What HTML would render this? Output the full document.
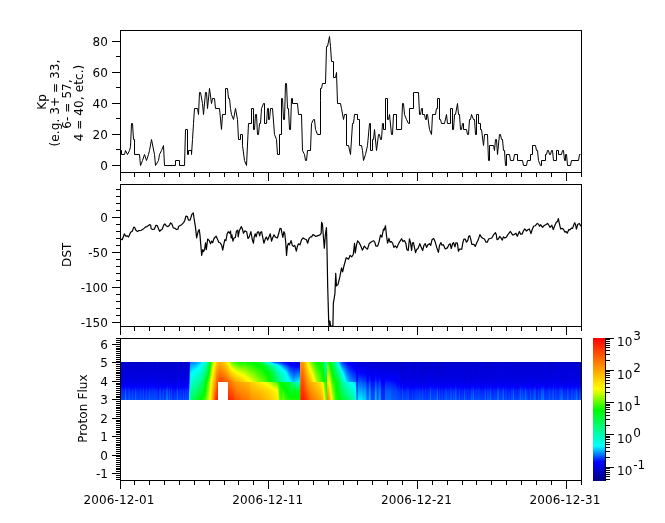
<!DOCTYPE html>
<html><head><meta charset="utf-8"><title>Kp DST Proton Flux</title>
<style>html,body{margin:0;padding:0;background:#fff}svg{display:block}</style></head>
<body>
<svg width="665" height="523" viewBox="0 0 665 523">
<rect width="665" height="523" fill="#fff"/>
<defs><linearGradient id="g1" x2="0" y2="1"><stop offset="0" stop-color="#0000d7"/><stop offset="0.526" stop-color="#0000e5"/><stop offset="0.666" stop-color="#00f"/><stop offset="0.763" stop-color="#002bff"/><stop offset="1" stop-color="#004eff"/></linearGradient><linearGradient id="g2" x2="0" y2="1"><stop offset="0" stop-color="#0000cd"/><stop offset="0.526" stop-color="#0000ef"/><stop offset="0.629" stop-color="#00f"/><stop offset="0.763" stop-color="#0032ff"/><stop offset="1" stop-color="#0050ff"/></linearGradient><linearGradient id="g3" x2="0" y2="1"><stop offset="0" stop-color="#0000d7"/><stop offset="0.526" stop-color="#0000ef"/><stop offset="0.641" stop-color="#00f"/><stop offset="0.763" stop-color="#002aff"/><stop offset="1" stop-color="#0045ff"/></linearGradient><linearGradient id="g4" x2="0" y2="1"><stop offset="0" stop-color="#0000d4"/><stop offset="0.526" stop-color="#00e"/><stop offset="0.651" stop-color="#00f"/><stop offset="0.763" stop-color="#0025ff"/><stop offset="1" stop-color="#003fff"/></linearGradient><linearGradient id="g5" x2="0" y2="1"><stop offset="0" stop-color="#0000d0"/><stop offset="0.526" stop-color="#0000e7"/><stop offset="0.669" stop-color="#00f"/><stop offset="0.763" stop-color="#0027ff"/><stop offset="1" stop-color="#0047ff"/></linearGradient><linearGradient id="g6" x2="0" y2="1"><stop offset="0" stop-color="#0000d2"/><stop offset="0.526" stop-color="#0000e2"/><stop offset="0.632" stop-color="#00f"/><stop offset="0.763" stop-color="#0056ff"/><stop offset="1" stop-color="#008aff"/></linearGradient><linearGradient id="g7" x2="0" y2="1"><stop offset="0" stop-color="#0000c6"/><stop offset="0.526" stop-color="#0000eb"/><stop offset="0.648" stop-color="#00f"/><stop offset="0.763" stop-color="#002eff"/><stop offset="1" stop-color="#004dff"/></linearGradient><linearGradient id="g8" x2="0" y2="1"><stop offset="0" stop-color="#0000d0"/><stop offset="0.526" stop-color="#0000e6"/><stop offset="0.679" stop-color="#00f"/><stop offset="0.763" stop-color="#02f"/><stop offset="1" stop-color="#0041ff"/></linearGradient><linearGradient id="g9" x2="0" y2="1"><stop offset="0" stop-color="#0000d4"/><stop offset="0.526" stop-color="#0000ef"/><stop offset="0.623" stop-color="#00f"/><stop offset="0.763" stop-color="#0039ff"/><stop offset="1" stop-color="#0059ff"/></linearGradient><linearGradient id="g10" x2="0" y2="1"><stop offset="0" stop-color="#0000cb"/><stop offset="0.526" stop-color="#0000eb"/><stop offset="0.638" stop-color="#00f"/><stop offset="0.763" stop-color="#0036ff"/><stop offset="1" stop-color="#0059ff"/></linearGradient><linearGradient id="g11" x2="0" y2="1"><stop offset="0" stop-color="#0000c9"/><stop offset="0.526" stop-color="#0000e3"/><stop offset="0.672" stop-color="#00f"/><stop offset="0.763" stop-color="#002aff"/><stop offset="1" stop-color="#004eff"/></linearGradient><linearGradient id="g12" x2="0" y2="1"><stop offset="0" stop-color="#0000c5"/><stop offset="0.526" stop-color="#0000e7"/><stop offset="0.672" stop-color="#00f"/><stop offset="0.763" stop-color="#0023ff"/><stop offset="1" stop-color="#0042ff"/></linearGradient><linearGradient id="g13" x2="0" y2="1"><stop offset="0" stop-color="#0000d6"/><stop offset="0.526" stop-color="#0000e0"/><stop offset="0.663" stop-color="#00f"/><stop offset="0.763" stop-color="#0036ff"/><stop offset="1" stop-color="#0061ff"/></linearGradient><linearGradient id="g14" x2="0" y2="1"><stop offset="0" stop-color="#0000ce"/><stop offset="0.526" stop-color="#0000ed"/><stop offset="0.651" stop-color="#00f"/><stop offset="0.763" stop-color="#0026ff"/><stop offset="1" stop-color="#0041ff"/></linearGradient><linearGradient id="g15" x2="0" y2="1"><stop offset="0" stop-color="#00c"/><stop offset="0.526" stop-color="#0000e4"/><stop offset="0.688" stop-color="#00f"/><stop offset="0.763" stop-color="#001fff"/><stop offset="1" stop-color="#003fff"/></linearGradient><linearGradient id="g16" x2="0" y2="1"><stop offset="0" stop-color="#0000cb"/><stop offset="0.526" stop-color="#0000e5"/><stop offset="0.639" stop-color="#00f"/><stop offset="0.763" stop-color="#0046ff"/><stop offset="1" stop-color="#0072ff"/></linearGradient><linearGradient id="g17" x2="0" y2="1"><stop offset="0" stop-color="#0000c3"/><stop offset="0.526" stop-color="#0000e2"/><stop offset="0.672" stop-color="#00f"/><stop offset="0.763" stop-color="#002bff"/><stop offset="1" stop-color="#0050ff"/></linearGradient><linearGradient id="g18" x2="0" y2="1"><stop offset="0" stop-color="#0000c9"/><stop offset="0.526" stop-color="#0000ef"/><stop offset="0.64" stop-color="#00f"/><stop offset="0.763" stop-color="#002aff"/><stop offset="1" stop-color="#0046ff"/></linearGradient><linearGradient id="g19" x2="0" y2="1"><stop offset="0" stop-color="#0000d2"/><stop offset="0.526" stop-color="#0000e3"/><stop offset="0.68" stop-color="#00f"/><stop offset="0.763" stop-color="#0025ff"/><stop offset="1" stop-color="#0048ff"/></linearGradient><linearGradient id="g20" x2="0" y2="1"><stop offset="0" stop-color="#0000ce"/><stop offset="0.526" stop-color="#0000ef"/><stop offset="0.64" stop-color="#00f"/><stop offset="0.763" stop-color="#0028ff"/><stop offset="1" stop-color="#0042ff"/></linearGradient><linearGradient id="g21" x2="0" y2="1"><stop offset="0" stop-color="#0000c7"/><stop offset="0.526" stop-color="#0000ef"/><stop offset="0.632" stop-color="#00f"/><stop offset="0.763" stop-color="#0030ff"/><stop offset="1" stop-color="#004dff"/></linearGradient><linearGradient id="g22" x2="0" y2="1"><stop offset="0" stop-color="#0000c5"/><stop offset="0.526" stop-color="#0000ea"/><stop offset="0.657" stop-color="#00f"/><stop offset="0.763" stop-color="#002aff"/><stop offset="1" stop-color="#004aff"/></linearGradient><linearGradient id="g23" x2="0" y2="1"><stop offset="0" stop-color="#0000c5"/><stop offset="0.526" stop-color="#0000e7"/><stop offset="0.671" stop-color="#00f"/><stop offset="0.763" stop-color="#0025ff"/><stop offset="1" stop-color="#04f"/></linearGradient><linearGradient id="g24" x2="0" y2="1"><stop offset="0" stop-color="#0000cf"/><stop offset="0.526" stop-color="#0000eb"/><stop offset="0.633" stop-color="#00f"/><stop offset="0.763" stop-color="#003aff"/><stop offset="1" stop-color="#005dff"/></linearGradient><linearGradient id="g25" x2="0" y2="1"><stop offset="0" stop-color="#0000d5"/><stop offset="0.526" stop-color="#0000e1"/><stop offset="0.7" stop-color="#00f"/><stop offset="0.763" stop-color="#001bff"/><stop offset="1" stop-color="#003cff"/></linearGradient><linearGradient id="g26" x2="0" y2="1"><stop offset="0" stop-color="#0000ce"/><stop offset="0.526" stop-color="#0000ec"/><stop offset="0.647" stop-color="#00f"/><stop offset="0.763" stop-color="#002cff"/><stop offset="1" stop-color="#004aff"/></linearGradient><linearGradient id="g27" x2="0" y2="1"><stop offset="0" stop-color="#0000cf"/><stop offset="0.526" stop-color="#0000f0"/><stop offset="0.621" stop-color="#00f"/><stop offset="0.763" stop-color="#0037ff"/><stop offset="1" stop-color="#0056ff"/></linearGradient><linearGradient id="g28" x2="0" y2="1"><stop offset="0" stop-color="#0000c9"/><stop offset="0.526" stop-color="#0000e1"/><stop offset="0.689" stop-color="#00f"/><stop offset="0.763" stop-color="#0021ff"/><stop offset="1" stop-color="#04f"/></linearGradient><linearGradient id="g29" x2="0" y2="1"><stop offset="0" stop-color="#0000d8"/><stop offset="0.526" stop-color="#0000e5"/><stop offset="0.672" stop-color="#00f"/><stop offset="0.763" stop-color="#0027ff"/><stop offset="1" stop-color="#0049ff"/></linearGradient><linearGradient id="g30" x2="0" y2="1"><stop offset="0" stop-color="#0000c7"/><stop offset="0.526" stop-color="#0000e2"/><stop offset="0.652" stop-color="#00f"/><stop offset="0.763" stop-color="#003eff"/><stop offset="1" stop-color="#006aff"/></linearGradient><linearGradient id="g31" x2="0" y2="1"><stop offset="0" stop-color="#0000ca"/><stop offset="0.526" stop-color="#00e"/><stop offset="0.639" stop-color="#00f"/><stop offset="0.763" stop-color="#002dff"/><stop offset="1" stop-color="#0049ff"/></linearGradient><linearGradient id="g32" x2="0" y2="1"><stop offset="0" stop-color="#0000d5"/><stop offset="0.526" stop-color="#0000ec"/><stop offset="0.641" stop-color="#00f"/><stop offset="0.763" stop-color="#002fff"/><stop offset="1" stop-color="#004eff"/></linearGradient><linearGradient id="g33" x2="0" y2="1"><stop offset="0" stop-color="#0000d5"/><stop offset="0.526" stop-color="#0000f0"/><stop offset="0.625" stop-color="#00f"/><stop offset="0.763" stop-color="#03f"/><stop offset="1" stop-color="#0051ff"/></linearGradient><linearGradient id="g34" x2="0" y2="1"><stop offset="0" stop-color="#0000c5"/><stop offset="0.526" stop-color="#0000ef"/><stop offset="0.636" stop-color="#00f"/><stop offset="0.763" stop-color="#002bff"/><stop offset="1" stop-color="#0046ff"/></linearGradient><linearGradient id="g35" x2="0" y2="1"><stop offset="0" stop-color="#0000d1"/><stop offset="0.526" stop-color="#0000ec"/><stop offset="0.633" stop-color="#00f"/><stop offset="0.763" stop-color="#0038ff"/><stop offset="1" stop-color="#005bff"/></linearGradient><linearGradient id="g36" x2="0" y2="1"><stop offset="0" stop-color="#0000c2"/><stop offset="0.526" stop-color="#0000e2"/><stop offset="0.673" stop-color="#00f"/><stop offset="0.763" stop-color="#002aff"/><stop offset="1" stop-color="#0050ff"/></linearGradient><linearGradient id="g37" x2="0" y2="1"><stop offset="0" stop-color="#0000d7"/><stop offset="0.526" stop-color="#00e"/><stop offset="0.637" stop-color="#00f"/><stop offset="0.763" stop-color="#002dff"/><stop offset="1" stop-color="#004aff"/></linearGradient><linearGradient id="g38" x2="0" y2="1"><stop offset="0" stop-color="#0000d5"/><stop offset="0.526" stop-color="#0000e3"/><stop offset="0.676" stop-color="#00f"/><stop offset="0.763" stop-color="#0028ff"/><stop offset="1" stop-color="#004cff"/></linearGradient><linearGradient id="g39" x2="0" y2="1"><stop offset="0" stop-color="#0000d6"/><stop offset="0.526" stop-color="#0000e7"/><stop offset="0.686" stop-color="#00f"/><stop offset="0.763" stop-color="#001bff"/><stop offset="1" stop-color="#0037ff"/></linearGradient><linearGradient id="g40" x2="0" y2="1"><stop offset="0" stop-color="#0000c2"/><stop offset="0.526" stop-color="#0000e7"/><stop offset="0.649" stop-color="#00f"/><stop offset="0.763" stop-color="#0035ff"/><stop offset="1" stop-color="#0059ff"/></linearGradient><linearGradient id="g41" x2="0" y2="1"><stop offset="0" stop-color="#0000d1"/><stop offset="0.526" stop-color="#0000ec"/><stop offset="0.625" stop-color="#00f"/><stop offset="0.763" stop-color="#0042ff"/><stop offset="1" stop-color="#0067ff"/></linearGradient><linearGradient id="g42" x2="0" y2="1"><stop offset="0" stop-color="#0000c7"/><stop offset="0.526" stop-color="#0000e7"/><stop offset="0.68" stop-color="#00f"/><stop offset="0.763" stop-color="#001fff"/><stop offset="1" stop-color="#003cff"/></linearGradient><linearGradient id="g43" x2="0" y2="1"><stop offset="0" stop-color="#0000c2"/><stop offset="0.526" stop-color="#0000e3"/><stop offset="0.675" stop-color="#00f"/><stop offset="0.763" stop-color="#0028ff"/><stop offset="1" stop-color="#004cff"/></linearGradient><linearGradient id="g44" x2="0" y2="1"><stop offset="0" stop-color="#0000c8"/><stop offset="0.526" stop-color="#0000e3"/><stop offset="0.655" stop-color="#00f"/><stop offset="0.763" stop-color="#0039ff"/><stop offset="1" stop-color="#0063ff"/></linearGradient><linearGradient id="g45" x2="0" y2="1"><stop offset="0" stop-color="#0000d8"/><stop offset="0.526" stop-color="#0000ea"/><stop offset="0.661" stop-color="#00f"/><stop offset="0.763" stop-color="#0026ff"/><stop offset="1" stop-color="#0043ff"/></linearGradient><linearGradient id="g46" x2="0" y2="1"><stop offset="0" stop-color="#0000c9"/><stop offset="0.526" stop-color="#0000ec"/><stop offset="0.65" stop-color="#00f"/><stop offset="0.763" stop-color="#002bff"/><stop offset="1" stop-color="#0049ff"/></linearGradient><linearGradient id="g47" x2="0" y2="1"><stop offset="0" stop-color="#0000c2"/><stop offset="0.526" stop-color="#0000e1"/><stop offset="0.643" stop-color="#00f"/><stop offset="0.763" stop-color="#004bff"/><stop offset="1" stop-color="#007cff"/></linearGradient><linearGradient id="g48" x2="0" y2="1"><stop offset="0" stop-color="#0000d4"/><stop offset="0.526" stop-color="#0000ec"/><stop offset="0.61" stop-color="#00f"/><stop offset="0.763" stop-color="#0053ff"/><stop offset="1" stop-color="#007eff"/></linearGradient><linearGradient id="g49" x2="0" y2="1"><stop offset="0" stop-color="#0000c4"/><stop offset="0.526" stop-color="#0000e6"/><stop offset="0.667" stop-color="#00f"/><stop offset="0.763" stop-color="#0029ff"/><stop offset="1" stop-color="#004bff"/></linearGradient><linearGradient id="g50" x2="0" y2="1"><stop offset="0" stop-color="#0000c6"/><stop offset="0.526" stop-color="#0000e5"/><stop offset="0.643" stop-color="#00f"/><stop offset="0.763" stop-color="#0040ff"/><stop offset="1" stop-color="#0069ff"/></linearGradient><linearGradient id="g51" x2="0" y2="1"><stop offset="0" stop-color="#0000c7"/><stop offset="0.526" stop-color="#0000e1"/><stop offset="0.694" stop-color="#00f"/><stop offset="0.763" stop-color="#001dff"/><stop offset="1" stop-color="#003fff"/></linearGradient><linearGradient id="g52" x2="0" y2="1"><stop offset="0" stop-color="#0000c7"/><stop offset="0.526" stop-color="#0000ed"/><stop offset="0.626" stop-color="#00f"/><stop offset="0.763" stop-color="#003cff"/><stop offset="1" stop-color="#005eff"/></linearGradient><linearGradient id="g53" x2="0" y2="1"><stop offset="0" stop-color="#0000d0"/><stop offset="0.526" stop-color="#0000e0"/><stop offset="0.698" stop-color="#00f"/><stop offset="0.763" stop-color="#001cff"/><stop offset="1" stop-color="#003eff"/></linearGradient><linearGradient id="g54" x2="0" y2="1"><stop offset="0" stop-color="#0000d5"/><stop offset="0.526" stop-color="#0000e4"/><stop offset="0.69" stop-color="#00f"/><stop offset="0.763" stop-color="#001dff"/><stop offset="1" stop-color="#003cff"/></linearGradient><linearGradient id="g55" x2="0" y2="1"><stop offset="0" stop-color="#0000c6"/><stop offset="0.526" stop-color="#0000e1"/><stop offset="0.679" stop-color="#00f"/><stop offset="0.763" stop-color="#0027ff"/><stop offset="1" stop-color="#004cff"/></linearGradient><linearGradient id="g56" x2="0" y2="1"><stop offset="0" stop-color="#0000ca"/><stop offset="0.526" stop-color="#0000e0"/><stop offset="0.702" stop-color="#00f"/><stop offset="0.763" stop-color="#001aff"/><stop offset="1" stop-color="#003bff"/></linearGradient><linearGradient id="g57" x2="0" y2="1"><stop offset="0" stop-color="#0000d9"/><stop offset="0.526" stop-color="#00e"/><stop offset="0.646" stop-color="#00f"/><stop offset="0.763" stop-color="#0029ff"/><stop offset="1" stop-color="#04f"/></linearGradient><linearGradient id="g58" x2="0" y2="1"><stop offset="0" stop-color="#0000c3"/><stop offset="0.526" stop-color="#0000e7"/><stop offset="0.627" stop-color="#00f"/><stop offset="0.763" stop-color="#004dff"/><stop offset="1" stop-color="#0079ff"/></linearGradient><linearGradient id="g59" x2="0" y2="1"><stop offset="0" stop-color="#0000d4"/><stop offset="0.526" stop-color="#0000e3"/><stop offset="0.691" stop-color="#00f"/><stop offset="0.763" stop-color="#001eff"/><stop offset="1" stop-color="#003fff"/></linearGradient><linearGradient id="g60" x2="0" y2="1"><stop offset="0" stop-color="#0000cb"/><stop offset="0.526" stop-color="#0000ec"/><stop offset="0.648" stop-color="#00f"/><stop offset="0.763" stop-color="#002bff"/><stop offset="1" stop-color="#0049ff"/></linearGradient><linearGradient id="g61" x2="0" y2="1"><stop offset="0" stop-color="#0000c4"/><stop offset="0.526" stop-color="#00e"/><stop offset="0.644" stop-color="#00f"/><stop offset="0.763" stop-color="#002aff"/><stop offset="1" stop-color="#0046ff"/></linearGradient><linearGradient id="g62" x2="0" y2="1"><stop offset="0" stop-color="#0000c4"/><stop offset="0.526" stop-color="#0000e7"/><stop offset="0.67" stop-color="#00f"/><stop offset="0.763" stop-color="#0026ff"/><stop offset="1" stop-color="#0047ff"/></linearGradient><linearGradient id="g63" x2="0" y2="1"><stop offset="0" stop-color="#0000cd"/><stop offset="0.526" stop-color="#0000e8"/><stop offset="0.677" stop-color="#00f"/><stop offset="0.763" stop-color="#0020ff"/><stop offset="1" stop-color="#003dff"/></linearGradient><linearGradient id="g64" x2="0" y2="1"><stop offset="0" stop-color="#0000d5"/><stop offset="0.526" stop-color="#0000e9"/><stop offset="0.645" stop-color="#00f"/><stop offset="0.763" stop-color="#0035ff"/><stop offset="1" stop-color="#0058ff"/></linearGradient><linearGradient id="g65" x2="0" y2="1"><stop offset="0" stop-color="#0000ce"/><stop offset="0.526" stop-color="#0000ed"/><stop offset="0.659" stop-color="#00f"/><stop offset="0.763" stop-color="#02f"/><stop offset="1" stop-color="#003bff"/></linearGradient><linearGradient id="g66" x2="0" y2="1"><stop offset="0" stop-color="#0000cd"/><stop offset="0.526" stop-color="#0000eb"/><stop offset="0.638" stop-color="#00f"/><stop offset="0.763" stop-color="#0037ff"/><stop offset="1" stop-color="#005aff"/></linearGradient><linearGradient id="g67" x2="0" y2="1"><stop offset="0" stop-color="#00c"/><stop offset="0.526" stop-color="#00e"/><stop offset="0.642" stop-color="#00f"/><stop offset="0.763" stop-color="#002bff"/><stop offset="1" stop-color="#0047ff"/></linearGradient><linearGradient id="g68" x2="0" y2="1"><stop offset="0" stop-color="#0000cd"/><stop offset="0.526" stop-color="#0000e4"/><stop offset="0.676" stop-color="#00f"/><stop offset="0.763" stop-color="#0027ff"/><stop offset="1" stop-color="#004aff"/></linearGradient><linearGradient id="g69" x2="0" y2="1"><stop offset="0" stop-color="#0000cf"/><stop offset="0.526" stop-color="#0000e1"/><stop offset="0.684" stop-color="#00f"/><stop offset="0.763" stop-color="#0024ff"/><stop offset="1" stop-color="#0048ff"/></linearGradient><linearGradient id="g70" x2="0" y2="1"><stop offset="0" stop-color="#0000f9"/><stop offset="0.056" stop-color="#00f"/><stop offset="0.526" stop-color="#007aff"/><stop offset="0.851" stop-color="#0ff"/><stop offset="1" stop-color="#00fee4"/></linearGradient><linearGradient id="g71" x2="0" y2="1"><stop offset="0" stop-color="#0075ff"/><stop offset="0.325" stop-color="#0ff"/><stop offset="0.526" stop-color="#00fed9"/><stop offset="1" stop-color="#00fc66"/></linearGradient><linearGradient id="g72" x2="0" y2="1"><stop offset="0" stop-color="#0080ff"/><stop offset="0.293" stop-color="#0ff"/><stop offset="0.526" stop-color="#00fed2"/><stop offset="1" stop-color="#00fc67"/></linearGradient><linearGradient id="g73" x2="0" y2="1"><stop offset="0" stop-color="#0084ff"/><stop offset="0.27" stop-color="#0ff"/><stop offset="0.526" stop-color="#00fecb"/><stop offset="1" stop-color="#00fc5b"/></linearGradient><linearGradient id="g74" x2="0" y2="1"><stop offset="0" stop-color="#0087ff"/><stop offset="0.249" stop-color="#0ff"/><stop offset="0.526" stop-color="#00fec4"/><stop offset="1" stop-color="#00fc4f"/></linearGradient><linearGradient id="g75" x2="0" y2="1"><stop offset="0" stop-color="#008aff"/><stop offset="0.23" stop-color="#0ff"/><stop offset="0.526" stop-color="#00febc"/><stop offset="1" stop-color="#00fb43"/></linearGradient><linearGradient id="g76" x2="0" y2="1"><stop offset="0" stop-color="#008eff"/><stop offset="0.213" stop-color="#0ff"/><stop offset="0.526" stop-color="#00feb5"/><stop offset="1" stop-color="#00fb37"/></linearGradient><linearGradient id="g77" x2="0" y2="1"><stop offset="0" stop-color="#0096ff"/><stop offset="0.192" stop-color="#0ff"/><stop offset="0.526" stop-color="#00fdad"/><stop offset="1" stop-color="#00fb2d"/></linearGradient><linearGradient id="g78" x2="0" y2="1"><stop offset="0" stop-color="#00a3ff"/><stop offset="0.166" stop-color="#0ff"/><stop offset="0.526" stop-color="#00fda6"/><stop offset="1" stop-color="#00fb22"/></linearGradient><linearGradient id="g79" x2="0" y2="1"><stop offset="0" stop-color="#00b0ff"/><stop offset="0.141" stop-color="#0ff"/><stop offset="0.526" stop-color="#00fd9f"/><stop offset="1" stop-color="#00fa18"/></linearGradient><linearGradient id="g80" x2="0" y2="1"><stop offset="0" stop-color="#00bdff"/><stop offset="0.117" stop-color="#0ff"/><stop offset="0.526" stop-color="#00fd98"/><stop offset="1" stop-color="#00fa0e"/></linearGradient><linearGradient id="g81" x2="0" y2="1"><stop offset="0" stop-color="#00caff"/><stop offset="0.093" stop-color="#0ff"/><stop offset="0.526" stop-color="#00fd91"/><stop offset="1" stop-color="#00fa04"/></linearGradient><linearGradient id="g82" x2="0" y2="1"><stop offset="0" stop-color="#00dfff"/><stop offset="0.053" stop-color="#0ff"/><stop offset="0.526" stop-color="#00fc80"/><stop offset="0.978" stop-color="#00fa00"/><stop offset="1" stop-color="#0bfa00"/></linearGradient><linearGradient id="g83" x2="0" y2="1"><stop offset="0" stop-color="#00faff"/><stop offset="0.008" stop-color="#0ff"/><stop offset="0.526" stop-color="#00fc68"/><stop offset="0.935" stop-color="#00fa00"/><stop offset="1" stop-color="#1cfb00"/></linearGradient><linearGradient id="g84" x2="0" y2="1"><stop offset="0" stop-color="#00fff6"/><stop offset="0.526" stop-color="#00fc50"/><stop offset="0.881" stop-color="#00fa00"/><stop offset="1" stop-color="#2efb00"/></linearGradient><linearGradient id="g85" x2="0" y2="1"><stop offset="0" stop-color="#00ffea"/><stop offset="0.526" stop-color="#00fb39"/><stop offset="0.812" stop-color="#00fa00"/><stop offset="1" stop-color="#40fb00"/></linearGradient><linearGradient id="g86" x2="0" y2="1"><stop offset="0" stop-color="#00fede"/><stop offset="0.526" stop-color="#00fb21"/><stop offset="0.721" stop-color="#00fa00"/><stop offset="1" stop-color="#51fc00"/></linearGradient><linearGradient id="g87" x2="0" y2="1"><stop offset="0" stop-color="#00febb"/><stop offset="0.526" stop-color="#00fa04"/><stop offset="0.554" stop-color="#00fa00"/><stop offset="1" stop-color="#77fc00"/></linearGradient><linearGradient id="g88" x2="0" y2="1"><stop offset="0" stop-color="#00fd92"/><stop offset="0.447" stop-color="#00fa00"/><stop offset="0.526" stop-color="#2cfb00"/><stop offset="1" stop-color="#a2fd00"/></linearGradient><linearGradient id="g89" x2="0" y2="1"><stop offset="0" stop-color="#00fc6a"/><stop offset="0.344" stop-color="#00fa00"/><stop offset="0.526" stop-color="#60fc00"/><stop offset="1" stop-color="#ccfe00"/></linearGradient><linearGradient id="g90" x2="0" y2="1"><stop offset="0" stop-color="#00fb41"/><stop offset="0.226" stop-color="#00fa00"/><stop offset="0.526" stop-color="#94fd00"/><stop offset="1" stop-color="#f7ff00"/></linearGradient><linearGradient id="g91" x2="0" y2="1"><stop offset="0" stop-color="#00fa0c"/><stop offset="0.045" stop-color="#00fa00"/><stop offset="0.526" stop-color="#d7fe00"/><stop offset="0.742" stop-color="#ff0"/><stop offset="1" stop-color="#ffeb00"/></linearGradient><linearGradient id="g92" x2="0" y2="1"><stop offset="0" stop-color="#4cfb00"/><stop offset="0.45" stop-color="#ff0"/><stop offset="0.526" stop-color="#fff200"/><stop offset="1" stop-color="#ffd200"/></linearGradient><linearGradient id="g93" x2="0" y2="1"><stop offset="0" stop-color="#99fd00"/><stop offset="0.275" stop-color="#ff0"/><stop offset="0.526" stop-color="#ffd900"/><stop offset="1" stop-color="#ffb300"/></linearGradient><linearGradient id="g94" x2="0" y2="1"><stop offset="0" stop-color="#cbfe00"/><stop offset="0.142" stop-color="#ff0"/><stop offset="0.526" stop-color="#ffc500"/><stop offset="1" stop-color="#ff8a00"/></linearGradient><linearGradient id="g95" x2="0" y2="1"><stop offset="0" stop-color="#fcff00"/><stop offset="0.008" stop-color="#ff0"/><stop offset="0.526" stop-color="#ffb000"/><stop offset="1" stop-color="#ff6200"/></linearGradient><linearGradient id="g96" x2="0" y2="1"><stop offset="0" stop-color="#ffeb00"/><stop offset="0.526" stop-color="#ff9700"/><stop offset="1" stop-color="#ff3c00"/></linearGradient><linearGradient id="g97" x2="0" y2="1"><stop offset="0" stop-color="#ffd400"/><stop offset="0.526" stop-color="#ff6c00"/><stop offset="1" stop-color="#ff2500"/></linearGradient><linearGradient id="g98" x2="0" y2="1"><stop offset="0" stop-color="#ffc100"/><stop offset="0.526" stop-color="#ff5b00"/><stop offset="1" stop-color="#ff1e00"/></linearGradient><linearGradient id="g99" x2="0" y2="1"><stop offset="0" stop-color="#ffb900"/><stop offset="1" stop-color="#ff5100"/></linearGradient><linearGradient id="g100" x2="0" y2="1"><stop offset="0" stop-color="#ffb200"/><stop offset="1" stop-color="#ff4600"/></linearGradient><linearGradient id="g101" x2="0" y2="1"><stop offset="0" stop-color="#ffb300"/><stop offset="1" stop-color="#ff4300"/></linearGradient><linearGradient id="g102" x2="0" y2="1"><stop offset="0" stop-color="#ffba00"/><stop offset="1" stop-color="#ff4700"/></linearGradient><linearGradient id="g103" x2="0" y2="1"><stop offset="0" stop-color="#ffc200"/><stop offset="1" stop-color="#ff4a00"/></linearGradient><linearGradient id="g104" x2="0" y2="1"><stop offset="0" stop-color="#ffc900"/><stop offset="1" stop-color="#ff4e00"/></linearGradient><linearGradient id="g105" x2="0" y2="1"><stop offset="0" stop-color="#ffd200"/><stop offset="1" stop-color="#ff5200"/></linearGradient><linearGradient id="g106" x2="0" y2="1"><stop offset="0" stop-color="#fd0"/><stop offset="1" stop-color="#ff5700"/></linearGradient><linearGradient id="g107" x2="0" y2="1"><stop offset="0" stop-color="#ffe800"/><stop offset="1" stop-color="#ff5c00"/></linearGradient><linearGradient id="g108" x2="0" y2="1"><stop offset="0" stop-color="#fff600"/><stop offset="1" stop-color="#ff6200"/></linearGradient><linearGradient id="g109" x2="0" y2="1"><stop offset="0" stop-color="#e2fe00"/><stop offset="0.039" stop-color="#ff0"/><stop offset="0.526" stop-color="#ff6a00"/><stop offset="1" stop-color="#ff1e00"/></linearGradient><linearGradient id="g110" x2="0" y2="1"><stop offset="0" stop-color="#b9fe00"/><stop offset="0.17" stop-color="#ff0"/><stop offset="1" stop-color="#ff7300"/></linearGradient><linearGradient id="g111" x2="0" y2="1"><stop offset="0" stop-color="#ff7200"/><stop offset="1" stop-color="#ff2100"/></linearGradient><linearGradient id="g112" x2="0" y2="1"><stop offset="0" stop-color="#96fd00"/><stop offset="0.247" stop-color="#ff0"/><stop offset="1" stop-color="#ff7b00"/></linearGradient><linearGradient id="g113" x2="0" y2="1"><stop offset="0" stop-color="#ff7800"/><stop offset="1" stop-color="#ff2600"/></linearGradient><linearGradient id="g114" x2="0" y2="1"><stop offset="0" stop-color="#73fc00"/><stop offset="0.318" stop-color="#ff0"/><stop offset="1" stop-color="#ff8300"/></linearGradient><linearGradient id="g115" x2="0" y2="1"><stop offset="0" stop-color="#ff7f00"/><stop offset="1" stop-color="#ff2b00"/></linearGradient><linearGradient id="g116" x2="0" y2="1"><stop offset="0" stop-color="#5bfc00"/><stop offset="0.368" stop-color="#ff0"/><stop offset="1" stop-color="#ff8b00"/></linearGradient><linearGradient id="g117" x2="0" y2="1"><stop offset="0" stop-color="#ff8600"/><stop offset="1" stop-color="#ff3100"/></linearGradient><linearGradient id="g118" x2="0" y2="1"><stop offset="0" stop-color="#4ffc00"/><stop offset="0.403" stop-color="#ff0"/><stop offset="1" stop-color="#ff9300"/></linearGradient><linearGradient id="g119" x2="0" y2="1"><stop offset="0" stop-color="#ff8d00"/><stop offset="1" stop-color="#ff3a00"/></linearGradient><linearGradient id="g120" x2="0" y2="1"><stop offset="0" stop-color="#42fb00"/><stop offset="0.438" stop-color="#ff0"/><stop offset="1" stop-color="#ff9b00"/></linearGradient><linearGradient id="g121" x2="0" y2="1"><stop offset="0" stop-color="#ff9500"/><stop offset="1" stop-color="#ff4300"/></linearGradient><linearGradient id="g122" x2="0" y2="1"><stop offset="0" stop-color="#36fb00"/><stop offset="0.475" stop-color="#ff0"/><stop offset="1" stop-color="#ffa400"/></linearGradient><linearGradient id="g123" x2="0" y2="1"><stop offset="0" stop-color="#ff9c00"/><stop offset="1" stop-color="#ff4c00"/></linearGradient><linearGradient id="g124" x2="0" y2="1"><stop offset="0" stop-color="#29fb00"/><stop offset="0.514" stop-color="#ff0"/><stop offset="1" stop-color="#ffac00"/></linearGradient><linearGradient id="g125" x2="0" y2="1"><stop offset="0" stop-color="#ffa100"/><stop offset="1" stop-color="#ff5200"/></linearGradient><linearGradient id="g126" x2="0" y2="1"><stop offset="0" stop-color="#20fb00"/><stop offset="0.542" stop-color="#ff0"/><stop offset="1" stop-color="#ffb200"/></linearGradient><linearGradient id="g127" x2="0" y2="1"><stop offset="0" stop-color="#ffa300"/><stop offset="1" stop-color="#ff5700"/></linearGradient><linearGradient id="g128" x2="0" y2="1"><stop offset="0" stop-color="#18fa00"/><stop offset="0.564" stop-color="#ff0"/><stop offset="1" stop-color="#ffb600"/></linearGradient><linearGradient id="g129" x2="0" y2="1"><stop offset="0" stop-color="#ffa600"/><stop offset="1" stop-color="#ff5b00"/></linearGradient><linearGradient id="g130" x2="0" y2="1"><stop offset="0" stop-color="#11fa00"/><stop offset="0.587" stop-color="#ff0"/><stop offset="1" stop-color="#ffba00"/></linearGradient><linearGradient id="g131" x2="0" y2="1"><stop offset="0" stop-color="#ffa800"/><stop offset="1" stop-color="#ff5f00"/></linearGradient><linearGradient id="g132" x2="0" y2="1"><stop offset="0" stop-color="#09fa00"/><stop offset="0.609" stop-color="#ff0"/><stop offset="1" stop-color="#ffbe00"/></linearGradient><linearGradient id="g133" x2="0" y2="1"><stop offset="0" stop-color="#fa0"/><stop offset="1" stop-color="#ff6400"/></linearGradient><linearGradient id="g134" x2="0" y2="1"><stop offset="0" stop-color="#02fa00"/><stop offset="0.632" stop-color="#ff0"/><stop offset="1" stop-color="#ffc200"/></linearGradient><linearGradient id="g135" x2="0" y2="1"><stop offset="0" stop-color="#ffac00"/><stop offset="1" stop-color="#ff6800"/></linearGradient><linearGradient id="g136" x2="0" y2="1"><stop offset="0" stop-color="#08fa00"/><stop offset="0.657" stop-color="#ff0"/><stop offset="1" stop-color="#ffca00"/></linearGradient><linearGradient id="g137" x2="0" y2="1"><stop offset="0" stop-color="#ffae00"/><stop offset="1" stop-color="#ff6d00"/></linearGradient><linearGradient id="g138" x2="0" y2="1"><stop offset="0" stop-color="#13fa00"/><stop offset="0.687" stop-color="#ff0"/><stop offset="1" stop-color="#ffd300"/></linearGradient><linearGradient id="g139" x2="0" y2="1"><stop offset="0" stop-color="#ffb100"/><stop offset="1" stop-color="#ff6f00"/></linearGradient><linearGradient id="g140" x2="0" y2="1"><stop offset="0" stop-color="#16fa00"/><stop offset="0.723" stop-color="#ff0"/><stop offset="1" stop-color="#ffda00"/></linearGradient><linearGradient id="g141" x2="0" y2="1"><stop offset="0" stop-color="#ffb400"/><stop offset="1" stop-color="#ff7200"/></linearGradient><linearGradient id="g142" x2="0" y2="1"><stop offset="0" stop-color="#11fa00"/><stop offset="0.762" stop-color="#ff0"/><stop offset="1" stop-color="#ffe000"/></linearGradient><linearGradient id="g143" x2="0" y2="1"><stop offset="0" stop-color="#ffb600"/><stop offset="1" stop-color="#ff7400"/></linearGradient><linearGradient id="g144" x2="0" y2="1"><stop offset="0" stop-color="#0cfa00"/><stop offset="0.804" stop-color="#ff0"/><stop offset="1" stop-color="#ffe700"/></linearGradient><linearGradient id="g145" x2="0" y2="1"><stop offset="0" stop-color="#ffb900"/><stop offset="1" stop-color="#ff7600"/></linearGradient><linearGradient id="g146" x2="0" y2="1"><stop offset="0" stop-color="#07fa00"/><stop offset="0.849" stop-color="#ff0"/><stop offset="1" stop-color="#ffed00"/></linearGradient><linearGradient id="g147" x2="0" y2="1"><stop offset="0" stop-color="#ffbc00"/><stop offset="1" stop-color="#ff7800"/></linearGradient><linearGradient id="g148" x2="0" y2="1"><stop offset="0" stop-color="#02fa00"/><stop offset="0.898" stop-color="#ff0"/><stop offset="1" stop-color="#fff300"/></linearGradient><linearGradient id="g149" x2="0" y2="1"><stop offset="0" stop-color="#ffbf00"/><stop offset="1" stop-color="#ff7a00"/></linearGradient><linearGradient id="g150" x2="0" y2="1"><stop offset="0" stop-color="#00fa01"/><stop offset="0.007" stop-color="#00fa00"/><stop offset="0.943" stop-color="#ff0"/><stop offset="1" stop-color="#fff900"/></linearGradient><linearGradient id="g151" x2="0" y2="1"><stop offset="0" stop-color="#ffc200"/><stop offset="0.5" stop-color="#ff9e00"/><stop offset="1" stop-color="#ff7c00"/></linearGradient><linearGradient id="g152" x2="0" y2="1"><stop offset="0" stop-color="#00fa03"/><stop offset="0.016" stop-color="#00fa00"/><stop offset="0.989" stop-color="#ff0"/><stop offset="1" stop-color="#fffe00"/></linearGradient><linearGradient id="g153" x2="0" y2="1"><stop offset="0" stop-color="#ffc900"/><stop offset="0.5" stop-color="#ffa800"/><stop offset="1" stop-color="#ff8900"/></linearGradient><linearGradient id="g154" x2="0" y2="1"><stop offset="0" stop-color="#00fa04"/><stop offset="0.027" stop-color="#00fa00"/><stop offset="1" stop-color="#f5ff00"/></linearGradient><linearGradient id="g155" x2="0" y2="1"><stop offset="0" stop-color="#ffd000"/><stop offset="0.5" stop-color="#ffaf00"/><stop offset="1" stop-color="#ff9200"/></linearGradient><linearGradient id="g156" x2="0" y2="1"><stop offset="0" stop-color="#00fa05"/><stop offset="0.039" stop-color="#00fa00"/><stop offset="1" stop-color="#e8ff00"/></linearGradient><linearGradient id="g157" x2="0" y2="1"><stop offset="0" stop-color="#ffd400"/><stop offset="0.5" stop-color="#ffb100"/><stop offset="1" stop-color="#ff9400"/></linearGradient><linearGradient id="g158" x2="0" y2="1"><stop offset="0" stop-color="#00fa07"/><stop offset="0.051" stop-color="#00fa00"/><stop offset="1" stop-color="#dcfe00"/></linearGradient><linearGradient id="g159" x2="0" y2="1"><stop offset="0" stop-color="#ffd800"/><stop offset="0.5" stop-color="#ffb300"/><stop offset="1" stop-color="#ff9600"/></linearGradient><linearGradient id="g160" x2="0" y2="1"><stop offset="0" stop-color="#00fa0b"/><stop offset="0.084" stop-color="#00fa00"/><stop offset="1" stop-color="#cffe00"/></linearGradient><linearGradient id="g161" x2="0" y2="1"><stop offset="0" stop-color="#ffdc00"/><stop offset="0.5" stop-color="#ffb500"/><stop offset="1" stop-color="#ff9700"/></linearGradient><linearGradient id="g162" x2="0" y2="1"><stop offset="0" stop-color="#00fa0f"/><stop offset="0.121" stop-color="#00fa00"/><stop offset="1" stop-color="#c1fe00"/></linearGradient><linearGradient id="g163" x2="0" y2="1"><stop offset="0" stop-color="#ffdf00"/><stop offset="0.5" stop-color="#ffb700"/><stop offset="1" stop-color="#f90"/></linearGradient><linearGradient id="g164" x2="0" y2="1"><stop offset="0" stop-color="#00fa14"/><stop offset="0.159" stop-color="#00fa00"/><stop offset="1" stop-color="#b4fe00"/></linearGradient><linearGradient id="g165" x2="0" y2="1"><stop offset="0" stop-color="#ffe300"/><stop offset="0.5" stop-color="#ffba00"/><stop offset="1" stop-color="#ff9b00"/></linearGradient><linearGradient id="g166" x2="0" y2="1"><stop offset="0" stop-color="#00fa18"/><stop offset="0.2" stop-color="#00fa00"/><stop offset="1" stop-color="#a7fd00"/></linearGradient><linearGradient id="g167" x2="0" y2="1"><stop offset="0" stop-color="#ffe700"/><stop offset="0.5" stop-color="#ffbc00"/><stop offset="1" stop-color="#ff9c00"/></linearGradient><linearGradient id="g168" x2="0" y2="1"><stop offset="0" stop-color="#00fb1d"/><stop offset="0.2" stop-color="#00fa01"/><stop offset="0.211" stop-color="#00fa00"/><stop offset="0.55" stop-color="#41fb00"/><stop offset="1" stop-color="#99fd00"/></linearGradient><linearGradient id="g169" x2="0" y2="1"><stop offset="0" stop-color="#ffeb00"/><stop offset="0.5" stop-color="#ffbe00"/><stop offset="1" stop-color="#ff9e00"/></linearGradient><linearGradient id="g170" x2="0" y2="1"><stop offset="0" stop-color="#00fb21"/><stop offset="0.194" stop-color="#00fa00"/><stop offset="0.2" stop-color="#02fa00"/><stop offset="0.55" stop-color="#3bfb00"/><stop offset="1" stop-color="#8cfd00"/></linearGradient><linearGradient id="g171" x2="0" y2="1"><stop offset="0" stop-color="#ffef00"/><stop offset="0.5" stop-color="#ffc000"/><stop offset="1" stop-color="#ffa000"/></linearGradient><linearGradient id="g172" x2="0" y2="1"><stop offset="0" stop-color="#00fb2e"/><stop offset="0.2" stop-color="#00fa01"/><stop offset="0.217" stop-color="#00fa00"/><stop offset="0.55" stop-color="#32fb00"/><stop offset="1" stop-color="#82fd00"/></linearGradient><linearGradient id="g173" x2="0" y2="1"><stop offset="0" stop-color="#fff300"/><stop offset="0.5" stop-color="#ffc200"/><stop offset="1" stop-color="#ffa300"/></linearGradient><linearGradient id="g174" x2="0" y2="1"><stop offset="0" stop-color="#00fb42"/><stop offset="0.2" stop-color="#00fa07"/><stop offset="0.279" stop-color="#00fa00"/><stop offset="0.55" stop-color="#28fb00"/><stop offset="1" stop-color="#7bfc00"/></linearGradient><linearGradient id="g175" x2="0" y2="1"><stop offset="0" stop-color="#fff800"/><stop offset="0.5" stop-color="#ffc500"/><stop offset="1" stop-color="#ffa700"/></linearGradient><linearGradient id="g176" x2="0" y2="1"><stop offset="0" stop-color="#00fc56"/><stop offset="0.2" stop-color="#00fa0a"/><stop offset="0.323" stop-color="#00fa00"/><stop offset="0.55" stop-color="#1ffb00"/><stop offset="1" stop-color="#74fc00"/></linearGradient><linearGradient id="g177" x2="0" y2="1"><stop offset="0" stop-color="#fffc00"/><stop offset="0.5" stop-color="#ffc800"/><stop offset="1" stop-color="#fa0"/></linearGradient><linearGradient id="g178" x2="0" y2="1"><stop offset="0" stop-color="#00fc6a"/><stop offset="0.2" stop-color="#00fa0b"/><stop offset="0.352" stop-color="#00fa00"/><stop offset="0.55" stop-color="#19fa00"/><stop offset="1" stop-color="#6dfc00"/></linearGradient><linearGradient id="g179" x2="0" y2="1"><stop offset="0" stop-color="#fdff00"/><stop offset="0.01" stop-color="#ff0"/><stop offset="0.5" stop-color="#ffca00"/><stop offset="1" stop-color="#ffae00"/></linearGradient><linearGradient id="g180" x2="0" y2="1"><stop offset="0" stop-color="#00fd8c"/><stop offset="0.2" stop-color="#00fb1c"/><stop offset="0.478" stop-color="#00fa00"/><stop offset="0.55" stop-color="#0dfa00"/><stop offset="1" stop-color="#5dfc00"/></linearGradient><linearGradient id="g181" x2="0" y2="1"><stop offset="0" stop-color="#f2ff00"/><stop offset="0.047" stop-color="#ff0"/><stop offset="0.5" stop-color="#ffcd00"/><stop offset="1" stop-color="#ffb100"/></linearGradient><linearGradient id="g182" x2="0" y2="1"><stop offset="0" stop-color="#00fdad"/><stop offset="0.2" stop-color="#00fb2c"/><stop offset="0.532" stop-color="#00fa00"/><stop offset="0.55" stop-color="#04fa00"/><stop offset="1" stop-color="#4dfc00"/></linearGradient><linearGradient id="g183" x2="0" y2="1"><stop offset="0" stop-color="#e8ff00"/><stop offset="0.083" stop-color="#ff0"/><stop offset="0.5" stop-color="#ffcf00"/><stop offset="1" stop-color="#ffb500"/></linearGradient><linearGradient id="g184" x2="0" y2="1"><stop offset="0" stop-color="#00fecf"/><stop offset="0.2" stop-color="#00fb3c"/><stop offset="0.55" stop-color="#00fa00"/><stop offset="0.551" stop-color="#00fa00"/><stop offset="1" stop-color="#3dfb00"/></linearGradient><linearGradient id="g185" x2="0" y2="1"><stop offset="0" stop-color="#defe00"/><stop offset="0.116" stop-color="#ff0"/><stop offset="0.5" stop-color="#ffd200"/><stop offset="1" stop-color="#ffb900"/></linearGradient><linearGradient id="g186" x2="0" y2="1"><stop offset="0" stop-color="#00ffed"/><stop offset="0.2" stop-color="#00fb4b"/><stop offset="0.55" stop-color="#00fa02"/><stop offset="0.586" stop-color="#00fa00"/><stop offset="1" stop-color="#2efb00"/></linearGradient><linearGradient id="g187" x2="0" y2="1"><stop offset="0" stop-color="#d4fe00"/><stop offset="0.149" stop-color="#ff0"/><stop offset="0.5" stop-color="#ffd500"/><stop offset="1" stop-color="#ffbc00"/></linearGradient><linearGradient id="g188" x2="0" y2="1"><stop offset="0" stop-color="#00fffd"/><stop offset="0.2" stop-color="#00fc5d"/><stop offset="0.55" stop-color="#00fa0b"/><stop offset="0.725" stop-color="#00fa00"/><stop offset="1" stop-color="#1efb00"/></linearGradient><linearGradient id="g189" x2="0" y2="1"><stop offset="0" stop-color="#c7fe00"/><stop offset="0.188" stop-color="#ff0"/><stop offset="0.5" stop-color="#ffd800"/><stop offset="1" stop-color="#ffc000"/></linearGradient><linearGradient id="g190" x2="0" y2="1"><stop offset="0" stop-color="#00e0ff"/><stop offset="0.018" stop-color="#0ff"/><stop offset="0.2" stop-color="#00fc70"/><stop offset="0.55" stop-color="#00fa14"/><stop offset="0.863" stop-color="#00fa00"/><stop offset="1" stop-color="#0ffa00"/></linearGradient><linearGradient id="g191" x2="0" y2="1"><stop offset="0" stop-color="#b7fe00"/><stop offset="0.232" stop-color="#ff0"/><stop offset="0.5" stop-color="#fd0"/><stop offset="1" stop-color="#ffc500"/></linearGradient><linearGradient id="g192" x2="0" y2="1"><stop offset="0" stop-color="#00bcff"/><stop offset="0.039" stop-color="#0ff"/><stop offset="0.2" stop-color="#00fd83"/><stop offset="0.55" stop-color="#00fb1d"/><stop offset="1" stop-color="#00fa00"/></linearGradient><linearGradient id="g193" x2="0" y2="1"><stop offset="0" stop-color="#a7fd00"/><stop offset="0.273" stop-color="#ff0"/><stop offset="0.5" stop-color="#ffe100"/><stop offset="1" stop-color="#ffca00"/></linearGradient><linearGradient id="g194" x2="0" y2="1"><stop offset="0" stop-color="#009aff"/><stop offset="0.06" stop-color="#0ff"/><stop offset="0.2" stop-color="#00fd96"/><stop offset="0.55" stop-color="#00fb28"/><stop offset="1" stop-color="#00fa09"/></linearGradient><linearGradient id="g195" x2="0" y2="1"><stop offset="0" stop-color="#97fd00"/><stop offset="0.311" stop-color="#ff0"/><stop offset="0.5" stop-color="#ffe500"/><stop offset="1" stop-color="#ffce00"/></linearGradient><linearGradient id="g196" x2="0" y2="1"><stop offset="0" stop-color="#0080ff"/><stop offset="0.077" stop-color="#0ff"/><stop offset="0.2" stop-color="#00fda5"/><stop offset="0.55" stop-color="#00fb3c"/><stop offset="1" stop-color="#00fa15"/></linearGradient><linearGradient id="g197" x2="0" y2="1"><stop offset="0" stop-color="#88fd00"/><stop offset="0.346" stop-color="#ff0"/><stop offset="0.5" stop-color="#ffe900"/><stop offset="1" stop-color="#ffd300"/></linearGradient><linearGradient id="g198" x2="0" y2="1"><stop offset="0" stop-color="#0065ff"/><stop offset="0.096" stop-color="#0ff"/><stop offset="0.2" stop-color="#00feb5"/><stop offset="0.55" stop-color="#00fc50"/><stop offset="1" stop-color="#00fb21"/></linearGradient><linearGradient id="g199" x2="0" y2="1"><stop offset="0" stop-color="#78fc00"/><stop offset="0.379" stop-color="#ff0"/><stop offset="0.5" stop-color="#ffed00"/><stop offset="1" stop-color="#ffd800"/></linearGradient><linearGradient id="g200" x2="0" y2="1"><stop offset="0" stop-color="#05f"/><stop offset="0.112" stop-color="#0ff"/><stop offset="0.2" stop-color="#00fec4"/><stop offset="0.55" stop-color="#00fc65"/><stop offset="1" stop-color="#00fb30"/></linearGradient><linearGradient id="g201" x2="0" y2="1"><stop offset="0" stop-color="#68fc00"/><stop offset="0.41" stop-color="#ff0"/><stop offset="0.5" stop-color="#fff100"/><stop offset="1" stop-color="#fd0"/></linearGradient><linearGradient id="g202" x2="0" y2="1"><stop offset="0" stop-color="#0048ff"/><stop offset="0.129" stop-color="#0ff"/><stop offset="0.2" stop-color="#00fed2"/><stop offset="0.55" stop-color="#00fc7b"/><stop offset="1" stop-color="#00fb40"/></linearGradient><linearGradient id="g203" x2="0" y2="1"><stop offset="0" stop-color="#59fc00"/><stop offset="0.436" stop-color="#ff0"/><stop offset="0.5" stop-color="#fff500"/><stop offset="1" stop-color="#ffe100"/></linearGradient><linearGradient id="g204" x2="0" y2="1"><stop offset="0" stop-color="#003cff"/><stop offset="0.148" stop-color="#0ff"/><stop offset="0.2" stop-color="#00fee0"/><stop offset="0.55" stop-color="#00fd90"/><stop offset="1" stop-color="#00fc50"/></linearGradient><linearGradient id="g205" x2="0" y2="1"><stop offset="0" stop-color="#49fb00"/><stop offset="0.457" stop-color="#ff0"/><stop offset="0.5" stop-color="#fff800"/><stop offset="1" stop-color="#ffe600"/></linearGradient><linearGradient id="g206" x2="0" y2="1"><stop offset="0" stop-color="#0035ff"/><stop offset="0.164" stop-color="#0ff"/><stop offset="0.2" stop-color="#00ffeb"/><stop offset="0.55" stop-color="#00fda1"/><stop offset="1" stop-color="#00fc5d"/></linearGradient><linearGradient id="g207" x2="0" y2="1"><stop offset="0" stop-color="#31fb00"/><stop offset="0.5" stop-color="#f6ff00"/><stop offset="0.623" stop-color="#ff0"/><stop offset="1" stop-color="#fff300"/></linearGradient><linearGradient id="g208" x2="0" y2="1"><stop offset="0" stop-color="#0030ff"/><stop offset="0.18" stop-color="#0ff"/><stop offset="0.2" stop-color="#00fff5"/><stop offset="0.55" stop-color="#00fdb1"/><stop offset="1" stop-color="#00fc69"/></linearGradient><linearGradient id="g209" x2="0" y2="1"><stop offset="0" stop-color="#1afb00"/><stop offset="0.5" stop-color="#a8fd00"/><stop offset="1" stop-color="#d3fe00"/></linearGradient><linearGradient id="g210" x2="0" y2="1"><stop offset="0" stop-color="#0026ff"/><stop offset="0.2" stop-color="#00f8ff"/><stop offset="0.215" stop-color="#0ff"/><stop offset="0.55" stop-color="#00febb"/><stop offset="1" stop-color="#00fc79"/></linearGradient><linearGradient id="g211" x2="0" y2="1"><stop offset="0" stop-color="#08fa00"/><stop offset="0.5" stop-color="#48fb00"/><stop offset="1" stop-color="#73fc00"/></linearGradient><linearGradient id="g212" x2="0" y2="1"><stop offset="0" stop-color="#001cff"/><stop offset="0.2" stop-color="#00dbff"/><stop offset="0.276" stop-color="#0ff"/><stop offset="0.55" stop-color="#00fec6"/><stop offset="1" stop-color="#00fd8a"/></linearGradient><linearGradient id="g213" x2="0" y2="1"><stop offset="0" stop-color="#00fa04"/><stop offset="0.077" stop-color="#00fa00"/><stop offset="0.5" stop-color="#2afb00"/><stop offset="1" stop-color="#55fc00"/></linearGradient><linearGradient id="g214" x2="0" y2="1"><stop offset="0" stop-color="#01f"/><stop offset="0.2" stop-color="#00beff"/><stop offset="0.333" stop-color="#0ff"/><stop offset="0.55" stop-color="#00fed0"/><stop offset="1" stop-color="#00fd9a"/></linearGradient><linearGradient id="g215" x2="0" y2="1"><stop offset="0" stop-color="#00fa0d"/><stop offset="0.211" stop-color="#00fa00"/><stop offset="1" stop-color="#55fc00"/></linearGradient><linearGradient id="g216" x2="0" y2="1"><stop offset="0" stop-color="#0009ff"/><stop offset="0.2" stop-color="#00a6ff"/><stop offset="0.379" stop-color="#0ff"/><stop offset="0.55" stop-color="#00fed9"/><stop offset="1" stop-color="#00fda9"/></linearGradient><linearGradient id="g217" x2="0" y2="1"><stop offset="0" stop-color="#00fa12"/><stop offset="0.228" stop-color="#00fa00"/><stop offset="1" stop-color="#68fc00"/></linearGradient><linearGradient id="g218" x2="0" y2="1"><stop offset="0" stop-color="#0002ff"/><stop offset="0.2" stop-color="#008fff"/><stop offset="0.422" stop-color="#0ff"/><stop offset="0.55" stop-color="#00fee2"/><stop offset="1" stop-color="#00feb7"/></linearGradient><linearGradient id="g219" x2="0" y2="1"><stop offset="0" stop-color="#00fa16"/><stop offset="0.249" stop-color="#00fa00"/><stop offset="1" stop-color="#72fc00"/></linearGradient><linearGradient id="g220" x2="0" y2="1"><stop offset="0" stop-color="#0000fd"/><stop offset="0.008" stop-color="#00f"/><stop offset="0.2" stop-color="#0079ff"/><stop offset="0.465" stop-color="#0ff"/><stop offset="0.55" stop-color="#00ffec"/><stop offset="1" stop-color="#00fec6"/></linearGradient><linearGradient id="g221" x2="0" y2="1"><stop offset="0" stop-color="#00fb1a"/><stop offset="0.364" stop-color="#00fa00"/><stop offset="1" stop-color="#4ffc00"/></linearGradient><linearGradient id="g222" x2="0" y2="1"><stop offset="0" stop-color="#0000fa"/><stop offset="0.022" stop-color="#00f"/><stop offset="0.2" stop-color="#0064ff"/><stop offset="0.509" stop-color="#0ff"/><stop offset="0.55" stop-color="#00fff6"/><stop offset="1" stop-color="#00fed4"/></linearGradient><linearGradient id="g223" x2="0" y2="1"><stop offset="0" stop-color="#00fb1f"/><stop offset="0.481" stop-color="#00fa00"/><stop offset="1" stop-color="#39fb00"/></linearGradient><linearGradient id="g224" x2="0" y2="1"><stop offset="0" stop-color="#0000f8"/><stop offset="0.037" stop-color="#00f"/><stop offset="0.2" stop-color="#0051ff"/><stop offset="0.55" stop-color="#00f6ff"/><stop offset="0.6" stop-color="#0ff"/><stop offset="1" stop-color="#00fedf"/></linearGradient><linearGradient id="g225" x2="0" y2="1"><stop offset="0" stop-color="#00fb23"/><stop offset="0.556" stop-color="#00fa00"/><stop offset="1" stop-color="#31fb00"/></linearGradient><linearGradient id="g226" x2="0" y2="1"><stop offset="0" stop-color="#0000f6"/><stop offset="0.051" stop-color="#00f"/><stop offset="0.2" stop-color="#0040ff"/><stop offset="0.55" stop-color="#00d2ff"/><stop offset="0.752" stop-color="#0ff"/><stop offset="1" stop-color="#00ffe7"/></linearGradient><linearGradient id="g227" x2="0" y2="1"><stop offset="0" stop-color="#00fb28"/><stop offset="0.63" stop-color="#00fa00"/><stop offset="1" stop-color="#28fb00"/></linearGradient><linearGradient id="g228" x2="0" y2="1"><stop offset="0" stop-color="#0000f4"/><stop offset="0.071" stop-color="#00f"/><stop offset="0.2" stop-color="#0030ff"/><stop offset="0.55" stop-color="#00b0ff"/><stop offset="0.854" stop-color="#0ff"/><stop offset="1" stop-color="#0fe"/></linearGradient><linearGradient id="g229" x2="0" y2="1"><stop offset="0" stop-color="#00fb33"/><stop offset="0.712" stop-color="#00fa00"/><stop offset="1" stop-color="#23fb00"/></linearGradient><linearGradient id="g230" x2="0" y2="1"><stop offset="0" stop-color="#0000f2"/><stop offset="0.096" stop-color="#00f"/><stop offset="0.2" stop-color="#0021ff"/><stop offset="0.55" stop-color="#0090ff"/><stop offset="0.928" stop-color="#0ff"/><stop offset="1" stop-color="#00fff6"/></linearGradient><linearGradient id="g231" x2="0" y2="1"><stop offset="0" stop-color="#00fb45"/><stop offset="0.778" stop-color="#00fa00"/><stop offset="1" stop-color="#22fb00"/></linearGradient><linearGradient id="g232" x2="0" y2="1"><stop offset="0" stop-color="#0000f1"/><stop offset="0.12" stop-color="#00f"/><stop offset="0.996" stop-color="#0ff"/><stop offset="1" stop-color="#00fffe"/></linearGradient><linearGradient id="g233" x2="0" y2="1"><stop offset="0" stop-color="#00fc56"/><stop offset="0.823" stop-color="#00fa00"/><stop offset="1" stop-color="#20fb00"/></linearGradient><linearGradient id="g234" x2="0" y2="1"><stop offset="0" stop-color="#0000ef"/><stop offset="0.142" stop-color="#00f"/><stop offset="1" stop-color="#00ebff"/></linearGradient><linearGradient id="g235" x2="0" y2="1"><stop offset="0" stop-color="#00fc68"/><stop offset="0.5" stop-color="#00fb25"/><stop offset="0.841" stop-color="#00fa00"/><stop offset="1" stop-color="#1efb00"/></linearGradient><linearGradient id="g236" x2="0" y2="1"><stop offset="0" stop-color="#0000ed"/><stop offset="0.168" stop-color="#00f"/><stop offset="1" stop-color="#00d6ff"/></linearGradient><linearGradient id="g237" x2="0" y2="1"><stop offset="0" stop-color="#00fc79"/><stop offset="0.5" stop-color="#00fb21"/><stop offset="0.835" stop-color="#00fa00"/><stop offset="1" stop-color="#1cfb00"/></linearGradient><linearGradient id="g238" x2="0" y2="1"><stop offset="0" stop-color="#0000eb"/><stop offset="0.197" stop-color="#00f"/><stop offset="1" stop-color="#00c1ff"/></linearGradient><linearGradient id="g239" x2="0" y2="1"><stop offset="0" stop-color="#00fd8a"/><stop offset="0.5" stop-color="#00fb1a"/><stop offset="0.814" stop-color="#00fa00"/><stop offset="1" stop-color="#1afb00"/></linearGradient><linearGradient id="g240" x2="0" y2="1"><stop offset="0" stop-color="#0000ea"/><stop offset="0.202" stop-color="#00f"/><stop offset="1" stop-color="#00cbff"/></linearGradient><linearGradient id="g241" x2="0" y2="1"><stop offset="0" stop-color="#00fd9c"/><stop offset="0.5" stop-color="#00fa17"/><stop offset="0.809" stop-color="#00fa00"/><stop offset="1" stop-color="#18fa00"/></linearGradient><linearGradient id="g242" x2="0" y2="1"><stop offset="0" stop-color="#0000e8"/><stop offset="0.205" stop-color="#00f"/><stop offset="1" stop-color="#00d8ff"/></linearGradient><linearGradient id="g243" x2="0" y2="1"><stop offset="0" stop-color="#00fdae"/><stop offset="0.5" stop-color="#00fb1a"/><stop offset="0.824" stop-color="#00fa00"/><stop offset="1" stop-color="#18fa00"/></linearGradient><linearGradient id="g244" x2="0" y2="1"><stop offset="0" stop-color="#0000e6"/><stop offset="0.209" stop-color="#00f"/><stop offset="1" stop-color="#00e4ff"/></linearGradient><linearGradient id="g245" x2="0" y2="1"><stop offset="0" stop-color="#00febf"/><stop offset="0.5" stop-color="#00fb1d"/><stop offset="0.837" stop-color="#00fa00"/><stop offset="1" stop-color="#18fa00"/></linearGradient><linearGradient id="g246" x2="0" y2="1"><stop offset="0" stop-color="#0000e5"/><stop offset="0.212" stop-color="#00f"/><stop offset="1" stop-color="#00ecff"/></linearGradient><linearGradient id="g247" x2="0" y2="1"><stop offset="0" stop-color="#00fec2"/><stop offset="0.5" stop-color="#00fb1d"/><stop offset="0.836" stop-color="#00fa00"/><stop offset="1" stop-color="#18fa00"/></linearGradient><linearGradient id="g248" x2="0" y2="1"><stop offset="0" stop-color="#0000e5"/><stop offset="0.206" stop-color="#00f"/><stop offset="1" stop-color="#00f5ff"/></linearGradient><linearGradient id="g249" x2="0" y2="1"><stop offset="0" stop-color="#00fec4"/><stop offset="0.5" stop-color="#00fb1d"/><stop offset="0.835" stop-color="#00fa00"/><stop offset="1" stop-color="#18fa00"/></linearGradient><linearGradient id="g250" x2="0" y2="1"><stop offset="0" stop-color="#0000e5"/><stop offset="0.201" stop-color="#00f"/><stop offset="1" stop-color="#00feff"/></linearGradient><linearGradient id="g251" x2="0" y2="1"><stop offset="0" stop-color="#00fec6"/><stop offset="0.5" stop-color="#00fb1c"/><stop offset="0.833" stop-color="#00fa00"/><stop offset="1" stop-color="#18fa00"/></linearGradient><linearGradient id="g252" x2="0" y2="1"><stop offset="0" stop-color="#ffa000"/><stop offset="0.526" stop-color="#ff6d00"/><stop offset="1" stop-color="#ff4700"/></linearGradient><linearGradient id="g253" x2="0" y2="1"><stop offset="0" stop-color="#ff9300"/><stop offset="0.526" stop-color="#ff5000"/><stop offset="1" stop-color="#ff1d00"/></linearGradient><linearGradient id="g254" x2="0" y2="1"><stop offset="0" stop-color="#f90"/><stop offset="0.526" stop-color="#ff5000"/><stop offset="1" stop-color="#ff1b00"/></linearGradient><linearGradient id="g255" x2="0" y2="1"><stop offset="0" stop-color="#ff9f00"/><stop offset="0.526" stop-color="#ff5000"/><stop offset="1" stop-color="#ff1900"/></linearGradient><linearGradient id="g256" x2="0" y2="1"><stop offset="0" stop-color="#ffb300"/><stop offset="0.526" stop-color="#ff6300"/><stop offset="1" stop-color="#f20"/></linearGradient><linearGradient id="g257" x2="0" y2="1"><stop offset="0" stop-color="#ffc800"/><stop offset="0.526" stop-color="#ff7800"/><stop offset="1" stop-color="#ff2d00"/></linearGradient><linearGradient id="g258" x2="0" y2="1"><stop offset="0" stop-color="#ffde00"/><stop offset="0.526" stop-color="#f80"/><stop offset="1" stop-color="#ff3800"/></linearGradient><linearGradient id="g259" x2="0" y2="1"><stop offset="0" stop-color="#fff800"/><stop offset="0.526" stop-color="#ff9500"/><stop offset="1" stop-color="#ff4500"/></linearGradient><linearGradient id="g260" x2="0" y2="1"><stop offset="0" stop-color="#d7fe00"/><stop offset="0.149" stop-color="#ff0"/><stop offset="1" stop-color="#ffa100"/></linearGradient><linearGradient id="g261" x2="0" y2="1"><stop offset="0" stop-color="#ffa100"/><stop offset="1" stop-color="#ff5100"/></linearGradient><linearGradient id="g262" x2="0" y2="1"><stop offset="0" stop-color="#b4fe00"/><stop offset="0.271" stop-color="#ff0"/><stop offset="1" stop-color="#ffab00"/></linearGradient><linearGradient id="g263" x2="0" y2="1"><stop offset="0" stop-color="#ffa700"/><stop offset="1" stop-color="#ff5e00"/></linearGradient><linearGradient id="g264" x2="0" y2="1"><stop offset="0" stop-color="#90fd00"/><stop offset="0.384" stop-color="#ff0"/><stop offset="1" stop-color="#ffb600"/></linearGradient><linearGradient id="g265" x2="0" y2="1"><stop offset="0" stop-color="#ffad00"/><stop offset="1" stop-color="#ff6a00"/></linearGradient><linearGradient id="g266" x2="0" y2="1"><stop offset="0" stop-color="#73fc00"/><stop offset="0.503" stop-color="#ff0"/><stop offset="1" stop-color="#ffc600"/></linearGradient><linearGradient id="g267" x2="0" y2="1"><stop offset="0" stop-color="#ffb300"/><stop offset="1" stop-color="#ff7200"/></linearGradient><linearGradient id="g268" x2="0" y2="1"><stop offset="0" stop-color="#58fc00"/><stop offset="0.643" stop-color="#ff0"/><stop offset="1" stop-color="#ffd900"/></linearGradient><linearGradient id="g269" x2="0" y2="1"><stop offset="0" stop-color="#ffba00"/><stop offset="1" stop-color="#ff7900"/></linearGradient><linearGradient id="g270" x2="0" y2="1"><stop offset="0" stop-color="#3efb00"/><stop offset="0.804" stop-color="#ff0"/><stop offset="1" stop-color="#ffec00"/></linearGradient><linearGradient id="g271" x2="0" y2="1"><stop offset="0" stop-color="#ffc000"/><stop offset="1" stop-color="#ff7f00"/></linearGradient><linearGradient id="g272" x2="0" y2="1"><stop offset="0" stop-color="#29fb00"/><stop offset="0.973" stop-color="#ff0"/><stop offset="1" stop-color="#fffd00"/></linearGradient><linearGradient id="g273" x2="0" y2="1"><stop offset="0" stop-color="#ffc600"/><stop offset="1" stop-color="#ff8400"/></linearGradient><linearGradient id="g274" x2="0" y2="1"><stop offset="0" stop-color="#1afb00"/><stop offset="1" stop-color="#e0fe00"/></linearGradient><linearGradient id="g275" x2="0" y2="1"><stop offset="0" stop-color="#fc0"/><stop offset="1" stop-color="#ff8900"/></linearGradient><linearGradient id="g276" x2="0" y2="1"><stop offset="0" stop-color="#0cfa00"/><stop offset="1" stop-color="#bbfe00"/></linearGradient><linearGradient id="g277" x2="0" y2="1"><stop offset="0" stop-color="#ffd200"/><stop offset="1" stop-color="#ff8d00"/></linearGradient><linearGradient id="g278" x2="0" y2="1"><stop offset="0" stop-color="#00fa00"/><stop offset="0.005" stop-color="#00fa00"/><stop offset="1" stop-color="#99fd00"/></linearGradient><linearGradient id="g279" x2="0" y2="1"><stop offset="0" stop-color="#ffd800"/><stop offset="1" stop-color="#ff9200"/></linearGradient><linearGradient id="g280" x2="0" y2="1"><stop offset="0" stop-color="#00fa03"/><stop offset="0.034" stop-color="#00fa00"/><stop offset="1" stop-color="#83fd00"/></linearGradient><linearGradient id="g281" x2="0" y2="1"><stop offset="0" stop-color="#fd0"/><stop offset="1" stop-color="#ff9700"/></linearGradient><linearGradient id="g282" x2="0" y2="1"><stop offset="0" stop-color="#00fa05"/><stop offset="0.072" stop-color="#00fa00"/><stop offset="1" stop-color="#6cfc00"/></linearGradient><linearGradient id="g283" x2="0" y2="1"><stop offset="0" stop-color="#ffe100"/><stop offset="1" stop-color="#ff9b00"/></linearGradient><linearGradient id="g284" x2="0" y2="1"><stop offset="0" stop-color="#00fa07"/><stop offset="0.125" stop-color="#00fa00"/><stop offset="1" stop-color="#55fc00"/></linearGradient><linearGradient id="g285" x2="0" y2="1"><stop offset="0" stop-color="#ffe600"/><stop offset="1" stop-color="#ffa000"/></linearGradient><linearGradient id="g286" x2="0" y2="1"><stop offset="0" stop-color="#00fa13"/><stop offset="0.352" stop-color="#00fa00"/><stop offset="1" stop-color="#3cfb00"/></linearGradient><linearGradient id="g287" x2="0" y2="1"><stop offset="0" stop-color="#fff500"/><stop offset="1" stop-color="#ffac00"/></linearGradient><linearGradient id="g288" x2="0" y2="1"><stop offset="0" stop-color="#00fb1f"/><stop offset="0.605" stop-color="#00fa00"/><stop offset="1" stop-color="#22fb00"/></linearGradient><linearGradient id="g289" x2="0" y2="1"><stop offset="0" stop-color="#f5ff00"/><stop offset="0.056" stop-color="#ff0"/><stop offset="1" stop-color="#ffb900"/></linearGradient><linearGradient id="g290" x2="0" y2="1"><stop offset="0" stop-color="#00fb43"/><stop offset="0.916" stop-color="#00fa00"/><stop offset="1" stop-color="#0bfa00"/></linearGradient><linearGradient id="g291" x2="0" y2="1"><stop offset="0" stop-color="#b5fe00"/><stop offset="0.43" stop-color="#ff0"/><stop offset="1" stop-color="#ffd600"/></linearGradient><linearGradient id="g292" x2="0" y2="1"><stop offset="0" stop-color="#00fc78"/><stop offset="1" stop-color="#00fa07"/></linearGradient><linearGradient id="g293" x2="0" y2="1"><stop offset="0" stop-color="#61fc00"/><stop offset="1" stop-color="#ff0"/></linearGradient><linearGradient id="g294" x2="0" y2="1"><stop offset="0" stop-color="#00febf"/><stop offset="1" stop-color="#00fa19"/></linearGradient><linearGradient id="g295" x2="0" y2="1"><stop offset="0" stop-color="#24fb00"/><stop offset="1" stop-color="#95fd00"/></linearGradient><linearGradient id="g296" x2="0" y2="1"><stop offset="0" stop-color="#00fffb"/><stop offset="1" stop-color="#00fb27"/></linearGradient><linearGradient id="g297" x2="0" y2="1"><stop offset="0" stop-color="#00fa00"/><stop offset="1" stop-color="#55fc00"/></linearGradient><linearGradient id="g298" x2="0" y2="1"><stop offset="0" stop-color="#3dfb00"/><stop offset="0.383" stop-color="#ff0"/><stop offset="0.526" stop-color="#ffe100"/><stop offset="1" stop-color="#ff7d00"/></linearGradient><linearGradient id="g299" x2="0" y2="1"><stop offset="0" stop-color="#27fb00"/><stop offset="0.44" stop-color="#ff0"/><stop offset="0.526" stop-color="#fe0"/><stop offset="1" stop-color="#ff8e00"/></linearGradient><linearGradient id="g300" x2="0" y2="1"><stop offset="0" stop-color="#00fa02"/><stop offset="0.007" stop-color="#00fa00"/><stop offset="0.526" stop-color="#edff00"/><stop offset="0.568" stop-color="#ff0"/><stop offset="1" stop-color="#ffb200"/></linearGradient><linearGradient id="g301" x2="0" y2="1"><stop offset="0" stop-color="#00fb1b"/><stop offset="0.111" stop-color="#00fa00"/><stop offset="0.526" stop-color="#b0fd00"/><stop offset="0.727" stop-color="#ff0"/><stop offset="1" stop-color="#ffd300"/></linearGradient><linearGradient id="g302" x2="0" y2="1"><stop offset="0" stop-color="#00fb36"/><stop offset="0.234" stop-color="#00fa00"/><stop offset="0.526" stop-color="#73fc00"/><stop offset="0.912" stop-color="#ff0"/><stop offset="1" stop-color="#fff200"/></linearGradient><linearGradient id="g303" x2="0" y2="1"><stop offset="0" stop-color="#00fc50"/><stop offset="0.369" stop-color="#00fa00"/><stop offset="0.526" stop-color="#3bfb00"/><stop offset="1" stop-color="#d5fe00"/></linearGradient><linearGradient id="g304" x2="0" y2="1"><stop offset="0" stop-color="#00fc69"/><stop offset="0.431" stop-color="#00fa00"/><stop offset="0.526" stop-color="#28fb00"/><stop offset="1" stop-color="#a0fd00"/></linearGradient><linearGradient id="g305" x2="0" y2="1"><stop offset="0" stop-color="#00fd81"/><stop offset="0.481" stop-color="#00fa00"/><stop offset="0.526" stop-color="#15fa00"/><stop offset="1" stop-color="#6bfc00"/></linearGradient><linearGradient id="g306" x2="0" y2="1"><stop offset="0" stop-color="#00fd99"/><stop offset="0.523" stop-color="#00fa00"/><stop offset="0.526" stop-color="#02fa00"/><stop offset="1" stop-color="#36fb00"/></linearGradient><linearGradient id="g307" x2="0" y2="1"><stop offset="0" stop-color="#00febf"/><stop offset="0.526" stop-color="#00fa0f"/><stop offset="0.729" stop-color="#00fa00"/><stop offset="1" stop-color="#23fb00"/></linearGradient><linearGradient id="g308" x2="0" y2="1"><stop offset="0" stop-color="#00fee5"/><stop offset="0.526" stop-color="#00fb21"/><stop offset="0.872" stop-color="#00fa00"/><stop offset="1" stop-color="#15fa00"/></linearGradient><linearGradient id="g309" x2="0" y2="1"><stop offset="0" stop-color="#00e2ff"/><stop offset="0.031" stop-color="#0ff"/><stop offset="0.526" stop-color="#00fb32"/><stop offset="0.969" stop-color="#00fa00"/><stop offset="1" stop-color="#06fa00"/></linearGradient><linearGradient id="g310" x2="0" y2="1"><stop offset="0" stop-color="#00a3ff"/><stop offset="0.097" stop-color="#0ff"/><stop offset="0.526" stop-color="#00fb4c"/><stop offset="1" stop-color="#00fa07"/></linearGradient><linearGradient id="g311" x2="0" y2="1"><stop offset="0" stop-color="#0075ff"/><stop offset="0.155" stop-color="#0ff"/><stop offset="0.526" stop-color="#00fc6c"/><stop offset="1" stop-color="#00fa12"/></linearGradient><linearGradient id="g312" x2="0" y2="1"><stop offset="0" stop-color="#0047ff"/><stop offset="0.219" stop-color="#0ff"/><stop offset="0.526" stop-color="#00fd8c"/><stop offset="1" stop-color="#00fb1e"/></linearGradient><linearGradient id="g313" x2="0" y2="1"><stop offset="0" stop-color="#002cff"/><stop offset="0.522" stop-color="#0ff"/><stop offset="1" stop-color="#00fda9"/></linearGradient><linearGradient id="g314" x2="0" y2="1"><stop offset="0" stop-color="#00fda2"/><stop offset="1" stop-color="#00fb29"/></linearGradient><linearGradient id="g315" x2="0" y2="1"><stop offset="0" stop-color="#0024ff"/><stop offset="0.621" stop-color="#0ff"/><stop offset="1" stop-color="#00fec4"/></linearGradient><linearGradient id="g316" x2="0" y2="1"><stop offset="0" stop-color="#00fdae"/><stop offset="1" stop-color="#00fb33"/></linearGradient><linearGradient id="g317" x2="0" y2="1"><stop offset="0" stop-color="#001cff"/><stop offset="0.755" stop-color="#0ff"/><stop offset="1" stop-color="#00fede"/></linearGradient><linearGradient id="g318" x2="0" y2="1"><stop offset="0" stop-color="#00febb"/><stop offset="1" stop-color="#00fb3e"/></linearGradient><linearGradient id="g319" x2="0" y2="1"><stop offset="0" stop-color="#0014ff"/><stop offset="0.944" stop-color="#0ff"/><stop offset="1" stop-color="#00fff9"/></linearGradient><linearGradient id="g320" x2="0" y2="1"><stop offset="0" stop-color="#00fec7"/><stop offset="1" stop-color="#00fb49"/></linearGradient><linearGradient id="g321" x2="0" y2="1"><stop offset="0" stop-color="#000aff"/><stop offset="1" stop-color="#00e5ff"/></linearGradient><linearGradient id="g322" x2="0" y2="1"><stop offset="0" stop-color="#00fed4"/><stop offset="1" stop-color="#00fc53"/></linearGradient><linearGradient id="g323" x2="0" y2="1"><stop offset="0" stop-color="#0000fe"/><stop offset="0.009" stop-color="#00f"/><stop offset="1" stop-color="#00d1ff"/></linearGradient><linearGradient id="g324" x2="0" y2="1"><stop offset="0" stop-color="#00fee0"/><stop offset="1" stop-color="#00fc5e"/></linearGradient><linearGradient id="g325" x2="0" y2="1"><stop offset="0" stop-color="#0000f9"/><stop offset="0.069" stop-color="#00f"/><stop offset="1" stop-color="#00bdff"/></linearGradient><linearGradient id="g326" x2="0" y2="1"><stop offset="0" stop-color="#00ffec"/><stop offset="1" stop-color="#00fc68"/></linearGradient><linearGradient id="g327" x2="0" y2="1"><stop offset="0" stop-color="#0000f4"/><stop offset="0.133" stop-color="#00f"/><stop offset="1" stop-color="#00a9ff"/></linearGradient><linearGradient id="g328" x2="0" y2="1"><stop offset="0" stop-color="#00fff9"/><stop offset="1" stop-color="#00fc73"/></linearGradient><linearGradient id="g329" x2="0" y2="1"><stop offset="0" stop-color="#0000f1"/><stop offset="0.181" stop-color="#00f"/><stop offset="1" stop-color="#09f"/></linearGradient><linearGradient id="g330" x2="0" y2="1"><stop offset="0" stop-color="#00fbff"/><stop offset="0.014" stop-color="#0ff"/><stop offset="1" stop-color="#00fc80"/></linearGradient><linearGradient id="g331" x2="0" y2="1"><stop offset="0" stop-color="#0000ef"/><stop offset="0.211" stop-color="#00f"/><stop offset="1" stop-color="#008dff"/></linearGradient><linearGradient id="g332" x2="0" y2="1"><stop offset="0" stop-color="#00f3ff"/><stop offset="0.045" stop-color="#0ff"/><stop offset="1" stop-color="#00fd8e"/></linearGradient><linearGradient id="g333" x2="0" y2="1"><stop offset="0" stop-color="#00e"/><stop offset="0.244" stop-color="#00f"/><stop offset="1" stop-color="#0081ff"/></linearGradient><linearGradient id="g334" x2="0" y2="1"><stop offset="0" stop-color="#00ebff"/><stop offset="0.082" stop-color="#0ff"/><stop offset="1" stop-color="#00fd9c"/></linearGradient><linearGradient id="g335" x2="0" y2="1"><stop offset="0" stop-color="#0000ec"/><stop offset="0.28" stop-color="#00f"/><stop offset="1" stop-color="#0076ff"/></linearGradient><linearGradient id="g336" x2="0" y2="1"><stop offset="0" stop-color="#00e3ff"/><stop offset="0.127" stop-color="#0ff"/><stop offset="1" stop-color="#00fdaa"/></linearGradient><linearGradient id="g337" x2="0" y2="1"><stop offset="0" stop-color="#0000ea"/><stop offset="0.325" stop-color="#00f"/><stop offset="1" stop-color="#006cff"/></linearGradient><linearGradient id="g338" x2="0" y2="1"><stop offset="0" stop-color="#00d7ff"/><stop offset="0.204" stop-color="#0ff"/><stop offset="1" stop-color="#00feba"/></linearGradient><linearGradient id="g339" x2="0" y2="1"><stop offset="0" stop-color="#0000e6"/><stop offset="0.375" stop-color="#00f"/><stop offset="1" stop-color="#0064ff"/></linearGradient><linearGradient id="g340" x2="0" y2="1"><stop offset="0" stop-color="#00c7ff"/><stop offset="0.326" stop-color="#0ff"/><stop offset="1" stop-color="#00fecc"/></linearGradient><linearGradient id="g341" x2="0" y2="1"><stop offset="0" stop-color="#0000e1"/><stop offset="0.61" stop-color="#00f"/><stop offset="1" stop-color="#002eff"/></linearGradient><linearGradient id="g342" x2="0" y2="1"><stop offset="0" stop-color="#04f"/><stop offset="1" stop-color="#00b2ff"/></linearGradient><linearGradient id="g343" x2="0" y2="1"><stop offset="0" stop-color="#00d"/><stop offset="0.693" stop-color="#00f"/><stop offset="1" stop-color="#0024ff"/></linearGradient><linearGradient id="g344" x2="0" y2="1"><stop offset="0" stop-color="#002cff"/><stop offset="0.5" stop-color="#005fff"/><stop offset="1" stop-color="#008fff"/></linearGradient><linearGradient id="g345" x2="0" y2="1"><stop offset="0" stop-color="#0000dc"/><stop offset="0.5" stop-color="#00f"/><stop offset="1" stop-color="#0054ff"/></linearGradient><linearGradient id="g346" x2="0" y2="1"><stop offset="0" stop-color="#005cff"/><stop offset="0.5" stop-color="#00a9ff"/><stop offset="1" stop-color="#00efff"/></linearGradient><linearGradient id="g347" x2="0" y2="1"><stop offset="0" stop-color="#0000db"/><stop offset="0.508" stop-color="#00f"/><stop offset="1" stop-color="#0054ff"/></linearGradient><linearGradient id="g348" x2="0" y2="1"><stop offset="0" stop-color="#005cff"/><stop offset="0.5" stop-color="#00abff"/><stop offset="1" stop-color="#00efff"/></linearGradient><linearGradient id="g349" x2="0" y2="1"><stop offset="0" stop-color="#0000da"/><stop offset="0.515" stop-color="#00f"/><stop offset="1" stop-color="#0054ff"/></linearGradient><linearGradient id="g350" x2="0" y2="1"><stop offset="0" stop-color="#005cff"/><stop offset="0.5" stop-color="#00adff"/><stop offset="1" stop-color="#00efff"/></linearGradient><linearGradient id="g351" x2="0" y2="1"><stop offset="0" stop-color="#0000d9"/><stop offset="0.523" stop-color="#00f"/><stop offset="1" stop-color="#0054ff"/></linearGradient><linearGradient id="g352" x2="0" y2="1"><stop offset="0" stop-color="#005cff"/><stop offset="0.5" stop-color="#00aeff"/><stop offset="1" stop-color="#00efff"/></linearGradient><linearGradient id="g353" x2="0" y2="1"><stop offset="0" stop-color="#0000d8"/><stop offset="0.559" stop-color="#00f"/><stop offset="1" stop-color="#004aff"/></linearGradient><linearGradient id="g354" x2="0" y2="1"><stop offset="0" stop-color="#0052ff"/><stop offset="0.5" stop-color="#00a1ff"/><stop offset="1" stop-color="#00dcff"/></linearGradient><linearGradient id="g355" x2="0" y2="1"><stop offset="0" stop-color="#0000d7"/><stop offset="0.588" stop-color="#00f"/><stop offset="1" stop-color="#04f"/></linearGradient><linearGradient id="g356" x2="0" y2="1"><stop offset="0" stop-color="#004cff"/><stop offset="0.5" stop-color="#0098ff"/><stop offset="1" stop-color="#00cfff"/></linearGradient><linearGradient id="g357" x2="0" y2="1"><stop offset="0" stop-color="#0000d6"/><stop offset="0.592" stop-color="#00f"/><stop offset="1" stop-color="#04f"/></linearGradient><linearGradient id="g358" x2="0" y2="1"><stop offset="0" stop-color="#004cff"/><stop offset="0.5" stop-color="#009aff"/><stop offset="1" stop-color="#00cfff"/></linearGradient><linearGradient id="g359" x2="0" y2="1"><stop offset="0" stop-color="#0000d5"/><stop offset="0.596" stop-color="#00f"/><stop offset="1" stop-color="#04f"/></linearGradient><linearGradient id="g360" x2="0" y2="1"><stop offset="0" stop-color="#004cff"/><stop offset="0.5" stop-color="#009bff"/><stop offset="1" stop-color="#00cfff"/></linearGradient><linearGradient id="g361" x2="0" y2="1"><stop offset="0" stop-color="#0000d5"/><stop offset="0.729" stop-color="#00f"/><stop offset="1" stop-color="#0026ff"/></linearGradient><linearGradient id="g362" x2="0" y2="1"><stop offset="0" stop-color="#002eff"/><stop offset="0.5" stop-color="#006cff"/><stop offset="1" stop-color="#0093ff"/></linearGradient><linearGradient id="g363" x2="0" y2="1"><stop offset="0" stop-color="#0000d4"/><stop offset="0.839" stop-color="#00f"/><stop offset="1" stop-color="#0014ff"/></linearGradient><linearGradient id="g364" x2="0" y2="1"><stop offset="0" stop-color="#001cff"/><stop offset="0.5" stop-color="#004fff"/><stop offset="1" stop-color="#0070ff"/></linearGradient><linearGradient id="g365" x2="0" y2="1"><stop offset="0" stop-color="#0000d3"/><stop offset="0.804" stop-color="#00f"/><stop offset="1" stop-color="#001aff"/></linearGradient><linearGradient id="g366" x2="0" y2="1"><stop offset="0" stop-color="#02f"/><stop offset="0.5" stop-color="#0059ff"/><stop offset="1" stop-color="#007bff"/></linearGradient><linearGradient id="g367" x2="0" y2="1"><stop offset="0" stop-color="#0000d3"/><stop offset="0.642" stop-color="#00f"/><stop offset="1" stop-color="#003cff"/></linearGradient><linearGradient id="g368" x2="0" y2="1"><stop offset="0" stop-color="#04f"/><stop offset="0.5" stop-color="#0091ff"/><stop offset="1" stop-color="#00bfff"/></linearGradient><linearGradient id="g369" x2="0" y2="1"><stop offset="0" stop-color="#0000d2"/><stop offset="0.737" stop-color="#00f"/><stop offset="1" stop-color="#0027ff"/></linearGradient><linearGradient id="g370" x2="0" y2="1"><stop offset="0" stop-color="#002fff"/><stop offset="0.5" stop-color="#006fff"/><stop offset="1" stop-color="#0095ff"/></linearGradient><linearGradient id="g371" x2="0" y2="1"><stop offset="0" stop-color="#0000d1"/><stop offset="0.965" stop-color="#00f"/><stop offset="1" stop-color="#0004ff"/></linearGradient><linearGradient id="g372" x2="0" y2="1"><stop offset="0" stop-color="#000cff"/><stop offset="0.5" stop-color="#0037ff"/><stop offset="1" stop-color="#0050ff"/></linearGradient><linearGradient id="g373" x2="0" y2="1"><stop offset="0" stop-color="#0000d1"/><stop offset="0.966" stop-color="#00f"/><stop offset="1" stop-color="#0004ff"/></linearGradient><linearGradient id="g374" x2="0" y2="1"><stop offset="0" stop-color="#000cff"/><stop offset="0.5" stop-color="#0037ff"/><stop offset="1" stop-color="#0050ff"/></linearGradient><linearGradient id="g375" x2="0" y2="1"><stop offset="0" stop-color="#0000d0"/><stop offset="0.966" stop-color="#00f"/><stop offset="1" stop-color="#0004ff"/></linearGradient><linearGradient id="g376" x2="0" y2="1"><stop offset="0" stop-color="#000cff"/><stop offset="0.5" stop-color="#0037ff"/><stop offset="1" stop-color="#0050ff"/></linearGradient><linearGradient id="g377" x2="0" y2="1"><stop offset="0" stop-color="#0000d0"/><stop offset="0.905" stop-color="#00f"/><stop offset="1" stop-color="#000cff"/></linearGradient><linearGradient id="g378" x2="0" y2="1"><stop offset="0" stop-color="#0014ff"/><stop offset="0.5" stop-color="#0045ff"/><stop offset="1" stop-color="#0060ff"/></linearGradient><linearGradient id="g379" x2="0" y2="1"><stop offset="0" stop-color="#0000cf"/><stop offset="0.657" stop-color="#00f"/><stop offset="1" stop-color="#003cff"/></linearGradient><linearGradient id="g380" x2="0" y2="1"><stop offset="0" stop-color="#04f"/><stop offset="0.5" stop-color="#0094ff"/><stop offset="1" stop-color="#00bfff"/></linearGradient><linearGradient id="g381" x2="0" y2="1"><stop offset="0" stop-color="#0000cf"/><stop offset="0.734" stop-color="#00f"/><stop offset="1" stop-color="#002aff"/></linearGradient><linearGradient id="g382" x2="0" y2="1"><stop offset="0" stop-color="#0032ff"/><stop offset="0.5" stop-color="#07f"/><stop offset="1" stop-color="#009bff"/></linearGradient><linearGradient id="g383" x2="0" y2="1"><stop offset="0" stop-color="#0000cf"/><stop offset="0.907" stop-color="#00f"/><stop offset="1" stop-color="#000cff"/></linearGradient><linearGradient id="g384" x2="0" y2="1"><stop offset="0" stop-color="#0014ff"/><stop offset="0.5" stop-color="#0046ff"/><stop offset="1" stop-color="#0060ff"/></linearGradient><linearGradient id="g385" x2="0" y2="1"><stop offset="0" stop-color="#0000ce"/><stop offset="0.821" stop-color="#00f"/><stop offset="1" stop-color="#001aff"/></linearGradient><linearGradient id="g386" x2="0" y2="1"><stop offset="0" stop-color="#02f"/><stop offset="0.5" stop-color="#005dff"/><stop offset="1" stop-color="#007bff"/></linearGradient><linearGradient id="g387" x2="0" y2="1"><stop offset="0" stop-color="#0000ce"/><stop offset="0.73" stop-color="#00f"/><stop offset="1" stop-color="#002cff"/></linearGradient><linearGradient id="g388" x2="0" y2="1"><stop offset="0" stop-color="#0034ff"/><stop offset="0.5" stop-color="#007cff"/><stop offset="1" stop-color="#009fff"/></linearGradient><linearGradient id="g389" x2="0" y2="1"><stop offset="0" stop-color="#0000ce"/><stop offset="0.764" stop-color="#00f"/><stop offset="1" stop-color="#0025ff"/></linearGradient><linearGradient id="g390" x2="0" y2="1"><stop offset="0" stop-color="#002dff"/><stop offset="0.5" stop-color="#0071ff"/><stop offset="1" stop-color="#0091ff"/></linearGradient><linearGradient id="g391" x2="0" y2="1"><stop offset="0" stop-color="#0000cd"/><stop offset="1" stop-color="#0000fa"/></linearGradient><linearGradient id="g392" x2="0" y2="1"><stop offset="0" stop-color="#0000fd"/><stop offset="0.056" stop-color="#00f"/><stop offset="0.5" stop-color="#001fff"/><stop offset="1" stop-color="#0030ff"/></linearGradient><linearGradient id="g393" x2="0" y2="1"><stop offset="0" stop-color="#0000cd"/><stop offset="1" stop-color="#0000fa"/></linearGradient><linearGradient id="g394" x2="0" y2="1"><stop offset="0" stop-color="#0000fd"/><stop offset="0.056" stop-color="#00f"/><stop offset="0.5" stop-color="#0020ff"/><stop offset="1" stop-color="#0030ff"/></linearGradient><linearGradient id="g395" x2="0" y2="1"><stop offset="0" stop-color="#0000cd"/><stop offset="1" stop-color="#0000fa"/></linearGradient><linearGradient id="g396" x2="0" y2="1"><stop offset="0" stop-color="#0000fd"/><stop offset="0.056" stop-color="#00f"/><stop offset="0.5" stop-color="#0020ff"/><stop offset="1" stop-color="#0030ff"/></linearGradient><linearGradient id="g397" x2="0" y2="1"><stop offset="0" stop-color="#0000cd"/><stop offset="1" stop-color="#0000fa"/></linearGradient><linearGradient id="g398" x2="0" y2="1"><stop offset="0" stop-color="#0000fd"/><stop offset="0.055" stop-color="#00f"/><stop offset="0.5" stop-color="#0020ff"/><stop offset="1" stop-color="#0030ff"/></linearGradient><linearGradient id="g399" x2="0" y2="1"><stop offset="0" stop-color="#0000cd"/><stop offset="0.857" stop-color="#00f"/><stop offset="1" stop-color="#0014ff"/></linearGradient><linearGradient id="g400" x2="0" y2="1"><stop offset="0" stop-color="#001cff"/><stop offset="0.5" stop-color="#0057ff"/><stop offset="1" stop-color="#0070ff"/></linearGradient><linearGradient id="g401" x2="0" y2="1"><stop offset="0" stop-color="#0000cd"/><stop offset="0.857" stop-color="#00f"/><stop offset="1" stop-color="#0014ff"/></linearGradient><linearGradient id="g402" x2="0" y2="1"><stop offset="0" stop-color="#001cff"/><stop offset="0.5" stop-color="#0057ff"/><stop offset="1" stop-color="#0070ff"/></linearGradient><linearGradient id="g403" x2="0" y2="1"><stop offset="0" stop-color="#0000cd"/><stop offset="0.857" stop-color="#00f"/><stop offset="1" stop-color="#0014ff"/></linearGradient><linearGradient id="g404" x2="0" y2="1"><stop offset="0" stop-color="#001cff"/><stop offset="0.5" stop-color="#0058ff"/><stop offset="1" stop-color="#0070ff"/></linearGradient><linearGradient id="g405" x2="0" y2="1"><stop offset="0" stop-color="#0000cd"/><stop offset="0.857" stop-color="#00f"/><stop offset="1" stop-color="#0014ff"/></linearGradient><linearGradient id="g406" x2="0" y2="1"><stop offset="0" stop-color="#001cff"/><stop offset="0.5" stop-color="#0058ff"/><stop offset="1" stop-color="#0070ff"/></linearGradient><linearGradient id="g407" x2="0" y2="1"><stop offset="0" stop-color="#0000cd"/><stop offset="0.857" stop-color="#00f"/><stop offset="1" stop-color="#0014ff"/></linearGradient><linearGradient id="g408" x2="0" y2="1"><stop offset="0" stop-color="#001cff"/><stop offset="0.5" stop-color="#0058ff"/><stop offset="1" stop-color="#0070ff"/></linearGradient><linearGradient id="g409" x2="0" y2="1"><stop offset="0" stop-color="#0000cd"/><stop offset="0.882" stop-color="#00f"/><stop offset="1" stop-color="#0010ff"/></linearGradient><linearGradient id="g410" x2="0" y2="1"><stop offset="0" stop-color="#0018ff"/><stop offset="0.5" stop-color="#0052ff"/><stop offset="1" stop-color="#0068ff"/></linearGradient><linearGradient id="g411" x2="0" y2="1"><stop offset="0" stop-color="#0000cd"/><stop offset="0.914" stop-color="#00f"/><stop offset="1" stop-color="#000bff"/></linearGradient><linearGradient id="g412" x2="0" y2="1"><stop offset="0" stop-color="#0013ff"/><stop offset="0.5" stop-color="#004aff"/><stop offset="1" stop-color="#005eff"/></linearGradient><linearGradient id="g413" x2="0" y2="1"><stop offset="0" stop-color="#0000cd"/><stop offset="0.923" stop-color="#00f"/><stop offset="1" stop-color="#000aff"/></linearGradient><linearGradient id="g414" x2="0" y2="1"><stop offset="0" stop-color="#0012ff"/><stop offset="0.5" stop-color="#0048ff"/><stop offset="1" stop-color="#005cff"/></linearGradient><linearGradient id="g415" x2="0" y2="1"><stop offset="0" stop-color="#0000cd"/><stop offset="0.933" stop-color="#00f"/><stop offset="1" stop-color="#0009ff"/></linearGradient><linearGradient id="g416" x2="0" y2="1"><stop offset="0" stop-color="#01f"/><stop offset="0.5" stop-color="#0046ff"/><stop offset="1" stop-color="#0059ff"/></linearGradient><linearGradient id="g417" x2="0" y2="1"><stop offset="0" stop-color="#0000cd"/><stop offset="0.962" stop-color="#00f"/><stop offset="1" stop-color="#0005ff"/></linearGradient><linearGradient id="g418" x2="0" y2="1"><stop offset="0" stop-color="#000cff"/><stop offset="0.5" stop-color="#04f"/><stop offset="1" stop-color="#0057ff"/></linearGradient><linearGradient id="g419" x2="0" y2="1"><stop offset="0" stop-color="#0000c9"/><stop offset="1" stop-color="#0000fe"/></linearGradient><linearGradient id="g420" x2="0" y2="1"><stop offset="0" stop-color="#0005ff"/><stop offset="0.5" stop-color="#0047ff"/><stop offset="1" stop-color="#005dff"/></linearGradient><linearGradient id="g421" x2="0" y2="1"><stop offset="0" stop-color="#0000c3"/><stop offset="1" stop-color="#0000fc"/></linearGradient><linearGradient id="g422" x2="0" y2="1"><stop offset="0" stop-color="#00f"/><stop offset="0.009" stop-color="#00f"/><stop offset="0.5" stop-color="#003dff"/><stop offset="1" stop-color="#0051ff"/></linearGradient><linearGradient id="g423" x2="0" y2="1"><stop offset="0" stop-color="#0000d3"/><stop offset="1" stop-color="#0000f2"/></linearGradient><linearGradient id="g424" x2="0" y2="1"><stop offset="0" stop-color="#0000f4"/><stop offset="0.153" stop-color="#00f"/><stop offset="0.5" stop-color="#003bff"/><stop offset="1" stop-color="#0058ff"/></linearGradient><linearGradient id="g425" x2="0" y2="1"><stop offset="0" stop-color="#0000d6"/><stop offset="1" stop-color="#0000f1"/></linearGradient><linearGradient id="g426" x2="0" y2="1"><stop offset="0" stop-color="#0000f3"/><stop offset="0.191" stop-color="#00f"/><stop offset="0.5" stop-color="#0030ff"/><stop offset="1" stop-color="#0049ff"/></linearGradient><linearGradient id="g427" x2="0" y2="1"><stop offset="0" stop-color="#0000d3"/><stop offset="1" stop-color="#0000fb"/></linearGradient><linearGradient id="g428" x2="0" y2="1"><stop offset="0" stop-color="#0000fc"/><stop offset="0.059" stop-color="#00f"/><stop offset="0.5" stop-color="#0036ff"/><stop offset="1" stop-color="#004aff"/></linearGradient><linearGradient id="g429" x2="0" y2="1"><stop offset="0" stop-color="#0000c4"/><stop offset="1" stop-color="#0000ed"/></linearGradient><linearGradient id="g430" x2="0" y2="1"><stop offset="0" stop-color="#00e"/><stop offset="0.255" stop-color="#00f"/><stop offset="0.5" stop-color="#0028ff"/><stop offset="1" stop-color="#0043ff"/></linearGradient><linearGradient id="g431" x2="0" y2="1"><stop offset="0" stop-color="#0000d6"/><stop offset="1" stop-color="#0000ec"/></linearGradient><linearGradient id="g432" x2="0" y2="1"><stop offset="0" stop-color="#0000ed"/><stop offset="0.269" stop-color="#00f"/><stop offset="0.5" stop-color="#0026ff"/><stop offset="1" stop-color="#0041ff"/></linearGradient><linearGradient id="g433" x2="0" y2="1"><stop offset="0" stop-color="#0000c3"/><stop offset="1" stop-color="#0000f0"/></linearGradient><linearGradient id="g434" x2="0" y2="1"><stop offset="0" stop-color="#0000f1"/><stop offset="0.169" stop-color="#00f"/><stop offset="0.5" stop-color="#0043ff"/><stop offset="1" stop-color="#0065ff"/></linearGradient><linearGradient id="g435" x2="0" y2="1"><stop offset="0" stop-color="#0000c6"/><stop offset="1" stop-color="#0000e1"/></linearGradient><linearGradient id="g436" x2="0" y2="1"><stop offset="0" stop-color="#0000e2"/><stop offset="0.331" stop-color="#00f"/><stop offset="0.5" stop-color="#0024ff"/><stop offset="1" stop-color="#0048ff"/></linearGradient><linearGradient id="g437" x2="0" y2="1"><stop offset="0" stop-color="#0000d1"/><stop offset="0.526" stop-color="#0000e8"/><stop offset="0.668" stop-color="#00f"/><stop offset="0.763" stop-color="#0026ff"/><stop offset="1" stop-color="#0045ff"/></linearGradient><linearGradient id="g438" x2="0" y2="1"><stop offset="0" stop-color="#0000d9"/><stop offset="0.526" stop-color="#0000e4"/><stop offset="0.675" stop-color="#00f"/><stop offset="0.763" stop-color="#0026ff"/><stop offset="1" stop-color="#0048ff"/></linearGradient><linearGradient id="g439" x2="0" y2="1"><stop offset="0" stop-color="#0000d1"/><stop offset="0.526" stop-color="#0000f0"/><stop offset="0.627" stop-color="#00f"/><stop offset="0.763" stop-color="#0032ff"/><stop offset="1" stop-color="#004fff"/></linearGradient><linearGradient id="g440" x2="0" y2="1"><stop offset="0" stop-color="#0000c2"/><stop offset="0.526" stop-color="#0000ef"/><stop offset="0.628" stop-color="#00f"/><stop offset="0.763" stop-color="#0034ff"/><stop offset="1" stop-color="#0052ff"/></linearGradient><linearGradient id="g441" x2="0" y2="1"><stop offset="0" stop-color="#0000d3"/><stop offset="0.526" stop-color="#00e"/><stop offset="0.628" stop-color="#00f"/><stop offset="0.763" stop-color="#0036ff"/><stop offset="1" stop-color="#0056ff"/></linearGradient><linearGradient id="g442" x2="0" y2="1"><stop offset="0" stop-color="#0000d6"/><stop offset="0.526" stop-color="#0000ec"/><stop offset="0.665" stop-color="#00f"/><stop offset="0.763" stop-color="#0021ff"/><stop offset="1" stop-color="#003cff"/></linearGradient><linearGradient id="g443" x2="0" y2="1"><stop offset="0" stop-color="#0000d3"/><stop offset="0.526" stop-color="#0000e3"/><stop offset="0.692" stop-color="#00f"/><stop offset="0.763" stop-color="#001dff"/><stop offset="1" stop-color="#003dff"/></linearGradient><linearGradient id="g444" x2="0" y2="1"><stop offset="0" stop-color="#0000c9"/><stop offset="0.526" stop-color="#0000e7"/><stop offset="0.687" stop-color="#00f"/><stop offset="0.763" stop-color="#001cff"/><stop offset="1" stop-color="#0038ff"/></linearGradient><linearGradient id="g445" x2="0" y2="1"><stop offset="0" stop-color="#0000cf"/><stop offset="0.526" stop-color="#0000e5"/><stop offset="0.667" stop-color="#00f"/><stop offset="0.763" stop-color="#002bff"/><stop offset="1" stop-color="#004eff"/></linearGradient><linearGradient id="g446" x2="0" y2="1"><stop offset="0" stop-color="#0000c6"/><stop offset="0.526" stop-color="#0000e6"/><stop offset="0.691" stop-color="#00f"/><stop offset="0.763" stop-color="#001bff"/><stop offset="1" stop-color="#0038ff"/></linearGradient><linearGradient id="g447" x2="0" y2="1"><stop offset="0" stop-color="#0000c5"/><stop offset="0.526" stop-color="#0000ef"/><stop offset="0.654" stop-color="#00f"/><stop offset="0.763" stop-color="#02f"/><stop offset="1" stop-color="#003aff"/></linearGradient><linearGradient id="g448" x2="0" y2="1"><stop offset="0" stop-color="#0000c4"/><stop offset="0.526" stop-color="#0000e7"/><stop offset="0.662" stop-color="#00f"/><stop offset="0.763" stop-color="#002bff"/><stop offset="1" stop-color="#004dff"/></linearGradient><linearGradient id="g449" x2="0" y2="1"><stop offset="0" stop-color="#0000d3"/><stop offset="0.526" stop-color="#0000e7"/><stop offset="0.66" stop-color="#00f"/><stop offset="0.763" stop-color="#002cff"/><stop offset="1" stop-color="#004eff"/></linearGradient><linearGradient id="g450" x2="0" y2="1"><stop offset="0" stop-color="#0000d4"/><stop offset="0.526" stop-color="#0000ef"/><stop offset="0.633" stop-color="#00f"/><stop offset="0.763" stop-color="#002fff"/><stop offset="1" stop-color="#004cff"/></linearGradient><linearGradient id="g451" x2="0" y2="1"><stop offset="0" stop-color="#0000d2"/><stop offset="0.526" stop-color="#0000e4"/><stop offset="0.675" stop-color="#00f"/><stop offset="0.763" stop-color="#0027ff"/><stop offset="1" stop-color="#004aff"/></linearGradient><linearGradient id="g452" x2="0" y2="1"><stop offset="0" stop-color="#0000d9"/><stop offset="0.526" stop-color="#0000ea"/><stop offset="0.645" stop-color="#00f"/><stop offset="0.763" stop-color="#0032ff"/><stop offset="1" stop-color="#0053ff"/></linearGradient><linearGradient id="g453" x2="0" y2="1"><stop offset="0" stop-color="#00c"/><stop offset="0.526" stop-color="#0000e4"/><stop offset="0.667" stop-color="#00f"/><stop offset="0.763" stop-color="#002cff"/><stop offset="1" stop-color="#0050ff"/></linearGradient><linearGradient id="g454" x2="0" y2="1"><stop offset="0" stop-color="#0000d7"/><stop offset="0.526" stop-color="#0000e1"/><stop offset="0.689" stop-color="#00f"/><stop offset="0.763" stop-color="#0021ff"/><stop offset="1" stop-color="#04f"/></linearGradient><linearGradient id="g455" x2="0" y2="1"><stop offset="0" stop-color="#0000c6"/><stop offset="0.526" stop-color="#0000e8"/><stop offset="0.637" stop-color="#00f"/><stop offset="0.763" stop-color="#0040ff"/><stop offset="1" stop-color="#0068ff"/></linearGradient><linearGradient id="g456" x2="0" y2="1"><stop offset="0" stop-color="#0000c2"/><stop offset="0.526" stop-color="#0000e5"/><stop offset="0.675" stop-color="#00f"/><stop offset="0.763" stop-color="#0025ff"/><stop offset="1" stop-color="#0047ff"/></linearGradient><linearGradient id="g457" x2="0" y2="1"><stop offset="0" stop-color="#0000ca"/><stop offset="0.526" stop-color="#0000e5"/><stop offset="0.688" stop-color="#00f"/><stop offset="0.763" stop-color="#001eff"/><stop offset="1" stop-color="#003dff"/></linearGradient><linearGradient id="g458" x2="0" y2="1"><stop offset="0" stop-color="#0000d6"/><stop offset="0.526" stop-color="#0000ef"/><stop offset="0.634" stop-color="#00f"/><stop offset="0.763" stop-color="#002fff"/><stop offset="1" stop-color="#004bff"/></linearGradient><linearGradient id="g459" x2="0" y2="1"><stop offset="0" stop-color="#0000d5"/><stop offset="0.526" stop-color="#0000ec"/><stop offset="0.663" stop-color="#00f"/><stop offset="0.763" stop-color="#02f"/><stop offset="1" stop-color="#003dff"/></linearGradient><linearGradient id="g460" x2="0" y2="1"><stop offset="0" stop-color="#0000c9"/><stop offset="0.526" stop-color="#0000e2"/><stop offset="0.699" stop-color="#00f"/><stop offset="0.763" stop-color="#001aff"/><stop offset="1" stop-color="#003aff"/></linearGradient><linearGradient id="g461" x2="0" y2="1"><stop offset="0" stop-color="#0000ce"/><stop offset="0.526" stop-color="#0000eb"/><stop offset="0.649" stop-color="#00f"/><stop offset="0.763" stop-color="#002cff"/><stop offset="1" stop-color="#004bff"/></linearGradient><linearGradient id="g462" x2="0" y2="1"><stop offset="0" stop-color="#0000c3"/><stop offset="0.526" stop-color="#0000ec"/><stop offset="0.654" stop-color="#00f"/><stop offset="0.763" stop-color="#0028ff"/><stop offset="1" stop-color="#0045ff"/></linearGradient><linearGradient id="g463" x2="0" y2="1"><stop offset="0" stop-color="#0000c3"/><stop offset="0.526" stop-color="#0000ec"/><stop offset="0.612" stop-color="#00f"/><stop offset="0.763" stop-color="#0052ff"/><stop offset="1" stop-color="#007cff"/></linearGradient><linearGradient id="g464" x2="0" y2="1"><stop offset="0" stop-color="#0000d0"/><stop offset="0.526" stop-color="#0000f0"/><stop offset="0.632" stop-color="#00f"/><stop offset="0.763" stop-color="#002dff"/><stop offset="1" stop-color="#0048ff"/></linearGradient><linearGradient id="g465" x2="0" y2="1"><stop offset="0" stop-color="#0000cd"/><stop offset="0.526" stop-color="#0000ed"/><stop offset="0.645" stop-color="#00f"/><stop offset="0.763" stop-color="#002cff"/><stop offset="1" stop-color="#004aff"/></linearGradient><linearGradient id="g466" x2="0" y2="1"><stop offset="0" stop-color="#0000d0"/><stop offset="0.526" stop-color="#00e"/><stop offset="0.638" stop-color="#00f"/><stop offset="0.763" stop-color="#002dff"/><stop offset="1" stop-color="#0049ff"/></linearGradient><linearGradient id="g467" x2="0" y2="1"><stop offset="0" stop-color="#0000d4"/><stop offset="0.526" stop-color="#0000eb"/><stop offset="0.646" stop-color="#00f"/><stop offset="0.763" stop-color="#002fff"/><stop offset="1" stop-color="#004fff"/></linearGradient><linearGradient id="g468" x2="0" y2="1"><stop offset="0" stop-color="#0000ca"/><stop offset="0.526" stop-color="#0000e4"/><stop offset="0.669" stop-color="#00f"/><stop offset="0.763" stop-color="#002bff"/><stop offset="1" stop-color="#004fff"/></linearGradient><linearGradient id="g469" x2="0" y2="1"><stop offset="0" stop-color="#0000d1"/><stop offset="0.526" stop-color="#0000ea"/><stop offset="0.649" stop-color="#00f"/><stop offset="0.763" stop-color="#0030ff"/><stop offset="1" stop-color="#0051ff"/></linearGradient><linearGradient id="g470" x2="0" y2="1"><stop offset="0" stop-color="#0000ca"/><stop offset="0.526" stop-color="#0000e4"/><stop offset="0.627" stop-color="#00f"/><stop offset="0.763" stop-color="#0056ff"/><stop offset="1" stop-color="#0089ff"/></linearGradient><linearGradient id="g471" x2="0" y2="1"><stop offset="0" stop-color="#0000ca"/><stop offset="0.526" stop-color="#0000e2"/><stop offset="0.699" stop-color="#00f"/><stop offset="0.763" stop-color="#001aff"/><stop offset="1" stop-color="#003aff"/></linearGradient><linearGradient id="g472" x2="0" y2="1"><stop offset="0" stop-color="#0000cd"/><stop offset="0.526" stop-color="#00e"/><stop offset="0.631" stop-color="#00f"/><stop offset="0.763" stop-color="#0035ff"/><stop offset="1" stop-color="#0054ff"/></linearGradient><linearGradient id="g473" x2="0" y2="1"><stop offset="0" stop-color="#0000c6"/><stop offset="0.526" stop-color="#0000e3"/><stop offset="0.685" stop-color="#00f"/><stop offset="0.763" stop-color="#0021ff"/><stop offset="1" stop-color="#0043ff"/></linearGradient><linearGradient id="g474" x2="0" y2="1"><stop offset="0" stop-color="#0000c9"/><stop offset="0.526" stop-color="#0000e5"/><stop offset="0.676" stop-color="#00f"/><stop offset="0.763" stop-color="#0025ff"/><stop offset="1" stop-color="#0046ff"/></linearGradient><linearGradient id="g475" x2="0" y2="1"><stop offset="0" stop-color="#0000d1"/><stop offset="0.526" stop-color="#00e"/><stop offset="0.635" stop-color="#00f"/><stop offset="0.763" stop-color="#0031ff"/><stop offset="1" stop-color="#0050ff"/></linearGradient><linearGradient id="g476" x2="0" y2="1"><stop offset="0" stop-color="#0000ca"/><stop offset="0.526" stop-color="#0000e7"/><stop offset="0.684" stop-color="#00f"/><stop offset="0.763" stop-color="#001dff"/><stop offset="1" stop-color="#003aff"/></linearGradient><linearGradient id="g477" x2="0" y2="1"><stop offset="0" stop-color="#0000d9"/><stop offset="0.526" stop-color="#0000e8"/><stop offset="0.657" stop-color="#00f"/><stop offset="0.763" stop-color="#002dff"/><stop offset="1" stop-color="#004eff"/></linearGradient><linearGradient id="g478" x2="0" y2="1"><stop offset="0" stop-color="#0000cd"/><stop offset="0.526" stop-color="#0000e8"/><stop offset="0.645" stop-color="#00f"/><stop offset="0.763" stop-color="#0038ff"/><stop offset="1" stop-color="#005dff"/></linearGradient><linearGradient id="g479" x2="0" y2="1"><stop offset="0" stop-color="#0000d3"/><stop offset="0.526" stop-color="#0000e4"/><stop offset="0.653" stop-color="#00f"/><stop offset="0.763" stop-color="#0038ff"/><stop offset="1" stop-color="#0060ff"/></linearGradient><linearGradient id="g480" x2="0" y2="1"><stop offset="0" stop-color="#0000d4"/><stop offset="0.526" stop-color="#0000e4"/><stop offset="0.675" stop-color="#00f"/><stop offset="0.763" stop-color="#0027ff"/><stop offset="1" stop-color="#0049ff"/></linearGradient><linearGradient id="g481" x2="0" y2="1"><stop offset="0" stop-color="#0000d0"/><stop offset="0.526" stop-color="#0000e8"/><stop offset="0.655" stop-color="#00f"/><stop offset="0.763" stop-color="#002fff"/><stop offset="1" stop-color="#0051ff"/></linearGradient><linearGradient id="g482" x2="0" y2="1"><stop offset="0" stop-color="#0000cb"/><stop offset="0.526" stop-color="#0000e4"/><stop offset="0.68" stop-color="#00f"/><stop offset="0.763" stop-color="#0023ff"/><stop offset="1" stop-color="#0045ff"/></linearGradient><linearGradient id="g483" x2="0" y2="1"><stop offset="0" stop-color="#0000d3"/><stop offset="0.526" stop-color="#0000ed"/><stop offset="0.624" stop-color="#00f"/><stop offset="0.763" stop-color="#003cff"/><stop offset="1" stop-color="#005fff"/></linearGradient><linearGradient id="g484" x2="0" y2="1"><stop offset="0" stop-color="#0000d9"/><stop offset="0.526" stop-color="#0000e7"/><stop offset="0.644" stop-color="#00f"/><stop offset="0.763" stop-color="#003bff"/><stop offset="1" stop-color="#0062ff"/></linearGradient><linearGradient id="g485" x2="0" y2="1"><stop offset="0" stop-color="#0000c9"/><stop offset="0.526" stop-color="#0000e5"/><stop offset="0.672" stop-color="#00f"/><stop offset="0.763" stop-color="#0027ff"/><stop offset="1" stop-color="#0049ff"/></linearGradient><linearGradient id="g486" x2="0" y2="1"><stop offset="0" stop-color="#0000ce"/><stop offset="0.526" stop-color="#0000e8"/><stop offset="0.646" stop-color="#00f"/><stop offset="0.763" stop-color="#0037ff"/><stop offset="1" stop-color="#005cff"/></linearGradient><linearGradient id="g487" x2="0" y2="1"><stop offset="0" stop-color="#0000d4"/><stop offset="0.526" stop-color="#0000e2"/><stop offset="0.672" stop-color="#00f"/><stop offset="0.763" stop-color="#002dff"/><stop offset="1" stop-color="#0053ff"/></linearGradient><linearGradient id="g488" x2="0" y2="1"><stop offset="0" stop-color="#0000ce"/><stop offset="0.526" stop-color="#0000f0"/><stop offset="0.603" stop-color="#00f"/><stop offset="0.763" stop-color="#004dff"/><stop offset="1" stop-color="#0073ff"/></linearGradient><linearGradient id="g489" x2="0" y2="1"><stop offset="0" stop-color="#0000d3"/><stop offset="0.526" stop-color="#0000e9"/><stop offset="0.644" stop-color="#00f"/><stop offset="0.763" stop-color="#0036ff"/><stop offset="1" stop-color="#005aff"/></linearGradient><linearGradient id="g490" x2="0" y2="1"><stop offset="0" stop-color="#00c"/><stop offset="0.526" stop-color="#0000ec"/><stop offset="0.666" stop-color="#00f"/><stop offset="0.763" stop-color="#001fff"/><stop offset="1" stop-color="#0038ff"/></linearGradient><linearGradient id="g491" x2="0" y2="1"><stop offset="0" stop-color="#0000d6"/><stop offset="0.526" stop-color="#0000e1"/><stop offset="0.692" stop-color="#00f"/><stop offset="0.763" stop-color="#0020ff"/><stop offset="1" stop-color="#0043ff"/></linearGradient><linearGradient id="g492" x2="0" y2="1"><stop offset="0" stop-color="#0000c9"/><stop offset="0.526" stop-color="#0000e2"/><stop offset="0.656" stop-color="#00f"/><stop offset="0.763" stop-color="#003bff"/><stop offset="1" stop-color="#06f"/></linearGradient><linearGradient id="g493" x2="0" y2="1"><stop offset="0" stop-color="#0000d8"/><stop offset="0.526" stop-color="#0000e8"/><stop offset="0.681" stop-color="#00f"/><stop offset="0.763" stop-color="#001dff"/><stop offset="1" stop-color="#003aff"/></linearGradient><linearGradient id="g494" x2="0" y2="1"><stop offset="0" stop-color="#0000d2"/><stop offset="0.526" stop-color="#0000e9"/><stop offset="0.667" stop-color="#00f"/><stop offset="0.763" stop-color="#0025ff"/><stop offset="1" stop-color="#0043ff"/></linearGradient><linearGradient id="g495" x2="0" y2="1"><stop offset="0" stop-color="#0000c6"/><stop offset="0.526" stop-color="#0000eb"/><stop offset="0.655" stop-color="#00f"/><stop offset="0.763" stop-color="#0029ff"/><stop offset="1" stop-color="#0047ff"/></linearGradient><linearGradient id="g496" x2="0" y2="1"><stop offset="0" stop-color="#0000d6"/><stop offset="0.526" stop-color="#0000e2"/><stop offset="0.694" stop-color="#00f"/><stop offset="0.763" stop-color="#001cff"/><stop offset="1" stop-color="#003dff"/></linearGradient><linearGradient id="g497" x2="0" y2="1"><stop offset="0" stop-color="#0000d2"/><stop offset="0.526" stop-color="#0000e1"/><stop offset="0.649" stop-color="#00f"/><stop offset="0.763" stop-color="#0042ff"/><stop offset="1" stop-color="#0070ff"/></linearGradient><linearGradient id="g498" x2="0" y2="1"><stop offset="0" stop-color="#0000cb"/><stop offset="0.526" stop-color="#0000e0"/><stop offset="0.686" stop-color="#00f"/><stop offset="0.763" stop-color="#0024ff"/><stop offset="1" stop-color="#0049ff"/></linearGradient><linearGradient id="g499" x2="0" y2="1"><stop offset="0" stop-color="#0000d8"/><stop offset="0.526" stop-color="#0000eb"/><stop offset="0.652" stop-color="#00f"/><stop offset="0.763" stop-color="#002aff"/><stop offset="1" stop-color="#0048ff"/></linearGradient><linearGradient id="g500" x2="0" y2="1"><stop offset="0" stop-color="#0000c3"/><stop offset="0.526" stop-color="#0000eb"/><stop offset="0.668" stop-color="#00f"/><stop offset="0.763" stop-color="#0020ff"/><stop offset="1" stop-color="#003aff"/></linearGradient><linearGradient id="g501" x2="0" y2="1"><stop offset="0" stop-color="#0000d5"/><stop offset="0.526" stop-color="#0000e8"/><stop offset="0.663" stop-color="#00f"/><stop offset="0.763" stop-color="#0029ff"/><stop offset="1" stop-color="#004aff"/></linearGradient><linearGradient id="g502" x2="0" y2="1"><stop offset="0" stop-color="#0000c6"/><stop offset="0.526" stop-color="#0000e2"/><stop offset="0.699" stop-color="#00f"/><stop offset="0.763" stop-color="#001aff"/><stop offset="1" stop-color="#003bff"/></linearGradient><linearGradient id="g503" x2="0" y2="1"><stop offset="0" stop-color="#00c"/><stop offset="0.526" stop-color="#0000e1"/><stop offset="0.684" stop-color="#00f"/><stop offset="0.763" stop-color="#0024ff"/><stop offset="1" stop-color="#0048ff"/></linearGradient><linearGradient id="g504" x2="0" y2="1"><stop offset="0" stop-color="#0000cf"/><stop offset="0.526" stop-color="#0000e4"/><stop offset="0.649" stop-color="#00f"/><stop offset="0.763" stop-color="#003cff"/><stop offset="1" stop-color="#06f"/></linearGradient><linearGradient id="g505" x2="0" y2="1"><stop offset="0" stop-color="#0000d8"/><stop offset="0.526" stop-color="#0000eb"/><stop offset="0.635" stop-color="#00f"/><stop offset="0.763" stop-color="#0038ff"/><stop offset="1" stop-color="#005aff"/></linearGradient><linearGradient id="g506" x2="0" y2="1"><stop offset="0" stop-color="#0000d1"/><stop offset="0.526" stop-color="#0000e8"/><stop offset="0.621" stop-color="#00f"/><stop offset="0.763" stop-color="#0052ff"/><stop offset="1" stop-color="#007fff"/></linearGradient><linearGradient id="g507" x2="0" y2="1"><stop offset="0" stop-color="#0000d3"/><stop offset="0.526" stop-color="#0000e0"/><stop offset="0.697" stop-color="#00f"/><stop offset="0.763" stop-color="#001cff"/><stop offset="1" stop-color="#003fff"/></linearGradient><linearGradient id="g508" x2="0" y2="1"><stop offset="0" stop-color="#0000d0"/><stop offset="0.526" stop-color="#0000e7"/><stop offset="0.65" stop-color="#00f"/><stop offset="0.763" stop-color="#0035ff"/><stop offset="1" stop-color="#005aff"/></linearGradient><linearGradient id="g509" x2="0" y2="1"><stop offset="0" stop-color="#0000c4"/><stop offset="0.526" stop-color="#0000ec"/><stop offset="0.643" stop-color="#00f"/><stop offset="0.763" stop-color="#002eff"/><stop offset="1" stop-color="#004cff"/></linearGradient><linearGradient id="g510" x2="0" y2="1"><stop offset="0" stop-color="#0000c2"/><stop offset="0.526" stop-color="#0000e1"/><stop offset="0.673" stop-color="#00f"/><stop offset="0.763" stop-color="#002cff"/><stop offset="1" stop-color="#0052ff"/></linearGradient><linearGradient id="g511" x2="0" y2="1"><stop offset="0" stop-color="#0000d7"/><stop offset="0.526" stop-color="#0000ed"/><stop offset="0.637" stop-color="#00f"/><stop offset="0.763" stop-color="#0032ff"/><stop offset="1" stop-color="#0052ff"/></linearGradient><linearGradient id="g512" x2="0" y2="1"><stop offset="0" stop-color="#0000d3"/><stop offset="0.526" stop-color="#0000ec"/><stop offset="0.641" stop-color="#00f"/><stop offset="0.763" stop-color="#0030ff"/><stop offset="1" stop-color="#0050ff"/></linearGradient><linearGradient id="g513" x2="0" y2="1"><stop offset="0" stop-color="#0000cf"/><stop offset="0.526" stop-color="#0000e4"/><stop offset="0.68" stop-color="#00f"/><stop offset="0.763" stop-color="#0023ff"/><stop offset="1" stop-color="#0045ff"/></linearGradient><linearGradient id="g514" x2="0" y2="1"><stop offset="0" stop-color="#0000d1"/><stop offset="0.526" stop-color="#0000ea"/><stop offset="0.659" stop-color="#00f"/><stop offset="0.763" stop-color="#0028ff"/><stop offset="1" stop-color="#0047ff"/></linearGradient><linearGradient id="g515" x2="0" y2="1"><stop offset="0" stop-color="#0000d6"/><stop offset="0.526" stop-color="#0000e0"/><stop offset="0.685" stop-color="#00f"/><stop offset="0.763" stop-color="#0024ff"/><stop offset="1" stop-color="#0049ff"/></linearGradient><linearGradient id="g516" x2="0" y2="1"><stop offset="0" stop-color="#0000d4"/><stop offset="0.526" stop-color="#0000e2"/><stop offset="0.682" stop-color="#00f"/><stop offset="0.763" stop-color="#0024ff"/><stop offset="1" stop-color="#0048ff"/></linearGradient><linearGradient id="g517" x2="0" y2="1"><stop offset="0" stop-color="#0000cf"/><stop offset="0.526" stop-color="#0000e9"/><stop offset="0.656" stop-color="#00f"/><stop offset="0.763" stop-color="#002bff"/><stop offset="1" stop-color="#004bff"/></linearGradient><linearGradient id="g518" x2="0" y2="1"><stop offset="0" stop-color="#0000d8"/><stop offset="0.526" stop-color="#0000e2"/><stop offset="0.647" stop-color="#00f"/><stop offset="0.763" stop-color="#04f"/><stop offset="1" stop-color="#0071ff"/></linearGradient><linearGradient id="g519" x2="0" y2="1"><stop offset="0" stop-color="#0000ce"/><stop offset="0.526" stop-color="#0000e2"/><stop offset="0.695" stop-color="#00f"/><stop offset="0.763" stop-color="#001cff"/><stop offset="1" stop-color="#003eff"/></linearGradient><linearGradient id="g520" x2="0" y2="1"><stop offset="0" stop-color="#0000c4"/><stop offset="0.526" stop-color="#0000ea"/><stop offset="0.639" stop-color="#00f"/><stop offset="0.763" stop-color="#0039ff"/><stop offset="1" stop-color="#005dff"/></linearGradient><linearGradient id="g521" x2="0" y2="1"><stop offset="0" stop-color="#0000d3"/><stop offset="0.526" stop-color="#0000e0"/><stop offset="0.665" stop-color="#00f"/><stop offset="0.763" stop-color="#0034ff"/><stop offset="1" stop-color="#005eff"/></linearGradient><linearGradient id="g522" x2="0" y2="1"><stop offset="0" stop-color="#0000c9"/><stop offset="0.526" stop-color="#0000e8"/><stop offset="0.661" stop-color="#00f"/><stop offset="0.763" stop-color="#002bff"/><stop offset="1" stop-color="#004cff"/></linearGradient><linearGradient id="g523" x2="0" y2="1"><stop offset="0" stop-color="#0000c7"/><stop offset="0.526" stop-color="#0000e6"/><stop offset="0.637" stop-color="#00f"/><stop offset="0.763" stop-color="#0047ff"/><stop offset="1" stop-color="#0072ff"/></linearGradient><linearGradient id="g524" x2="0" y2="1"><stop offset="0" stop-color="#0000c7"/><stop offset="0.526" stop-color="#0000ef"/><stop offset="0.636" stop-color="#00f"/><stop offset="0.763" stop-color="#002cff"/><stop offset="1" stop-color="#0048ff"/></linearGradient><linearGradient id="g525" x2="0" y2="1"><stop offset="0" stop-color="#0000d2"/><stop offset="0.526" stop-color="#0000e6"/><stop offset="0.69" stop-color="#00f"/><stop offset="0.763" stop-color="#001bff"/><stop offset="1" stop-color="#0039ff"/></linearGradient><linearGradient id="g526" x2="0" y2="1"><stop offset="0" stop-color="#0000c9"/><stop offset="0.526" stop-color="#0000e6"/><stop offset="0.67" stop-color="#00f"/><stop offset="0.763" stop-color="#0028ff"/><stop offset="1" stop-color="#0049ff"/></linearGradient><linearGradient id="g527" x2="0" y2="1"><stop offset="0" stop-color="#0000cb"/><stop offset="0.526" stop-color="#0000e7"/><stop offset="0.659" stop-color="#00f"/><stop offset="0.763" stop-color="#002cff"/><stop offset="1" stop-color="#004eff"/></linearGradient><linearGradient id="g528" x2="0" y2="1"><stop offset="0" stop-color="#0000d9"/><stop offset="0.526" stop-color="#0000e6"/><stop offset="0.663" stop-color="#00f"/><stop offset="0.763" stop-color="#002bff"/><stop offset="1" stop-color="#004eff"/></linearGradient><linearGradient id="g529" x2="0" y2="1"><stop offset="0" stop-color="#0000ca"/><stop offset="0.526" stop-color="#0000e1"/><stop offset="0.688" stop-color="#00f"/><stop offset="0.763" stop-color="#02f"/><stop offset="1" stop-color="#0046ff"/></linearGradient><linearGradient id="g530" x2="0" y2="1"><stop offset="0" stop-color="#0000d3"/><stop offset="0.526" stop-color="#0000ec"/><stop offset="0.618" stop-color="#00f"/><stop offset="0.763" stop-color="#0048ff"/><stop offset="1" stop-color="#0070ff"/></linearGradient><linearGradient id="g531" x2="0" y2="1"><stop offset="0" stop-color="#0000d8"/><stop offset="0.526" stop-color="#0000eb"/><stop offset="0.618" stop-color="#00f"/><stop offset="0.763" stop-color="#004dff"/><stop offset="1" stop-color="#0076ff"/></linearGradient><linearGradient id="g532" x2="0" y2="1"><stop offset="0" stop-color="#0000d3"/><stop offset="0.526" stop-color="#0000e9"/><stop offset="0.662" stop-color="#00f"/><stop offset="0.763" stop-color="#0028ff"/><stop offset="1" stop-color="#0046ff"/></linearGradient><linearGradient id="g533" x2="0" y2="1"><stop offset="0" stop-color="#0000d8"/><stop offset="0.526" stop-color="#0000ec"/><stop offset="0.645" stop-color="#00f"/><stop offset="0.763" stop-color="#002dff"/><stop offset="1" stop-color="#004bff"/></linearGradient><linearGradient id="g534" x2="0" y2="1"><stop offset="0" stop-color="#0000d4"/><stop offset="0.526" stop-color="#0000e5"/><stop offset="0.674" stop-color="#00f"/><stop offset="0.763" stop-color="#0026ff"/><stop offset="1" stop-color="#0047ff"/></linearGradient><linearGradient id="g535" x2="0" y2="1"><stop offset="0" stop-color="#0000d4"/><stop offset="0.526" stop-color="#0000e8"/><stop offset="0.645" stop-color="#00f"/><stop offset="0.763" stop-color="#0038ff"/><stop offset="1" stop-color="#005dff"/></linearGradient><linearGradient id="g536" x2="0" y2="1"><stop offset="0" stop-color="#0000d4"/><stop offset="0.526" stop-color="#0000e3"/><stop offset="0.635" stop-color="#00f"/><stop offset="0.763" stop-color="#0050ff"/><stop offset="1" stop-color="#0082ff"/></linearGradient><linearGradient id="g537" x2="0" y2="1"><stop offset="0" stop-color="#0000c3"/><stop offset="0.526" stop-color="#0000eb"/><stop offset="0.665" stop-color="#00f"/><stop offset="0.763" stop-color="#02f"/><stop offset="1" stop-color="#003dff"/></linearGradient><linearGradient id="g538" x2="0" y2="1"><stop offset="0" stop-color="#0000cf"/><stop offset="0.526" stop-color="#0000ec"/><stop offset="0.638" stop-color="#00f"/><stop offset="0.763" stop-color="#03f"/><stop offset="1" stop-color="#0053ff"/></linearGradient><linearGradient id="g539" x2="0" y2="1"><stop offset="0" stop-color="#0000d0"/><stop offset="0.526" stop-color="#0000ed"/><stop offset="0.641" stop-color="#00f"/><stop offset="0.763" stop-color="#002dff"/><stop offset="1" stop-color="#004aff"/></linearGradient><linearGradient id="g540" x2="0" y2="1"><stop offset="0" stop-color="#0000d8"/><stop offset="0.526" stop-color="#00e"/><stop offset="0.663" stop-color="#00f"/><stop offset="0.763" stop-color="#001fff"/><stop offset="1" stop-color="#0037ff"/></linearGradient><linearGradient id="g541" x2="0" y2="1"><stop offset="0" stop-color="#0000c5"/><stop offset="0.526" stop-color="#0000e2"/><stop offset="0.686" stop-color="#00f"/><stop offset="0.763" stop-color="#0023ff"/><stop offset="1" stop-color="#0046ff"/></linearGradient><linearGradient id="g542" x2="0" y2="1"><stop offset="0" stop-color="#0000d1"/><stop offset="0.526" stop-color="#0000e1"/><stop offset="0.677" stop-color="#00f"/><stop offset="0.763" stop-color="#0029ff"/><stop offset="1" stop-color="#004fff"/></linearGradient><linearGradient id="g543" x2="0" y2="1"><stop offset="0" stop-color="#0000d8"/><stop offset="0.526" stop-color="#0000e4"/><stop offset="0.696" stop-color="#00f"/><stop offset="0.763" stop-color="#001aff"/><stop offset="1" stop-color="#0038ff"/></linearGradient><linearGradient id="g544" x2="0" y2="1"><stop offset="0" stop-color="#0000d1"/><stop offset="0.526" stop-color="#0000ea"/><stop offset="0.642" stop-color="#00f"/><stop offset="0.763" stop-color="#0036ff"/><stop offset="1" stop-color="#0059ff"/></linearGradient><linearGradient id="g545" x2="0" y2="1"><stop offset="0" stop-color="#0000d1"/><stop offset="0.526" stop-color="#0000eb"/><stop offset="0.644" stop-color="#00f"/><stop offset="0.763" stop-color="#0030ff"/><stop offset="1" stop-color="#0050ff"/></linearGradient><linearGradient id="g546" x2="0" y2="1"><stop offset="0" stop-color="#0000d4"/><stop offset="0.526" stop-color="#0000e0"/><stop offset="0.639" stop-color="#00f"/><stop offset="0.763" stop-color="#0051ff"/><stop offset="1" stop-color="#0084ff"/></linearGradient><linearGradient id="g547" x2="0" y2="1"><stop offset="0" stop-color="#0000cf"/><stop offset="0.526" stop-color="#0000e3"/><stop offset="0.692" stop-color="#00f"/><stop offset="0.763" stop-color="#001dff"/><stop offset="1" stop-color="#003eff"/></linearGradient><linearGradient id="g548" x2="0" y2="1"><stop offset="0" stop-color="#0000c4"/><stop offset="0.526" stop-color="#0000ea"/><stop offset="0.662" stop-color="#00f"/><stop offset="0.763" stop-color="#0026ff"/><stop offset="1" stop-color="#04f"/></linearGradient><linearGradient id="g549" x2="0" y2="1"><stop offset="0" stop-color="#0000d8"/><stop offset="0.526" stop-color="#0000e2"/><stop offset="0.684" stop-color="#00f"/><stop offset="0.763" stop-color="#0023ff"/><stop offset="1" stop-color="#0047ff"/></linearGradient><linearGradient id="g550" x2="0" y2="1"><stop offset="0" stop-color="#0000d8"/><stop offset="0.526" stop-color="#0000e4"/><stop offset="0.687" stop-color="#00f"/><stop offset="0.763" stop-color="#001fff"/><stop offset="1" stop-color="#003fff"/></linearGradient><linearGradient id="g551" x2="0" y2="1"><stop offset="0" stop-color="#0000d3"/><stop offset="0.526" stop-color="#0000e1"/><stop offset="0.678" stop-color="#00f"/><stop offset="0.763" stop-color="#0029ff"/><stop offset="1" stop-color="#004eff"/></linearGradient><linearGradient id="g552" x2="0" y2="1"><stop offset="0" stop-color="#0000d3"/><stop offset="0.526" stop-color="#0000ea"/><stop offset="0.644" stop-color="#00f"/><stop offset="0.763" stop-color="#0032ff"/><stop offset="1" stop-color="#0053ff"/></linearGradient><linearGradient id="g553" x2="0" y2="1"><stop offset="0" stop-color="#0000c8"/><stop offset="0.526" stop-color="#0000ec"/><stop offset="0.615" stop-color="#00f"/><stop offset="0.763" stop-color="#004eff"/><stop offset="1" stop-color="#0078ff"/></linearGradient><linearGradient id="g554" x2="0" y2="1"><stop offset="0" stop-color="#0000c8"/><stop offset="0.526" stop-color="#0000f0"/><stop offset="0.631" stop-color="#00f"/><stop offset="0.763" stop-color="#002fff"/><stop offset="1" stop-color="#004bff"/></linearGradient><linearGradient id="g555" x2="0" y2="1"><stop offset="0" stop-color="#0000d8"/><stop offset="0.526" stop-color="#0000e1"/><stop offset="0.65" stop-color="#00f"/><stop offset="0.763" stop-color="#0042ff"/><stop offset="1" stop-color="#0071ff"/></linearGradient><linearGradient id="g556" x2="0" y2="1"><stop offset="0" stop-color="#0000c3"/><stop offset="0.526" stop-color="#0000e1"/><stop offset="0.69" stop-color="#00f"/><stop offset="0.763" stop-color="#0021ff"/><stop offset="1" stop-color="#04f"/></linearGradient><linearGradient id="g557" x2="0" y2="1"><stop offset="0" stop-color="#0000ce"/><stop offset="0.526" stop-color="#0000e9"/><stop offset="0.655" stop-color="#00f"/><stop offset="0.763" stop-color="#002cff"/><stop offset="1" stop-color="#004dff"/></linearGradient><linearGradient id="g558" x2="0" y2="1"><stop offset="0" stop-color="#0000c8"/><stop offset="0.526" stop-color="#0000e3"/><stop offset="0.636" stop-color="#00f"/><stop offset="0.763" stop-color="#004eff"/><stop offset="1" stop-color="#007eff"/></linearGradient><linearGradient id="g559" x2="0" y2="1"><stop offset="0" stop-color="#0000d1"/><stop offset="0.526" stop-color="#0000e6"/><stop offset="0.648" stop-color="#00f"/><stop offset="0.763" stop-color="#0039ff"/><stop offset="1" stop-color="#005fff"/></linearGradient><linearGradient id="g560" x2="0" y2="1"><stop offset="0" stop-color="#0000d7"/><stop offset="0.526" stop-color="#0000e3"/><stop offset="0.677" stop-color="#00f"/><stop offset="0.763" stop-color="#0026ff"/><stop offset="1" stop-color="#0049ff"/></linearGradient><linearGradient id="g561" x2="0" y2="1"><stop offset="0" stop-color="#0000d7"/><stop offset="0.526" stop-color="#0000ec"/><stop offset="0.662" stop-color="#00f"/><stop offset="0.763" stop-color="#02f"/><stop offset="1" stop-color="#003dff"/></linearGradient><linearGradient id="g562" x2="0" y2="1"><stop offset="0" stop-color="#0000c2"/><stop offset="0.526" stop-color="#0000eb"/><stop offset="0.662" stop-color="#00f"/><stop offset="0.763" stop-color="#0025ff"/><stop offset="1" stop-color="#0042ff"/></linearGradient><linearGradient id="g563" x2="0" y2="1"><stop offset="0" stop-color="#0000d7"/><stop offset="0.526" stop-color="#0000ec"/><stop offset="0.628" stop-color="#00f"/><stop offset="0.763" stop-color="#003eff"/><stop offset="1" stop-color="#0062ff"/></linearGradient><linearGradient id="g564" x2="0" y2="1"><stop offset="0" stop-color="#0000cf"/><stop offset="0.526" stop-color="#0000e5"/><stop offset="0.68" stop-color="#00f"/><stop offset="0.763" stop-color="#02f"/><stop offset="1" stop-color="#0043ff"/></linearGradient><linearGradient id="g565" x2="0" y2="1"><stop offset="0" stop-color="#0000c9"/><stop offset="0.526" stop-color="#0000e6"/><stop offset="0.673" stop-color="#00f"/><stop offset="0.763" stop-color="#0025ff"/><stop offset="1" stop-color="#0046ff"/></linearGradient><linearGradient id="g566" x2="0" y2="1"><stop offset="0" stop-color="#0000d6"/><stop offset="0.526" stop-color="#0000e5"/><stop offset="0.66" stop-color="#00f"/><stop offset="0.763" stop-color="#0030ff"/><stop offset="1" stop-color="#05f"/></linearGradient><linearGradient id="g567" x2="0" y2="1"><stop offset="0" stop-color="#0000d0"/><stop offset="0.526" stop-color="#0000e7"/><stop offset="0.636" stop-color="#00f"/><stop offset="0.763" stop-color="#04f"/><stop offset="1" stop-color="#006eff"/></linearGradient><linearGradient id="g568" x2="0" y2="1"><stop offset="0" stop-color="#0000d3"/><stop offset="0.526" stop-color="#0000ec"/><stop offset="0.626" stop-color="#00f"/><stop offset="0.763" stop-color="#0040ff"/><stop offset="1" stop-color="#0064ff"/></linearGradient><linearGradient id="g569" x2="0" y2="1"><stop offset="0" stop-color="#0000d1"/><stop offset="0.526" stop-color="#0000e7"/><stop offset="0.686" stop-color="#00f"/><stop offset="0.763" stop-color="#001cff"/><stop offset="1" stop-color="#0039ff"/></linearGradient><linearGradient id="g570" x2="0" y2="1"><stop offset="0" stop-color="#0000d4"/><stop offset="0.526" stop-color="#0000e8"/><stop offset="0.681" stop-color="#00f"/><stop offset="0.763" stop-color="#001eff"/><stop offset="1" stop-color="#003aff"/></linearGradient><linearGradient id="g571" x2="0" y2="1"><stop offset="0" stop-color="#0000d7"/><stop offset="0.526" stop-color="#0000e0"/><stop offset="0.664" stop-color="#00f"/><stop offset="0.763" stop-color="#0036ff"/><stop offset="1" stop-color="#0061ff"/></linearGradient><linearGradient id="g572" x2="0" y2="1"><stop offset="0" stop-color="#0000c4"/><stop offset="0.526" stop-color="#0000e2"/><stop offset="0.688" stop-color="#00f"/><stop offset="0.763" stop-color="#0020ff"/><stop offset="1" stop-color="#0042ff"/></linearGradient><linearGradient id="g573" x2="0" y2="1"><stop offset="0" stop-color="#0000d5"/><stop offset="0.526" stop-color="#00e"/><stop offset="0.641" stop-color="#00f"/><stop offset="0.763" stop-color="#002cff"/><stop offset="1" stop-color="#0048ff"/></linearGradient><linearGradient id="g574" x2="0" y2="1"><stop offset="0" stop-color="#0000d0"/><stop offset="0.526" stop-color="#0000e1"/><stop offset="0.643" stop-color="#00f"/><stop offset="0.763" stop-color="#004bff"/><stop offset="1" stop-color="#007cff"/></linearGradient><linearGradient id="g575" x2="0" y2="1"><stop offset="0" stop-color="#0000c7"/><stop offset="0.526" stop-color="#0000ec"/><stop offset="0.62" stop-color="#00f"/><stop offset="0.763" stop-color="#0047ff"/><stop offset="1" stop-color="#006eff"/></linearGradient><linearGradient id="g576" x2="0" y2="1"><stop offset="0" stop-color="#0000cb"/><stop offset="0.526" stop-color="#0000e6"/><stop offset="0.625" stop-color="#00f"/><stop offset="0.763" stop-color="#0053ff"/><stop offset="1" stop-color="#0083ff"/></linearGradient><linearGradient id="g577" x2="0" y2="1"><stop offset="0" stop-color="#0000d4"/><stop offset="0.526" stop-color="#00e"/><stop offset="0.644" stop-color="#00f"/><stop offset="0.763" stop-color="#002bff"/><stop offset="1" stop-color="#0047ff"/></linearGradient><linearGradient id="g578" x2="0" y2="1"><stop offset="0" stop-color="#0000d4"/><stop offset="0.526" stop-color="#0000e5"/><stop offset="0.679" stop-color="#00f"/><stop offset="0.763" stop-color="#02f"/><stop offset="1" stop-color="#0041ff"/></linearGradient><linearGradient id="g579" x2="0" y2="1"><stop offset="0" stop-color="#0000d5"/><stop offset="0.526" stop-color="#0000e5"/><stop offset="0.674" stop-color="#00f"/><stop offset="0.763" stop-color="#0026ff"/><stop offset="1" stop-color="#0047ff"/></linearGradient><linearGradient id="g580" x2="0" y2="1"><stop offset="0" stop-color="#00c"/><stop offset="0.526" stop-color="#0000e3"/><stop offset="0.674" stop-color="#00f"/><stop offset="0.763" stop-color="#0029ff"/><stop offset="1" stop-color="#004cff"/></linearGradient><linearGradient id="g581" x2="0" y2="1"><stop offset="0" stop-color="#00c"/><stop offset="0.526" stop-color="#0000ea"/><stop offset="0.653" stop-color="#00f"/><stop offset="0.763" stop-color="#002dff"/><stop offset="1" stop-color="#004dff"/></linearGradient><linearGradient id="g582" x2="0" y2="1"><stop offset="0" stop-color="#0000c9"/><stop offset="0.526" stop-color="#0000ed"/><stop offset="0.625" stop-color="#00f"/><stop offset="0.763" stop-color="#003cff"/><stop offset="1" stop-color="#005eff"/></linearGradient><linearGradient id="g583" x2="0" y2="1"><stop offset="0" stop-color="#0000c3"/><stop offset="0.526" stop-color="#0000eb"/><stop offset="0.648" stop-color="#00f"/><stop offset="0.763" stop-color="#002eff"/><stop offset="1" stop-color="#004dff"/></linearGradient><linearGradient id="g584" x2="0" y2="1"><stop offset="0" stop-color="#0000cf"/><stop offset="0.526" stop-color="#0000ea"/><stop offset="0.662" stop-color="#00f"/><stop offset="0.763" stop-color="#0026ff"/><stop offset="1" stop-color="#0043ff"/></linearGradient><linearGradient id="g585" x2="0" y2="1"><stop offset="0" stop-color="#0000d4"/><stop offset="0.526" stop-color="#0000ea"/><stop offset="0.636" stop-color="#00f"/><stop offset="0.763" stop-color="#003bff"/><stop offset="1" stop-color="#005fff"/></linearGradient><linearGradient id="g586" x2="0" y2="1"><stop offset="0" stop-color="#0000c4"/><stop offset="0.526" stop-color="#0000f0"/><stop offset="0.612" stop-color="#00f"/><stop offset="0.763" stop-color="#0041ff"/><stop offset="1" stop-color="#0063ff"/></linearGradient><linearGradient id="g587" x2="0" y2="1"><stop offset="0" stop-color="#0000c5"/><stop offset="0.526" stop-color="#0000e9"/><stop offset="0.669" stop-color="#00f"/><stop offset="0.763" stop-color="#0023ff"/><stop offset="1" stop-color="#0040ff"/></linearGradient><linearGradient id="g588" x2="0" y2="1"><stop offset="0" stop-color="#00c"/><stop offset="0.526" stop-color="#0000f0"/><stop offset="0.625" stop-color="#00f"/><stop offset="0.763" stop-color="#0034ff"/><stop offset="1" stop-color="#0052ff"/></linearGradient><linearGradient id="g589" x2="0" y2="1"><stop offset="0" stop-color="#0000cb"/><stop offset="0.526" stop-color="#00e"/><stop offset="0.638" stop-color="#00f"/><stop offset="0.763" stop-color="#002dff"/><stop offset="1" stop-color="#0049ff"/></linearGradient><linearGradient id="g590" x2="0" y2="1"><stop offset="0" stop-color="#0000d2"/><stop offset="0.526" stop-color="#0000ed"/><stop offset="0.645" stop-color="#00f"/><stop offset="0.763" stop-color="#002aff"/><stop offset="1" stop-color="#0046ff"/></linearGradient><linearGradient id="g591" x2="0" y2="1"><stop offset="0" stop-color="#0000ce"/><stop offset="0.526" stop-color="#00e"/><stop offset="0.648" stop-color="#00f"/><stop offset="0.763" stop-color="#0027ff"/><stop offset="1" stop-color="#0041ff"/></linearGradient><linearGradient id="g592" x2="0" y2="1"><stop offset="0" stop-color="#0000d6"/><stop offset="0.526" stop-color="#0000ed"/><stop offset="0.632" stop-color="#00f"/><stop offset="0.763" stop-color="#0037ff"/><stop offset="1" stop-color="#0058ff"/></linearGradient><linearGradient id="g593" x2="0" y2="1"><stop offset="0" stop-color="#0000d8"/><stop offset="0.526" stop-color="#0000e8"/><stop offset="0.633" stop-color="#00f"/><stop offset="0.763" stop-color="#0043ff"/><stop offset="1" stop-color="#006cff"/></linearGradient><linearGradient id="g594" x2="0" y2="1"><stop offset="0" stop-color="#0000cb"/><stop offset="0.526" stop-color="#0000e1"/><stop offset="0.644" stop-color="#00f"/><stop offset="0.763" stop-color="#0049ff"/><stop offset="1" stop-color="#0078ff"/></linearGradient><linearGradient id="g595" x2="0" y2="1"><stop offset="0" stop-color="#0000d4"/><stop offset="0.526" stop-color="#0000e3"/><stop offset="0.645" stop-color="#00f"/><stop offset="0.763" stop-color="#0043ff"/><stop offset="1" stop-color="#006fff"/></linearGradient><linearGradient id="g596" x2="0" y2="1"><stop offset="0" stop-color="#0000d5"/><stop offset="0.526" stop-color="#0000e3"/><stop offset="0.692" stop-color="#00f"/><stop offset="0.763" stop-color="#001eff"/><stop offset="1" stop-color="#003eff"/></linearGradient><linearGradient id="g597" x2="0" y2="1"><stop offset="0" stop-color="#0000d0"/><stop offset="0.526" stop-color="#0000e8"/><stop offset="0.667" stop-color="#00f"/><stop offset="0.763" stop-color="#0027ff"/><stop offset="1" stop-color="#0046ff"/></linearGradient><linearGradient id="g598" x2="0" y2="1"><stop offset="0" stop-color="#0000c4"/><stop offset="0.526" stop-color="#0000e4"/><stop offset="0.674" stop-color="#00f"/><stop offset="0.763" stop-color="#0027ff"/><stop offset="1" stop-color="#004aff"/></linearGradient><linearGradient id="g599" x2="0" y2="1"><stop offset="0" stop-color="#0000d8"/><stop offset="0.526" stop-color="#0000e4"/><stop offset="0.685" stop-color="#00f"/><stop offset="0.763" stop-color="#0021ff"/><stop offset="1" stop-color="#0041ff"/></linearGradient><linearGradient id="g600" x2="0" y2="1"><stop offset="0" stop-color="#00c"/><stop offset="0.526" stop-color="#0000e6"/><stop offset="0.635" stop-color="#00f"/><stop offset="0.763" stop-color="#0047ff"/><stop offset="1" stop-color="#0072ff"/></linearGradient><linearGradient id="g601" x2="0" y2="1"><stop offset="0" stop-color="#00c"/><stop offset="0.526" stop-color="#0000e9"/><stop offset="0.645" stop-color="#00f"/><stop offset="0.763" stop-color="#0035ff"/><stop offset="1" stop-color="#0058ff"/></linearGradient><linearGradient id="g602" x2="0" y2="1"><stop offset="0" stop-color="#0000cf"/><stop offset="0.526" stop-color="#0000e9"/><stop offset="0.666" stop-color="#00f"/><stop offset="0.763" stop-color="#0025ff"/><stop offset="1" stop-color="#04f"/></linearGradient><linearGradient id="g603" x2="0" y2="1"><stop offset="0" stop-color="#0000d4"/><stop offset="0.526" stop-color="#0000e8"/><stop offset="0.673" stop-color="#00f"/><stop offset="0.763" stop-color="#02f"/><stop offset="1" stop-color="#0040ff"/></linearGradient><linearGradient id="g604" x2="0" y2="1"><stop offset="0" stop-color="#0000d5"/><stop offset="0.526" stop-color="#0000e9"/><stop offset="0.647" stop-color="#00f"/><stop offset="0.763" stop-color="#0035ff"/><stop offset="1" stop-color="#0058ff"/></linearGradient><linearGradient id="g605" x2="0" y2="1"><stop offset="0" stop-color="#0000cf"/><stop offset="0.526" stop-color="#00e"/><stop offset="0.631" stop-color="#00f"/><stop offset="0.763" stop-color="#0034ff"/><stop offset="1" stop-color="#0054ff"/></linearGradient><linearGradient id="g606" x2="0" y2="1"><stop offset="0" stop-color="#0000d8"/><stop offset="0.526" stop-color="#0000e8"/><stop offset="0.669" stop-color="#00f"/><stop offset="0.763" stop-color="#0025ff"/><stop offset="1" stop-color="#04f"/></linearGradient><linearGradient id="g607" x2="0" y2="1"><stop offset="0" stop-color="#0000c7"/><stop offset="0.526" stop-color="#0000e4"/><stop offset="0.655" stop-color="#00f"/><stop offset="0.763" stop-color="#0036ff"/><stop offset="1" stop-color="#005eff"/></linearGradient><linearGradient id="g608" x2="0" y2="1"><stop offset="0" stop-color="#0000d0"/><stop offset="0.526" stop-color="#0000e8"/><stop offset="0.65" stop-color="#00f"/><stop offset="0.763" stop-color="#03f"/><stop offset="1" stop-color="#0057ff"/></linearGradient><linearGradient id="g609" x2="0" y2="1"><stop offset="0" stop-color="#0000c2"/><stop offset="0.526" stop-color="#0000e2"/><stop offset="0.636" stop-color="#00f"/><stop offset="0.763" stop-color="#0051ff"/><stop offset="1" stop-color="#0083ff"/></linearGradient><linearGradient id="g610" x2="0" y2="1"><stop offset="0" stop-color="#0000c2"/><stop offset="0.526" stop-color="#0000ed"/><stop offset="0.635" stop-color="#00f"/><stop offset="0.763" stop-color="#0034ff"/><stop offset="1" stop-color="#0054ff"/></linearGradient><linearGradient id="g611" x2="0" y2="1"><stop offset="0" stop-color="#0000d5"/><stop offset="0.526" stop-color="#0000e1"/><stop offset="0.695" stop-color="#00f"/><stop offset="0.763" stop-color="#001dff"/><stop offset="1" stop-color="#003fff"/></linearGradient><linearGradient id="g612" x2="0" y2="1"><stop offset="0" stop-color="#0000d1"/><stop offset="0.526" stop-color="#0000ef"/><stop offset="0.624" stop-color="#00f"/><stop offset="0.763" stop-color="#0038ff"/><stop offset="1" stop-color="#0057ff"/></linearGradient><linearGradient id="g613" x2="0" y2="1"><stop offset="0" stop-color="#0000d3"/><stop offset="0.526" stop-color="#0000e2"/><stop offset="0.655" stop-color="#00f"/><stop offset="0.763" stop-color="#003cff"/><stop offset="1" stop-color="#0067ff"/></linearGradient><linearGradient id="g614" x2="0" y2="1"><stop offset="0" stop-color="#0000c4"/><stop offset="0.526" stop-color="#0000e8"/><stop offset="0.632" stop-color="#00f"/><stop offset="0.763" stop-color="#0045ff"/><stop offset="1" stop-color="#006fff"/></linearGradient><linearGradient id="cb" gradientUnits="userSpaceOnUse" x1="0" y1="338" x2="0" y2="480"><stop offset="0" stop-color="#f00"/><stop offset="0.3592" stop-color="#ff0"/><stop offset="0.507" stop-color="#00fa00"/><stop offset="0.7606" stop-color="#0ff"/><stop offset="0.8732" stop-color="#00f"/><stop offset="1" stop-color="#008"/></linearGradient></defs>
<g shape-rendering="crispEdges"><rect x="120" y="362" width="1" height="38" fill="url(#g1)"/><rect x="121" y="362" width="1" height="38" fill="url(#g2)"/><rect x="122" y="362" width="1" height="38" fill="url(#g3)"/><rect x="123" y="362" width="1" height="38" fill="url(#g4)"/><rect x="124" y="362" width="1" height="38" fill="url(#g5)"/><rect x="125" y="362" width="1" height="38" fill="url(#g6)"/><rect x="126" y="362" width="1" height="38" fill="url(#g7)"/><rect x="127" y="362" width="1" height="38" fill="url(#g8)"/><rect x="128" y="362" width="1" height="38" fill="url(#g9)"/><rect x="129" y="362" width="1" height="38" fill="url(#g10)"/><rect x="130" y="362" width="1" height="38" fill="url(#g11)"/><rect x="131" y="362" width="1" height="38" fill="url(#g12)"/><rect x="132" y="362" width="1" height="38" fill="url(#g13)"/><rect x="133" y="362" width="1" height="38" fill="url(#g14)"/><rect x="134" y="362" width="1" height="38" fill="url(#g15)"/><rect x="135" y="362" width="1" height="38" fill="url(#g16)"/><rect x="136" y="362" width="1" height="38" fill="url(#g17)"/><rect x="137" y="362" width="1" height="38" fill="url(#g18)"/><rect x="138" y="362" width="1" height="38" fill="url(#g19)"/><rect x="139" y="362" width="1" height="38" fill="url(#g20)"/><rect x="140" y="362" width="1" height="38" fill="url(#g21)"/><rect x="141" y="362" width="1" height="38" fill="url(#g22)"/><rect x="142" y="362" width="1" height="38" fill="url(#g23)"/><rect x="143" y="362" width="1" height="38" fill="url(#g24)"/><rect x="144" y="362" width="1" height="38" fill="url(#g25)"/><rect x="145" y="362" width="1" height="38" fill="url(#g26)"/><rect x="146" y="362" width="1" height="38" fill="url(#g27)"/><rect x="147" y="362" width="1" height="38" fill="url(#g28)"/><rect x="148" y="362" width="1" height="38" fill="url(#g29)"/><rect x="149" y="362" width="1" height="38" fill="url(#g30)"/><rect x="150" y="362" width="1" height="38" fill="url(#g31)"/><rect x="151" y="362" width="1" height="38" fill="url(#g32)"/><rect x="152" y="362" width="1" height="38" fill="url(#g33)"/><rect x="153" y="362" width="1" height="38" fill="url(#g34)"/><rect x="154" y="362" width="1" height="38" fill="url(#g35)"/><rect x="155" y="362" width="1" height="38" fill="url(#g36)"/><rect x="156" y="362" width="1" height="38" fill="url(#g37)"/><rect x="157" y="362" width="1" height="38" fill="url(#g38)"/><rect x="158" y="362" width="1" height="38" fill="url(#g39)"/><rect x="159" y="362" width="1" height="38" fill="url(#g40)"/><rect x="160" y="362" width="1" height="38" fill="url(#g41)"/><rect x="161" y="362" width="1" height="38" fill="url(#g42)"/><rect x="162" y="362" width="1" height="38" fill="url(#g43)"/><rect x="163" y="362" width="1" height="38" fill="url(#g44)"/><rect x="164" y="362" width="1" height="38" fill="url(#g45)"/><rect x="165" y="362" width="1" height="38" fill="url(#g46)"/><rect x="166" y="362" width="1" height="38" fill="url(#g47)"/><rect x="167" y="362" width="1" height="38" fill="url(#g48)"/><rect x="168" y="362" width="1" height="38" fill="url(#g49)"/><rect x="169" y="362" width="1" height="38" fill="url(#g50)"/><rect x="170" y="362" width="1" height="38" fill="url(#g51)"/><rect x="171" y="362" width="1" height="38" fill="url(#g52)"/><rect x="172" y="362" width="1" height="38" fill="url(#g53)"/><rect x="173" y="362" width="1" height="38" fill="url(#g54)"/><rect x="174" y="362" width="1" height="38" fill="url(#g55)"/><rect x="175" y="362" width="1" height="38" fill="url(#g56)"/><rect x="176" y="362" width="1" height="38" fill="url(#g57)"/><rect x="177" y="362" width="1" height="38" fill="url(#g58)"/><rect x="178" y="362" width="1" height="38" fill="url(#g59)"/><rect x="179" y="362" width="1" height="38" fill="url(#g60)"/><rect x="180" y="362" width="1" height="38" fill="url(#g61)"/><rect x="181" y="362" width="1" height="38" fill="url(#g62)"/><rect x="182" y="362" width="1" height="38" fill="url(#g63)"/><rect x="183" y="362" width="1" height="38" fill="url(#g64)"/><rect x="184" y="362" width="1" height="38" fill="url(#g65)"/><rect x="185" y="362" width="1" height="38" fill="url(#g66)"/><rect x="186" y="362" width="1" height="38" fill="url(#g67)"/><rect x="187" y="362" width="1" height="38" fill="url(#g68)"/><rect x="188" y="362" width="1" height="38" fill="url(#g69)"/><rect x="189" y="362" width="1" height="38" fill="url(#g70)"/><rect x="190" y="362" width="1" height="38" fill="url(#g71)"/><rect x="191" y="362" width="1" height="38" fill="url(#g72)"/><rect x="192" y="362" width="1" height="38" fill="url(#g73)"/><rect x="193" y="362" width="1" height="38" fill="url(#g74)"/><rect x="194" y="362" width="1" height="38" fill="url(#g75)"/><rect x="195" y="362" width="1" height="38" fill="url(#g76)"/><rect x="196" y="362" width="1" height="38" fill="url(#g77)"/><rect x="197" y="362" width="1" height="38" fill="url(#g78)"/><rect x="198" y="362" width="1" height="38" fill="url(#g79)"/><rect x="199" y="362" width="1" height="38" fill="url(#g80)"/><rect x="200" y="362" width="1" height="38" fill="url(#g81)"/><rect x="201" y="362" width="1" height="38" fill="url(#g82)"/><rect x="202" y="362" width="1" height="38" fill="url(#g83)"/><rect x="203" y="362" width="1" height="38" fill="url(#g84)"/><rect x="204" y="362" width="1" height="38" fill="url(#g85)"/><rect x="205" y="362" width="1" height="38" fill="url(#g86)"/><rect x="206" y="362" width="1" height="38" fill="url(#g87)"/><rect x="207" y="362" width="1" height="38" fill="url(#g88)"/><rect x="208" y="362" width="1" height="38" fill="url(#g89)"/><rect x="209" y="362" width="1" height="38" fill="url(#g90)"/><rect x="210" y="362" width="1" height="38" fill="url(#g91)"/><rect x="211" y="362" width="1" height="38" fill="url(#g92)"/><rect x="212" y="362" width="1" height="38" fill="url(#g93)"/><rect x="213" y="362" width="1" height="38" fill="url(#g94)"/><rect x="214" y="362" width="1" height="38" fill="url(#g95)"/><rect x="215" y="362" width="1" height="38" fill="url(#g96)"/><rect x="216" y="362" width="1" height="38" fill="url(#g97)"/><rect x="217" y="362" width="1" height="38" fill="url(#g98)"/><rect x="218" y="362" width="1" height="20" fill="url(#g99)"/><rect x="219" y="362" width="1" height="20" fill="url(#g100)"/><rect x="220" y="362" width="1" height="20" fill="url(#g101)"/><rect x="221" y="362" width="1" height="20" fill="url(#g102)"/><rect x="222" y="362" width="1" height="20" fill="url(#g103)"/><rect x="223" y="362" width="1" height="20" fill="url(#g104)"/><rect x="224" y="362" width="1" height="20" fill="url(#g105)"/><rect x="225" y="362" width="1" height="20" fill="url(#g106)"/><rect x="226" y="362" width="1" height="20" fill="url(#g107)"/><rect x="227" y="362" width="1" height="20" fill="url(#g108)"/><rect x="228" y="362" width="1" height="38" fill="url(#g109)"/><rect x="229" y="362" width="1" height="20" fill="url(#g110)"/><rect x="229" y="382" width="1" height="18" fill="url(#g111)"/><rect x="230" y="362" width="1" height="20" fill="url(#g112)"/><rect x="230" y="382" width="1" height="18" fill="url(#g113)"/><rect x="231" y="362" width="1" height="20" fill="url(#g114)"/><rect x="231" y="382" width="1" height="18" fill="url(#g115)"/><rect x="232" y="362" width="1" height="20" fill="url(#g116)"/><rect x="232" y="382" width="1" height="18" fill="url(#g117)"/><rect x="233" y="362" width="1" height="20" fill="url(#g118)"/><rect x="233" y="382" width="1" height="18" fill="url(#g119)"/><rect x="234" y="362" width="1" height="20" fill="url(#g120)"/><rect x="234" y="382" width="1" height="18" fill="url(#g121)"/><rect x="235" y="362" width="1" height="20" fill="url(#g122)"/><rect x="235" y="382" width="1" height="18" fill="url(#g123)"/><rect x="236" y="362" width="1" height="20" fill="url(#g124)"/><rect x="236" y="382" width="1" height="18" fill="url(#g125)"/><rect x="237" y="362" width="1" height="20" fill="url(#g126)"/><rect x="237" y="382" width="1" height="18" fill="url(#g127)"/><rect x="238" y="362" width="1" height="20" fill="url(#g128)"/><rect x="238" y="382" width="1" height="18" fill="url(#g129)"/><rect x="239" y="362" width="1" height="20" fill="url(#g130)"/><rect x="239" y="382" width="1" height="18" fill="url(#g131)"/><rect x="240" y="362" width="1" height="20" fill="url(#g132)"/><rect x="240" y="382" width="1" height="18" fill="url(#g133)"/><rect x="241" y="362" width="1" height="20" fill="url(#g134)"/><rect x="241" y="382" width="1" height="18" fill="url(#g135)"/><rect x="242" y="362" width="1" height="20" fill="url(#g136)"/><rect x="242" y="382" width="1" height="18" fill="url(#g137)"/><rect x="243" y="362" width="1" height="20" fill="url(#g138)"/><rect x="243" y="382" width="1" height="18" fill="url(#g139)"/><rect x="244" y="362" width="1" height="20" fill="url(#g140)"/><rect x="244" y="382" width="1" height="18" fill="url(#g141)"/><rect x="245" y="362" width="1" height="20" fill="url(#g142)"/><rect x="245" y="382" width="1" height="18" fill="url(#g143)"/><rect x="246" y="362" width="1" height="20" fill="url(#g144)"/><rect x="246" y="382" width="1" height="18" fill="url(#g145)"/><rect x="247" y="362" width="1" height="20" fill="url(#g146)"/><rect x="247" y="382" width="1" height="18" fill="url(#g147)"/><rect x="248" y="362" width="1" height="20" fill="url(#g148)"/><rect x="248" y="382" width="1" height="18" fill="url(#g149)"/><rect x="249" y="362" width="1" height="20" fill="url(#g150)"/><rect x="249" y="382" width="1" height="18" fill="url(#g151)"/><rect x="250" y="362" width="1" height="20" fill="url(#g152)"/><rect x="250" y="382" width="1" height="18" fill="url(#g153)"/><rect x="251" y="362" width="1" height="20" fill="url(#g154)"/><rect x="251" y="382" width="1" height="18" fill="url(#g155)"/><rect x="252" y="362" width="1" height="20" fill="url(#g156)"/><rect x="252" y="382" width="1" height="18" fill="url(#g157)"/><rect x="253" y="362" width="1" height="20" fill="url(#g158)"/><rect x="253" y="382" width="1" height="18" fill="url(#g159)"/><rect x="254" y="362" width="1" height="20" fill="url(#g160)"/><rect x="254" y="382" width="1" height="18" fill="url(#g161)"/><rect x="255" y="362" width="1" height="20" fill="url(#g162)"/><rect x="255" y="382" width="1" height="18" fill="url(#g163)"/><rect x="256" y="362" width="1" height="20" fill="url(#g164)"/><rect x="256" y="382" width="1" height="18" fill="url(#g165)"/><rect x="257" y="362" width="1" height="20" fill="url(#g166)"/><rect x="257" y="382" width="1" height="18" fill="url(#g167)"/><rect x="258" y="362" width="1" height="20" fill="url(#g168)"/><rect x="258" y="382" width="1" height="18" fill="url(#g169)"/><rect x="259" y="362" width="1" height="20" fill="url(#g170)"/><rect x="259" y="382" width="1" height="18" fill="url(#g171)"/><rect x="260" y="362" width="1" height="20" fill="url(#g172)"/><rect x="260" y="382" width="1" height="18" fill="url(#g173)"/><rect x="261" y="362" width="1" height="20" fill="url(#g174)"/><rect x="261" y="382" width="1" height="18" fill="url(#g175)"/><rect x="262" y="362" width="1" height="20" fill="url(#g176)"/><rect x="262" y="382" width="1" height="18" fill="url(#g177)"/><rect x="263" y="362" width="1" height="20" fill="url(#g178)"/><rect x="263" y="382" width="1" height="18" fill="url(#g179)"/><rect x="264" y="362" width="1" height="20" fill="url(#g180)"/><rect x="264" y="382" width="1" height="18" fill="url(#g181)"/><rect x="265" y="362" width="1" height="20" fill="url(#g182)"/><rect x="265" y="382" width="1" height="18" fill="url(#g183)"/><rect x="266" y="362" width="1" height="20" fill="url(#g184)"/><rect x="266" y="382" width="1" height="18" fill="url(#g185)"/><rect x="267" y="362" width="1" height="20" fill="url(#g186)"/><rect x="267" y="382" width="1" height="18" fill="url(#g187)"/><rect x="268" y="362" width="1" height="20" fill="url(#g188)"/><rect x="268" y="382" width="1" height="18" fill="url(#g189)"/><rect x="269" y="362" width="1" height="20" fill="url(#g190)"/><rect x="269" y="382" width="1" height="18" fill="url(#g191)"/><rect x="270" y="362" width="1" height="20" fill="url(#g192)"/><rect x="270" y="382" width="1" height="18" fill="url(#g193)"/><rect x="271" y="362" width="1" height="20" fill="url(#g194)"/><rect x="271" y="382" width="1" height="18" fill="url(#g195)"/><rect x="272" y="362" width="1" height="20" fill="url(#g196)"/><rect x="272" y="382" width="1" height="18" fill="url(#g197)"/><rect x="273" y="362" width="1" height="20" fill="url(#g198)"/><rect x="273" y="382" width="1" height="18" fill="url(#g199)"/><rect x="274" y="362" width="1" height="20" fill="url(#g200)"/><rect x="274" y="382" width="1" height="18" fill="url(#g201)"/><rect x="275" y="362" width="1" height="20" fill="url(#g202)"/><rect x="275" y="382" width="1" height="18" fill="url(#g203)"/><rect x="276" y="362" width="1" height="20" fill="url(#g204)"/><rect x="276" y="382" width="1" height="18" fill="url(#g205)"/><rect x="277" y="362" width="1" height="20" fill="url(#g206)"/><rect x="277" y="382" width="1" height="18" fill="url(#g207)"/><rect x="278" y="362" width="1" height="20" fill="url(#g208)"/><rect x="278" y="382" width="1" height="18" fill="url(#g209)"/><rect x="279" y="362" width="1" height="20" fill="url(#g210)"/><rect x="279" y="382" width="1" height="18" fill="url(#g211)"/><rect x="280" y="362" width="1" height="20" fill="url(#g212)"/><rect x="280" y="382" width="1" height="18" fill="url(#g213)"/><rect x="281" y="362" width="1" height="20" fill="url(#g214)"/><rect x="281" y="382" width="1" height="18" fill="url(#g215)"/><rect x="282" y="362" width="1" height="20" fill="url(#g216)"/><rect x="282" y="382" width="1" height="18" fill="url(#g217)"/><rect x="283" y="362" width="1" height="20" fill="url(#g218)"/><rect x="283" y="382" width="1" height="18" fill="url(#g219)"/><rect x="284" y="362" width="1" height="20" fill="url(#g220)"/><rect x="284" y="382" width="1" height="18" fill="url(#g221)"/><rect x="285" y="362" width="1" height="20" fill="url(#g222)"/><rect x="285" y="382" width="1" height="18" fill="url(#g223)"/><rect x="286" y="362" width="1" height="20" fill="url(#g224)"/><rect x="286" y="382" width="1" height="18" fill="url(#g225)"/><rect x="287" y="362" width="1" height="20" fill="url(#g226)"/><rect x="287" y="382" width="1" height="18" fill="url(#g227)"/><rect x="288" y="362" width="1" height="20" fill="url(#g228)"/><rect x="288" y="382" width="1" height="18" fill="url(#g229)"/><rect x="289" y="362" width="1" height="20" fill="url(#g230)"/><rect x="289" y="382" width="1" height="18" fill="url(#g231)"/><rect x="290" y="362" width="1" height="20" fill="url(#g232)"/><rect x="290" y="382" width="1" height="18" fill="url(#g233)"/><rect x="291" y="362" width="1" height="20" fill="url(#g234)"/><rect x="291" y="382" width="1" height="18" fill="url(#g235)"/><rect x="292" y="362" width="1" height="20" fill="url(#g236)"/><rect x="292" y="382" width="1" height="18" fill="url(#g237)"/><rect x="293" y="362" width="1" height="20" fill="url(#g238)"/><rect x="293" y="382" width="1" height="18" fill="url(#g239)"/><rect x="294" y="362" width="1" height="20" fill="url(#g240)"/><rect x="294" y="382" width="1" height="18" fill="url(#g241)"/><rect x="295" y="362" width="1" height="20" fill="url(#g242)"/><rect x="295" y="382" width="1" height="18" fill="url(#g243)"/><rect x="296" y="362" width="1" height="20" fill="url(#g244)"/><rect x="296" y="382" width="1" height="18" fill="url(#g245)"/><rect x="297" y="362" width="1" height="20" fill="url(#g246)"/><rect x="297" y="382" width="1" height="18" fill="url(#g247)"/><rect x="298" y="362" width="1" height="20" fill="url(#g248)"/><rect x="298" y="382" width="1" height="18" fill="url(#g249)"/><rect x="299" y="362" width="1" height="20" fill="url(#g250)"/><rect x="299" y="382" width="1" height="18" fill="url(#g251)"/><rect x="300" y="362" width="1" height="38" fill="url(#g252)"/><rect x="301" y="362" width="1" height="38" fill="url(#g253)"/><rect x="302" y="362" width="1" height="38" fill="url(#g254)"/><rect x="303" y="362" width="1" height="38" fill="url(#g255)"/><rect x="304" y="362" width="1" height="38" fill="url(#g256)"/><rect x="305" y="362" width="1" height="38" fill="url(#g257)"/><rect x="306" y="362" width="1" height="38" fill="url(#g258)"/><rect x="307" y="362" width="1" height="38" fill="url(#g259)"/><rect x="308" y="362" width="1" height="20" fill="url(#g260)"/><rect x="308" y="382" width="1" height="18" fill="url(#g261)"/><rect x="309" y="362" width="1" height="20" fill="url(#g262)"/><rect x="309" y="382" width="1" height="18" fill="url(#g263)"/><rect x="310" y="362" width="1" height="20" fill="url(#g264)"/><rect x="310" y="382" width="1" height="18" fill="url(#g265)"/><rect x="311" y="362" width="1" height="20" fill="url(#g266)"/><rect x="311" y="382" width="1" height="18" fill="url(#g267)"/><rect x="312" y="362" width="1" height="20" fill="url(#g268)"/><rect x="312" y="382" width="1" height="18" fill="url(#g269)"/><rect x="313" y="362" width="1" height="20" fill="url(#g270)"/><rect x="313" y="382" width="1" height="18" fill="url(#g271)"/><rect x="314" y="362" width="1" height="20" fill="url(#g272)"/><rect x="314" y="382" width="1" height="18" fill="url(#g273)"/><rect x="315" y="362" width="1" height="20" fill="url(#g274)"/><rect x="315" y="382" width="1" height="18" fill="url(#g275)"/><rect x="316" y="362" width="1" height="20" fill="url(#g276)"/><rect x="316" y="382" width="1" height="18" fill="url(#g277)"/><rect x="317" y="362" width="1" height="20" fill="url(#g278)"/><rect x="317" y="382" width="1" height="18" fill="url(#g279)"/><rect x="318" y="362" width="1" height="20" fill="url(#g280)"/><rect x="318" y="382" width="1" height="18" fill="url(#g281)"/><rect x="319" y="362" width="1" height="20" fill="url(#g282)"/><rect x="319" y="382" width="1" height="18" fill="url(#g283)"/><rect x="320" y="362" width="1" height="20" fill="url(#g284)"/><rect x="320" y="382" width="1" height="18" fill="url(#g285)"/><rect x="321" y="362" width="1" height="20" fill="url(#g286)"/><rect x="321" y="382" width="1" height="18" fill="url(#g287)"/><rect x="322" y="362" width="1" height="20" fill="url(#g288)"/><rect x="322" y="382" width="1" height="18" fill="url(#g289)"/><rect x="323" y="362" width="1" height="20" fill="url(#g290)"/><rect x="323" y="382" width="1" height="18" fill="url(#g291)"/><rect x="324" y="362" width="1" height="20" fill="url(#g292)"/><rect x="324" y="382" width="1" height="18" fill="url(#g293)"/><rect x="325" y="362" width="1" height="20" fill="url(#g294)"/><rect x="325" y="382" width="1" height="18" fill="url(#g295)"/><rect x="326" y="362" width="1" height="20" fill="url(#g296)"/><rect x="326" y="382" width="1" height="18" fill="url(#g297)"/><rect x="327" y="362" width="1" height="38" fill="url(#g298)"/><rect x="328" y="362" width="1" height="38" fill="url(#g299)"/><rect x="329" y="362" width="1" height="38" fill="url(#g300)"/><rect x="330" y="362" width="1" height="38" fill="url(#g301)"/><rect x="331" y="362" width="1" height="38" fill="url(#g302)"/><rect x="332" y="362" width="1" height="38" fill="url(#g303)"/><rect x="333" y="362" width="1" height="38" fill="url(#g304)"/><rect x="334" y="362" width="1" height="38" fill="url(#g305)"/><rect x="335" y="362" width="1" height="38" fill="url(#g306)"/><rect x="336" y="362" width="1" height="38" fill="url(#g307)"/><rect x="337" y="362" width="1" height="38" fill="url(#g308)"/><rect x="338" y="362" width="1" height="38" fill="url(#g309)"/><rect x="339" y="362" width="1" height="38" fill="url(#g310)"/><rect x="340" y="362" width="1" height="38" fill="url(#g311)"/><rect x="341" y="362" width="1" height="38" fill="url(#g312)"/><rect x="342" y="362" width="1" height="20" fill="url(#g313)"/><rect x="342" y="382" width="1" height="18" fill="url(#g314)"/><rect x="343" y="362" width="1" height="20" fill="url(#g315)"/><rect x="343" y="382" width="1" height="18" fill="url(#g316)"/><rect x="344" y="362" width="1" height="20" fill="url(#g317)"/><rect x="344" y="382" width="1" height="18" fill="url(#g318)"/><rect x="345" y="362" width="1" height="20" fill="url(#g319)"/><rect x="345" y="382" width="1" height="18" fill="url(#g320)"/><rect x="346" y="362" width="1" height="20" fill="url(#g321)"/><rect x="346" y="382" width="1" height="18" fill="url(#g322)"/><rect x="347" y="362" width="1" height="20" fill="url(#g323)"/><rect x="347" y="382" width="1" height="18" fill="url(#g324)"/><rect x="348" y="362" width="1" height="20" fill="url(#g325)"/><rect x="348" y="382" width="1" height="18" fill="url(#g326)"/><rect x="349" y="362" width="1" height="20" fill="url(#g327)"/><rect x="349" y="382" width="1" height="18" fill="url(#g328)"/><rect x="350" y="362" width="1" height="20" fill="url(#g329)"/><rect x="350" y="382" width="1" height="18" fill="url(#g330)"/><rect x="351" y="362" width="1" height="20" fill="url(#g331)"/><rect x="351" y="382" width="1" height="18" fill="url(#g332)"/><rect x="352" y="362" width="1" height="20" fill="url(#g333)"/><rect x="352" y="382" width="1" height="18" fill="url(#g334)"/><rect x="353" y="362" width="1" height="20" fill="url(#g335)"/><rect x="353" y="382" width="1" height="18" fill="url(#g336)"/><rect x="354" y="362" width="1" height="20" fill="url(#g337)"/><rect x="354" y="382" width="1" height="18" fill="url(#g338)"/><rect x="355" y="362" width="1" height="20" fill="url(#g339)"/><rect x="355" y="382" width="1" height="18" fill="url(#g340)"/><rect x="356" y="362" width="1" height="20" fill="url(#g341)"/><rect x="356" y="382" width="1" height="18" fill="url(#g342)"/><rect x="357" y="362" width="1" height="20" fill="url(#g343)"/><rect x="357" y="382" width="1" height="18" fill="url(#g344)"/><rect x="358" y="362" width="1" height="20" fill="url(#g345)"/><rect x="358" y="382" width="1" height="18" fill="url(#g346)"/><rect x="359" y="362" width="1" height="20" fill="url(#g347)"/><rect x="359" y="382" width="1" height="18" fill="url(#g348)"/><rect x="360" y="362" width="1" height="20" fill="url(#g349)"/><rect x="360" y="382" width="1" height="18" fill="url(#g350)"/><rect x="361" y="362" width="1" height="20" fill="url(#g351)"/><rect x="361" y="382" width="1" height="18" fill="url(#g352)"/><rect x="362" y="362" width="1" height="20" fill="url(#g353)"/><rect x="362" y="382" width="1" height="18" fill="url(#g354)"/><rect x="363" y="362" width="1" height="20" fill="url(#g355)"/><rect x="363" y="382" width="1" height="18" fill="url(#g356)"/><rect x="364" y="362" width="1" height="20" fill="url(#g357)"/><rect x="364" y="382" width="1" height="18" fill="url(#g358)"/><rect x="365" y="362" width="1" height="20" fill="url(#g359)"/><rect x="365" y="382" width="1" height="18" fill="url(#g360)"/><rect x="366" y="362" width="1" height="20" fill="url(#g361)"/><rect x="366" y="382" width="1" height="18" fill="url(#g362)"/><rect x="367" y="362" width="1" height="20" fill="url(#g363)"/><rect x="367" y="382" width="1" height="18" fill="url(#g364)"/><rect x="368" y="362" width="1" height="20" fill="url(#g365)"/><rect x="368" y="382" width="1" height="18" fill="url(#g366)"/><rect x="369" y="362" width="1" height="20" fill="url(#g367)"/><rect x="369" y="382" width="1" height="18" fill="url(#g368)"/><rect x="370" y="362" width="1" height="20" fill="url(#g369)"/><rect x="370" y="382" width="1" height="18" fill="url(#g370)"/><rect x="371" y="362" width="1" height="20" fill="url(#g371)"/><rect x="371" y="382" width="1" height="18" fill="url(#g372)"/><rect x="372" y="362" width="1" height="20" fill="url(#g373)"/><rect x="372" y="382" width="1" height="18" fill="url(#g374)"/><rect x="373" y="362" width="1" height="20" fill="url(#g375)"/><rect x="373" y="382" width="1" height="18" fill="url(#g376)"/><rect x="374" y="362" width="1" height="20" fill="url(#g377)"/><rect x="374" y="382" width="1" height="18" fill="url(#g378)"/><rect x="375" y="362" width="1" height="20" fill="url(#g379)"/><rect x="375" y="382" width="1" height="18" fill="url(#g380)"/><rect x="376" y="362" width="1" height="20" fill="url(#g381)"/><rect x="376" y="382" width="1" height="18" fill="url(#g382)"/><rect x="377" y="362" width="1" height="20" fill="url(#g383)"/><rect x="377" y="382" width="1" height="18" fill="url(#g384)"/><rect x="378" y="362" width="1" height="20" fill="url(#g385)"/><rect x="378" y="382" width="1" height="18" fill="url(#g386)"/><rect x="379" y="362" width="1" height="20" fill="url(#g387)"/><rect x="379" y="382" width="1" height="18" fill="url(#g388)"/><rect x="380" y="362" width="1" height="20" fill="url(#g389)"/><rect x="380" y="382" width="1" height="18" fill="url(#g390)"/><rect x="381" y="362" width="1" height="20" fill="url(#g391)"/><rect x="381" y="382" width="1" height="18" fill="url(#g392)"/><rect x="382" y="362" width="1" height="20" fill="url(#g393)"/><rect x="382" y="382" width="1" height="18" fill="url(#g394)"/><rect x="383" y="362" width="1" height="20" fill="url(#g395)"/><rect x="383" y="382" width="1" height="18" fill="url(#g396)"/><rect x="384" y="362" width="1" height="20" fill="url(#g397)"/><rect x="384" y="382" width="1" height="18" fill="url(#g398)"/><rect x="385" y="362" width="1" height="20" fill="url(#g399)"/><rect x="385" y="382" width="1" height="18" fill="url(#g400)"/><rect x="386" y="362" width="1" height="20" fill="url(#g401)"/><rect x="386" y="382" width="1" height="18" fill="url(#g402)"/><rect x="387" y="362" width="1" height="20" fill="url(#g403)"/><rect x="387" y="382" width="1" height="18" fill="url(#g404)"/><rect x="388" y="362" width="1" height="20" fill="url(#g405)"/><rect x="388" y="382" width="1" height="18" fill="url(#g406)"/><rect x="389" y="362" width="1" height="20" fill="url(#g407)"/><rect x="389" y="382" width="1" height="18" fill="url(#g408)"/><rect x="390" y="362" width="1" height="20" fill="url(#g409)"/><rect x="390" y="382" width="1" height="18" fill="url(#g410)"/><rect x="391" y="362" width="1" height="20" fill="url(#g411)"/><rect x="391" y="382" width="1" height="18" fill="url(#g412)"/><rect x="392" y="362" width="1" height="20" fill="url(#g413)"/><rect x="392" y="382" width="1" height="18" fill="url(#g414)"/><rect x="393" y="362" width="1" height="20" fill="url(#g415)"/><rect x="393" y="382" width="1" height="18" fill="url(#g416)"/><rect x="394" y="362" width="1" height="20" fill="url(#g417)"/><rect x="394" y="382" width="1" height="18" fill="url(#g418)"/><rect x="395" y="362" width="1" height="20" fill="url(#g419)"/><rect x="395" y="382" width="1" height="18" fill="url(#g420)"/><rect x="396" y="362" width="1" height="20" fill="url(#g421)"/><rect x="396" y="382" width="1" height="18" fill="url(#g422)"/><rect x="397" y="362" width="1" height="20" fill="url(#g423)"/><rect x="397" y="382" width="1" height="18" fill="url(#g424)"/><rect x="398" y="362" width="1" height="20" fill="url(#g425)"/><rect x="398" y="382" width="1" height="18" fill="url(#g426)"/><rect x="399" y="362" width="1" height="20" fill="url(#g427)"/><rect x="399" y="382" width="1" height="18" fill="url(#g428)"/><rect x="400" y="362" width="1" height="20" fill="url(#g429)"/><rect x="400" y="382" width="1" height="18" fill="url(#g430)"/><rect x="401" y="362" width="1" height="20" fill="url(#g431)"/><rect x="401" y="382" width="1" height="18" fill="url(#g432)"/><rect x="402" y="362" width="1" height="20" fill="url(#g433)"/><rect x="402" y="382" width="1" height="18" fill="url(#g434)"/><rect x="403" y="362" width="1" height="20" fill="url(#g435)"/><rect x="403" y="382" width="1" height="18" fill="url(#g436)"/><rect x="404" y="362" width="1" height="38" fill="url(#g437)"/><rect x="405" y="362" width="1" height="38" fill="url(#g438)"/><rect x="406" y="362" width="1" height="38" fill="url(#g439)"/><rect x="407" y="362" width="1" height="38" fill="url(#g440)"/><rect x="408" y="362" width="1" height="38" fill="url(#g441)"/><rect x="409" y="362" width="1" height="38" fill="url(#g442)"/><rect x="410" y="362" width="1" height="38" fill="url(#g443)"/><rect x="411" y="362" width="1" height="38" fill="url(#g444)"/><rect x="412" y="362" width="1" height="38" fill="url(#g445)"/><rect x="413" y="362" width="1" height="38" fill="url(#g446)"/><rect x="414" y="362" width="1" height="38" fill="url(#g447)"/><rect x="415" y="362" width="1" height="38" fill="url(#g448)"/><rect x="416" y="362" width="1" height="38" fill="url(#g449)"/><rect x="417" y="362" width="1" height="38" fill="url(#g450)"/><rect x="418" y="362" width="1" height="38" fill="url(#g451)"/><rect x="419" y="362" width="1" height="38" fill="url(#g452)"/><rect x="420" y="362" width="1" height="38" fill="url(#g453)"/><rect x="421" y="362" width="1" height="38" fill="url(#g454)"/><rect x="422" y="362" width="1" height="38" fill="url(#g455)"/><rect x="423" y="362" width="1" height="38" fill="url(#g456)"/><rect x="424" y="362" width="1" height="38" fill="url(#g457)"/><rect x="425" y="362" width="1" height="38" fill="url(#g458)"/><rect x="426" y="362" width="1" height="38" fill="url(#g459)"/><rect x="427" y="362" width="1" height="38" fill="url(#g460)"/><rect x="428" y="362" width="1" height="38" fill="url(#g461)"/><rect x="429" y="362" width="1" height="38" fill="url(#g462)"/><rect x="430" y="362" width="1" height="38" fill="url(#g463)"/><rect x="431" y="362" width="1" height="38" fill="url(#g464)"/><rect x="432" y="362" width="1" height="38" fill="url(#g465)"/><rect x="433" y="362" width="1" height="38" fill="url(#g466)"/><rect x="434" y="362" width="1" height="38" fill="url(#g467)"/><rect x="435" y="362" width="1" height="38" fill="url(#g468)"/><rect x="436" y="362" width="1" height="38" fill="url(#g469)"/><rect x="437" y="362" width="1" height="38" fill="url(#g470)"/><rect x="438" y="362" width="1" height="38" fill="url(#g471)"/><rect x="439" y="362" width="1" height="38" fill="url(#g472)"/><rect x="440" y="362" width="1" height="38" fill="url(#g473)"/><rect x="441" y="362" width="1" height="38" fill="url(#g474)"/><rect x="442" y="362" width="1" height="38" fill="url(#g475)"/><rect x="443" y="362" width="1" height="38" fill="url(#g476)"/><rect x="444" y="362" width="1" height="38" fill="url(#g477)"/><rect x="445" y="362" width="1" height="38" fill="url(#g478)"/><rect x="446" y="362" width="1" height="38" fill="url(#g479)"/><rect x="447" y="362" width="1" height="38" fill="url(#g480)"/><rect x="448" y="362" width="1" height="38" fill="url(#g481)"/><rect x="449" y="362" width="1" height="38" fill="url(#g482)"/><rect x="450" y="362" width="1" height="38" fill="url(#g483)"/><rect x="451" y="362" width="1" height="38" fill="url(#g484)"/><rect x="452" y="362" width="1" height="38" fill="url(#g485)"/><rect x="453" y="362" width="1" height="38" fill="url(#g486)"/><rect x="454" y="362" width="1" height="38" fill="url(#g487)"/><rect x="455" y="362" width="1" height="38" fill="url(#g488)"/><rect x="456" y="362" width="1" height="38" fill="url(#g489)"/><rect x="457" y="362" width="1" height="38" fill="url(#g490)"/><rect x="458" y="362" width="1" height="38" fill="url(#g491)"/><rect x="459" y="362" width="1" height="38" fill="url(#g492)"/><rect x="460" y="362" width="1" height="38" fill="url(#g493)"/><rect x="461" y="362" width="1" height="38" fill="url(#g494)"/><rect x="462" y="362" width="1" height="38" fill="url(#g495)"/><rect x="463" y="362" width="1" height="38" fill="url(#g496)"/><rect x="464" y="362" width="1" height="38" fill="url(#g497)"/><rect x="465" y="362" width="1" height="38" fill="url(#g498)"/><rect x="466" y="362" width="1" height="38" fill="url(#g499)"/><rect x="467" y="362" width="1" height="38" fill="url(#g500)"/><rect x="468" y="362" width="1" height="38" fill="url(#g501)"/><rect x="469" y="362" width="1" height="38" fill="url(#g502)"/><rect x="470" y="362" width="1" height="38" fill="url(#g503)"/><rect x="471" y="362" width="1" height="38" fill="url(#g504)"/><rect x="472" y="362" width="1" height="38" fill="url(#g505)"/><rect x="473" y="362" width="1" height="38" fill="url(#g506)"/><rect x="474" y="362" width="1" height="38" fill="url(#g507)"/><rect x="475" y="362" width="1" height="38" fill="url(#g508)"/><rect x="476" y="362" width="1" height="38" fill="url(#g509)"/><rect x="477" y="362" width="1" height="38" fill="url(#g510)"/><rect x="478" y="362" width="1" height="38" fill="url(#g511)"/><rect x="479" y="362" width="1" height="38" fill="url(#g512)"/><rect x="480" y="362" width="1" height="38" fill="url(#g513)"/><rect x="481" y="362" width="1" height="38" fill="url(#g514)"/><rect x="482" y="362" width="1" height="38" fill="url(#g515)"/><rect x="483" y="362" width="1" height="38" fill="url(#g516)"/><rect x="484" y="362" width="1" height="38" fill="url(#g517)"/><rect x="485" y="362" width="1" height="38" fill="url(#g518)"/><rect x="486" y="362" width="1" height="38" fill="url(#g519)"/><rect x="487" y="362" width="1" height="38" fill="url(#g520)"/><rect x="488" y="362" width="1" height="38" fill="url(#g521)"/><rect x="489" y="362" width="1" height="38" fill="url(#g522)"/><rect x="490" y="362" width="1" height="38" fill="url(#g523)"/><rect x="491" y="362" width="1" height="38" fill="url(#g524)"/><rect x="492" y="362" width="1" height="38" fill="url(#g525)"/><rect x="493" y="362" width="1" height="38" fill="url(#g526)"/><rect x="494" y="362" width="1" height="38" fill="url(#g527)"/><rect x="495" y="362" width="1" height="38" fill="url(#g528)"/><rect x="496" y="362" width="1" height="38" fill="url(#g529)"/><rect x="497" y="362" width="1" height="38" fill="url(#g530)"/><rect x="498" y="362" width="1" height="38" fill="url(#g531)"/><rect x="499" y="362" width="1" height="38" fill="url(#g532)"/><rect x="500" y="362" width="1" height="38" fill="url(#g533)"/><rect x="501" y="362" width="1" height="38" fill="url(#g534)"/><rect x="502" y="362" width="1" height="38" fill="url(#g535)"/><rect x="503" y="362" width="1" height="38" fill="url(#g536)"/><rect x="504" y="362" width="1" height="38" fill="url(#g537)"/><rect x="505" y="362" width="1" height="38" fill="url(#g538)"/><rect x="506" y="362" width="1" height="38" fill="url(#g539)"/><rect x="507" y="362" width="1" height="38" fill="url(#g540)"/><rect x="508" y="362" width="1" height="38" fill="url(#g541)"/><rect x="509" y="362" width="1" height="38" fill="url(#g542)"/><rect x="510" y="362" width="1" height="38" fill="url(#g543)"/><rect x="511" y="362" width="1" height="38" fill="url(#g544)"/><rect x="512" y="362" width="1" height="38" fill="url(#g545)"/><rect x="513" y="362" width="1" height="38" fill="url(#g546)"/><rect x="514" y="362" width="1" height="38" fill="url(#g547)"/><rect x="515" y="362" width="1" height="38" fill="url(#g548)"/><rect x="516" y="362" width="1" height="38" fill="url(#g549)"/><rect x="517" y="362" width="1" height="38" fill="url(#g550)"/><rect x="518" y="362" width="1" height="38" fill="url(#g551)"/><rect x="519" y="362" width="1" height="38" fill="url(#g552)"/><rect x="520" y="362" width="1" height="38" fill="url(#g553)"/><rect x="521" y="362" width="1" height="38" fill="url(#g554)"/><rect x="522" y="362" width="1" height="38" fill="url(#g555)"/><rect x="523" y="362" width="1" height="38" fill="url(#g556)"/><rect x="524" y="362" width="1" height="38" fill="url(#g557)"/><rect x="525" y="362" width="1" height="38" fill="url(#g558)"/><rect x="526" y="362" width="1" height="38" fill="url(#g559)"/><rect x="527" y="362" width="1" height="38" fill="url(#g560)"/><rect x="528" y="362" width="1" height="38" fill="url(#g561)"/><rect x="529" y="362" width="1" height="38" fill="url(#g562)"/><rect x="530" y="362" width="1" height="38" fill="url(#g563)"/><rect x="531" y="362" width="1" height="38" fill="url(#g564)"/><rect x="532" y="362" width="1" height="38" fill="url(#g565)"/><rect x="533" y="362" width="1" height="38" fill="url(#g566)"/><rect x="534" y="362" width="1" height="38" fill="url(#g567)"/><rect x="535" y="362" width="1" height="38" fill="url(#g568)"/><rect x="536" y="362" width="1" height="38" fill="url(#g569)"/><rect x="537" y="362" width="1" height="38" fill="url(#g570)"/><rect x="538" y="362" width="1" height="38" fill="url(#g571)"/><rect x="539" y="362" width="1" height="38" fill="url(#g572)"/><rect x="540" y="362" width="1" height="38" fill="url(#g573)"/><rect x="541" y="362" width="1" height="38" fill="url(#g574)"/><rect x="542" y="362" width="1" height="38" fill="url(#g575)"/><rect x="543" y="362" width="1" height="38" fill="url(#g576)"/><rect x="544" y="362" width="1" height="38" fill="url(#g577)"/><rect x="545" y="362" width="1" height="38" fill="url(#g578)"/><rect x="546" y="362" width="1" height="38" fill="url(#g579)"/><rect x="547" y="362" width="1" height="38" fill="url(#g580)"/><rect x="548" y="362" width="1" height="38" fill="url(#g581)"/><rect x="549" y="362" width="1" height="38" fill="url(#g582)"/><rect x="550" y="362" width="1" height="38" fill="url(#g583)"/><rect x="551" y="362" width="1" height="38" fill="url(#g584)"/><rect x="552" y="362" width="1" height="38" fill="url(#g585)"/><rect x="553" y="362" width="1" height="38" fill="url(#g586)"/><rect x="554" y="362" width="1" height="38" fill="url(#g587)"/><rect x="555" y="362" width="1" height="38" fill="url(#g588)"/><rect x="556" y="362" width="1" height="38" fill="url(#g589)"/><rect x="557" y="362" width="1" height="38" fill="url(#g590)"/><rect x="558" y="362" width="1" height="38" fill="url(#g591)"/><rect x="559" y="362" width="1" height="38" fill="url(#g592)"/><rect x="560" y="362" width="1" height="38" fill="url(#g593)"/><rect x="561" y="362" width="1" height="38" fill="url(#g594)"/><rect x="562" y="362" width="1" height="38" fill="url(#g595)"/><rect x="563" y="362" width="1" height="38" fill="url(#g596)"/><rect x="564" y="362" width="1" height="38" fill="url(#g597)"/><rect x="565" y="362" width="1" height="38" fill="url(#g598)"/><rect x="566" y="362" width="1" height="38" fill="url(#g599)"/><rect x="567" y="362" width="1" height="38" fill="url(#g600)"/><rect x="568" y="362" width="1" height="38" fill="url(#g601)"/><rect x="569" y="362" width="1" height="38" fill="url(#g602)"/><rect x="570" y="362" width="1" height="38" fill="url(#g603)"/><rect x="571" y="362" width="1" height="38" fill="url(#g604)"/><rect x="572" y="362" width="1" height="38" fill="url(#g605)"/><rect x="573" y="362" width="1" height="38" fill="url(#g606)"/><rect x="574" y="362" width="1" height="38" fill="url(#g607)"/><rect x="575" y="362" width="1" height="38" fill="url(#g608)"/><rect x="576" y="362" width="1" height="38" fill="url(#g609)"/><rect x="577" y="362" width="1" height="38" fill="url(#g610)"/><rect x="578" y="362" width="1" height="38" fill="url(#g611)"/><rect x="579" y="362" width="1" height="38" fill="url(#g612)"/><rect x="580" y="362" width="1" height="38" fill="url(#g613)"/><rect x="581" y="362" width="1" height="38" fill="url(#g614)"/></g>
<rect x="593" y="338" width="12" height="143" fill="url(#cb)" shape-rendering="crispEdges"/>
<clipPath id="c1"><rect x="120" y="30" width="462" height="143"/></clipPath>
<clipPath id="c2"><rect x="120" y="184" width="462" height="143"/></clipPath>
<polyline points="120.5,150.5 121.5,150.5 121.5,154.5 124.5,154.5 125.5,150.5 127.5,154.5 129.5,150.5 130.5,146.83 131.5,123.5 132.5,123.5 133.5,139.5 134.5,139.5 134.5,154.5 139.5,154.5 140.5,165.5 142.5,160.5 144.5,154.5 146.5,160.5 148.5,154.5 149.5,150.5 151.5,139.5 154.5,154.5 155.5,165.5 158.5,160.5 159.5,154.5 161.5,150.5 163.5,145.5 164.5,165.5 175.5,165.5 175.5,160.5 179.5,160.5 179.5,165.5 184.5,165.5 185.5,129.5 187.5,129.5 187.5,154.5 188.5,154.5 188.5,150.5 191.5,150.5 191.5,154.5 192.5,139.5 193.5,123.5 194.5,108.5 197.5,108.5 198.5,114.5 199.5,92.5 200.5,92.5 202.5,103.5 203.5,114.5 205.5,92.5 206.5,92.5 207.5,108.5 209.5,88.5 211.5,103.5 212.5,98.5 214.5,98.5 215.5,108.5 219.5,108.5 221.5,129.5 222.5,114.5 225.5,114.5 225.5,88.5 227.5,88.5 228.5,98.5 229.5,98.5 230.5,108.5 231.5,114.5 233.5,119.5 235.5,108.5 237.5,119.5 238.5,139.5 240.5,139.5 240.5,134.5 242.5,134.5 242.5,145.5 244.5,160.5 246.5,165.5 248.5,123.5 251.5,123.5 251.5,108.5 253.5,108.5 253.5,129.5 254.5,129.5 255.5,114.5 256.5,114.5 257.5,134.5 258.5,134.5 259.5,123.5 260.5,123.5 261.5,108.5 263.5,103.5 264.5,103.5 264.5,123.5 266.5,123.5 267.5,108.5 268.5,108.5 268.5,119.5 269.5,119.5 270.5,108.5 272.5,108.5 274.5,134.5 276.5,139.5 277.5,154.5 279.5,154.5 279.5,134.5 281.5,134.5 281.5,98.5 282.5,98.5 283.5,119.5 284.5,119.5 285.5,83.5 286.5,83.5 287.5,108.5 288.5,108.5 289.5,129.5 290.5,129.5 291.5,98.5 292.5,98.5 292.5,103.5 297.5,103.5 298.5,114.5 301.5,114.5 302.5,150.5 304.5,154.5 305.5,160.5 306.5,160.5 307.5,150.5 310.5,150.5 311.5,123.5 313.5,119.5 314.5,119.5 315.5,129.5 317.5,134.5 320.5,134.5 320.5,134.5 320.5,100.25 320.5,88.5 321.5,88.5 322.5,83.5 325.5,83.5 326.5,46.5 327.5,46.5 329.5,36.5 330.5,46.5 330.5,46.5 331.5,61.5 333.5,61.5 333.5,77.5 335.5,77.5 336.5,72.5 337.5,103.5 340.5,103.5 341.5,108.5 343.5,119.5 344.5,114.5 346.5,114.5 346.5,145.5 348.5,145.5 350.5,154.5 352.5,123.5 353.5,123.5 354.5,114.5 357.5,114.5 357.5,119.5 359.5,119.5 359.5,145.5 361.5,145.5 362.5,150.5 363.5,160.5 365.5,154.5 367.5,145.5 369.5,123.5 370.5,123.5 370.5,150.5 372.5,150.5 372.5,139.5 373.5,139.5 374.5,129.5 376.5,150.5 378.5,134.5 379.5,134.5 380.5,139.5 381.5,139.5 382.5,123.5 382.5,123.5 383.5,123.5 383.5,129.5 385.5,129.5 385.5,98.5 387.5,98.5 387.5,119.5 388.5,119.5 389.5,114.5 391.5,134.5 392.5,134.5 393.5,114.5 396.5,114.5 396.5,129.5 401.5,129.5 402.5,103.5 403.5,103.5 404.5,114.5 406.5,119.5 408.5,123.5 409.5,123.5 409.5,108.5 413.5,108.5 413.5,92.5 418.5,92.5 419.5,114.5 420.5,114.5 421.5,108.5 422.5,108.5 422.5,114.5 424.5,114.5 425.5,119.5 426.5,119.5 426.5,114.5 427.5,114.5 429.5,129.5 431.5,134.5 432.5,114.5 435.5,114.5 436.5,108.5 437.5,108.5 437.5,98.5 439.5,98.5 439.5,119.5 440.5,119.5 441.5,123.5 444.5,123.5 446.5,114.5 447.5,123.5 450.5,123.5 450.5,108.5 452.5,108.5 452.5,129.5 453.5,129.5 454.5,114.5 455.5,114.5 457.5,103.5 458.5,114.5 459.5,114.5 460.5,129.5 461.5,129.5 462.5,123.5 463.5,123.5 463.5,129.5 466.5,129.5 467.5,134.5 468.5,134.5 469.5,119.5 470.5,119.5 471.5,114.5 473.5,119.5 474.5,119.5 475.5,134.5 476.5,134.5 476.5,114.5 478.5,114.5 478.5,123.5 480.5,123.5 480.5,129.5 481.5,129.5 483.5,145.5 483.5,145.5 484.5,134.5 487.5,134.5 488.5,160.5 489.5,160.5 489.5,145.5 493.5,145.5 494.5,150.5 494.5,150.5 495.5,139.5 496.5,139.5 497.5,154.5 499.5,134.5 500.5,134.5 501.5,139.5 502.5,139.5 503.5,150.5 504.5,150.5 505.5,165.5 506.5,165.5 506.5,154.5 509.5,154.5 510.5,160.5 513.5,160.5 514.5,154.5 517.5,154.5 517.5,160.5 522.5,160.5 523.5,165.5 526.5,165.5 527.5,160.5 530.5,160.5 530.5,154.5 532.5,154.5 532.5,145.5 535.5,145.5 536.5,150.5 537.5,150.5 538.5,160.5 540.5,165.5 541.5,165.5 541.5,160.5 545.5,160.5 545.5,154.5 546.5,154.5 547.5,150.5 548.5,150.5 549.5,154.5 550.5,154.5 551.5,150.5 552.5,150.5 553.5,160.5 556.5,160.5 556.5,150.5 558.5,150.5 558.5,154.5 561.5,154.5 562.5,150.5 563.5,150.5 564.5,160.5 565.5,160.5 565.5,154.5 566.5,154.5 567.5,165.5 570.5,165.5 571.5,160.5 578.5,160.5 579.5,154.5 580.5,154.5" fill="none" stroke="#000" stroke-width="1" stroke-linejoin="miter" stroke-miterlimit="3" clip-path="url(#c1)"/>
<polyline points="120.11,238.67 122.21,239.72 124.32,233.93 125.58,236.04 126.95,235.83 128.53,236.88 130.63,232.36 132.21,231.3 133.79,227.09 134.84,227.83 135.89,230.25 137.47,231.62 139.05,230.57 141.16,230.25 143.79,228.67 145.37,227.09 146.95,226.57 149.58,224.67 150.63,224.99 151.16,228.67 152.74,229.51 154.32,229.2 155.89,225.3 157.16,225.51 158.53,228.67 159.58,231.3 161.16,229.72 162.21,229.2 163.79,224.99 164.84,223.93 166.42,226.04 168,226.57 169.58,224.99 170.63,222.88 171.89,223.93 173.26,227.83 174.84,228.14 176.42,229.51 178,229.2 178.53,226.57 180.11,225.51 181.68,224.67 183.79,222.36 184.84,220.25 185.89,216.04 187.47,216.57 188.42,220.09 190.11,220.09 191.89,214.3 193.26,212.93 194,217.99 195.37,226.41 196.63,237.99 198.21,231.14 199.26,229.57 200,235.36 200.84,245.36 201.68,255.36 202.74,249.57 203.47,251.67 204.53,249.57 205.58,242.72 206.32,249.57 207.68,239.04 209.26,240.62 210.53,243.78 211.58,241.14 212.63,242.72 214,238.51 216.11,236.09 217.16,238.51 218.74,242.2 220.32,243.04 221.68,245.36 222.74,250.09 223.79,244.3 224.84,239.57 225.89,240.62 227.16,233.78 228.21,231.67 229.47,233.25 230.53,231.14 231.16,237.99 231.89,234.83 232.95,241.14 234,237.99 235.37,237.46 236.42,231.14 237.68,230.09 238.21,236.93 239.26,230.83 241.37,226.62 242.42,229.04 243.47,233.25 244.84,230.83 246.63,231.67 248,238.51 249.26,236.93 250.84,231.67 252.42,240.09 253.47,243.25 254.21,236.93 255.26,233.78 256.11,236.93 257.37,232.2 258.63,231.88 259.68,235.88 260.53,232.2 261.58,231.67 262.63,236.93 263.89,243.25 265.26,239.04 266.32,236.93 267.68,240.09 268.95,236.93 270.21,233.78 271.58,241.14 272.63,237.99 274,234.83 275.26,236.93 277.37,237.99 278.63,233.78 280,228.3 281.05,228.51 282.11,233.78 282.84,237.46 283.89,231.67 284.74,233.25 285.79,243.25 286.53,255.36 287.37,246.41 288.42,243.25 289.47,244.83 291.05,240.62 292.32,245.36 293.68,246.41 294.74,245.36 296.32,251.14 297.37,246.41 298.42,243.78 300,244.83 301.58,239.57 303.16,237.99 304.74,239.04 306.32,239.57 307.68,243.25 308.95,238.51 310.53,236.93 311.58,236.93 312.95,234.62 314.42,235.36 315.79,236.41 317.37,235.88 320,234.83 321.16,233.41 321.58,222.36 322.42,223.93 323.26,234.99 324.32,248.14 325.37,234.99 326.42,227.62 326.84,240.25 327.72,287.45 328.66,320.37 328.98,326.17 329.29,321.16 329.92,321.16 330.54,326.17 332.89,326.17 333.37,303.13 334.93,293.72 335.72,273.34 336.5,285.88 338.07,284.31 339.95,276.47 341.52,267.85 342.62,271.77 343.87,266.28 346.22,257.66 348.57,259.23 350.14,255.31 351.71,256.87 353.28,254.52 354.53,243.41 355.26,252.88 356.63,244.46 357.68,240.78 359.26,242.88 360.84,246.04 362.42,250.25 364.32,246.04 366.11,248.14 367.47,249.2 369.26,243.41 370.84,242.36 372.42,241.3 373.79,240.78 374.84,242.36 375.89,246.04 377.68,246.04 379.05,241.83 380.53,234.99 381.89,237.09 383.47,229.2 384.21,229.99 385.47,225.78 386.53,235.78 387.58,243.14 388.95,238.41 390,242.09 391.37,241.57 392.63,243.14 393.89,247.36 395.26,245.78 396.84,247.88 398.11,244.72 399.47,242.09 401.58,238.72 402.95,241.57 404.42,240.51 405.79,243.14 406.84,249.46 408.21,250.51 409.47,238.93 410.53,242.62 411.58,250.51 412.42,243.14 413.47,242.62 414.21,246.3 415.58,252.62 416.63,249.46 418.11,248.41 419.79,243.67 421.05,246.83 422.63,250.51 424,245.25 425.26,243.67 426.53,247.36 427.89,244.72 429.47,243.67 430.74,245.25 432.11,239.46 433.68,238.41 435.26,242.09 436.84,247.88 438.42,252.41 439.47,245.78 440.84,242.62 442.11,245.25 443.37,244.72 445.26,248.93 447.37,247.88 448.95,244.72 450.21,243.78 451.26,248.51 452.53,243.78 453.58,242.72 454.95,246.93 456,242.72 457.37,243.04 458.42,251.14 459.68,249.04 461.79,249.04 462.84,242.72 463.89,239.04 465.16,239.04 466.53,242.2 467.89,240.09 468.63,236.41 469.68,235.67 470.74,239.04 471.79,244.3 473.89,244.3 475.26,246.41 476.53,243.25 478.11,240.09 479.89,234.62 481.26,236.93 482.84,238.2 484.42,239.04 486,242.2 487.26,242.2 488.63,239.04 490.21,238.51 491.79,237.99 493.89,234.3 495.47,232.72 496.32,234.83 497.05,239.57 498.42,239.04 499.68,236.41 500.74,237.46 502.32,240.09 503.37,236.93 504.95,237.99 506.53,236.93 508.11,234.3 510.42,231.46 512.53,234.83 513.89,234.83 516,233.25 517.26,236.3 519.37,231.57 520.63,234.2 522,234.2 523.58,230.51 524.84,228.93 526.53,231.04 527.79,229.78 529.37,228.93 530.95,233.67 532.21,229.46 533.58,226.3 535.16,225.78 537.26,223.46 538.53,224.2 539.58,226.3 540.63,224.72 542.53,227.36 543.79,225.78 545.68,224.72 547.58,223.46 548.84,225.25 550.11,227.36 551.79,225.25 553.26,229.46 554.95,225.25 556.42,222.09 557.47,221.57 558.32,218.62 559.16,222.62 560.63,228.93 562.32,228.41 563.58,229.46 564.84,232.09 566.21,231.57 567.26,233.14 568.84,229.46 569.89,229.99 571.47,228.09 572.53,228.41 574.63,222.83 575.47,224.2 576.42,229.14 577.79,224.2 579.37,223.67 580.95,226.3" fill="none" stroke="#000" stroke-width="1.2" stroke-linejoin="round" stroke-miterlimit="3" clip-path="url(#c2)"/>
<g fill="#000" shape-rendering="crispEdges">
<rect x="120" y="30" width="462" height="1"/>
<rect x="120" y="172" width="462" height="1"/>
<rect x="120" y="30" width="1" height="143"/>
<rect x="581" y="30" width="1" height="143"/>
<rect x="120" y="173" width="1" height="8"/>
<rect x="134" y="173" width="1" height="4"/>
<rect x="149" y="173" width="1" height="4"/>
<rect x="164" y="173" width="1" height="4"/>
<rect x="179" y="173" width="1" height="4"/>
<rect x="194" y="173" width="1" height="4"/>
<rect x="209" y="173" width="1" height="4"/>
<rect x="224" y="173" width="1" height="4"/>
<rect x="238" y="173" width="1" height="4"/>
<rect x="253" y="173" width="1" height="4"/>
<rect x="268" y="173" width="1" height="8"/>
<rect x="283" y="173" width="1" height="4"/>
<rect x="298" y="173" width="1" height="4"/>
<rect x="313" y="173" width="1" height="4"/>
<rect x="328" y="173" width="1" height="4"/>
<rect x="343" y="173" width="1" height="4"/>
<rect x="357" y="173" width="1" height="4"/>
<rect x="372" y="173" width="1" height="4"/>
<rect x="387" y="173" width="1" height="4"/>
<rect x="402" y="173" width="1" height="4"/>
<rect x="417" y="173" width="1" height="8"/>
<rect x="432" y="173" width="1" height="4"/>
<rect x="447" y="173" width="1" height="4"/>
<rect x="462" y="173" width="1" height="4"/>
<rect x="476" y="173" width="1" height="4"/>
<rect x="491" y="173" width="1" height="4"/>
<rect x="506" y="173" width="1" height="4"/>
<rect x="521" y="173" width="1" height="4"/>
<rect x="536" y="173" width="1" height="4"/>
<rect x="551" y="173" width="1" height="4"/>
<rect x="566" y="173" width="1" height="8"/>
<rect x="581" y="173" width="1" height="4"/>
<rect x="120" y="184" width="462" height="1"/>
<rect x="120" y="326" width="462" height="1"/>
<rect x="120" y="184" width="1" height="143"/>
<rect x="581" y="184" width="1" height="143"/>
<rect x="120" y="327" width="1" height="8"/>
<rect x="134" y="327" width="1" height="4"/>
<rect x="149" y="327" width="1" height="4"/>
<rect x="164" y="327" width="1" height="4"/>
<rect x="179" y="327" width="1" height="4"/>
<rect x="194" y="327" width="1" height="4"/>
<rect x="209" y="327" width="1" height="4"/>
<rect x="224" y="327" width="1" height="4"/>
<rect x="238" y="327" width="1" height="4"/>
<rect x="253" y="327" width="1" height="4"/>
<rect x="268" y="327" width="1" height="8"/>
<rect x="283" y="327" width="1" height="4"/>
<rect x="298" y="327" width="1" height="4"/>
<rect x="313" y="327" width="1" height="4"/>
<rect x="328" y="327" width="1" height="4"/>
<rect x="343" y="327" width="1" height="4"/>
<rect x="357" y="327" width="1" height="4"/>
<rect x="372" y="327" width="1" height="4"/>
<rect x="387" y="327" width="1" height="4"/>
<rect x="402" y="327" width="1" height="4"/>
<rect x="417" y="327" width="1" height="8"/>
<rect x="432" y="327" width="1" height="4"/>
<rect x="447" y="327" width="1" height="4"/>
<rect x="462" y="327" width="1" height="4"/>
<rect x="476" y="327" width="1" height="4"/>
<rect x="491" y="327" width="1" height="4"/>
<rect x="506" y="327" width="1" height="4"/>
<rect x="521" y="327" width="1" height="4"/>
<rect x="536" y="327" width="1" height="4"/>
<rect x="551" y="327" width="1" height="4"/>
<rect x="566" y="327" width="1" height="8"/>
<rect x="581" y="327" width="1" height="4"/>
<rect x="120" y="338" width="462" height="1"/>
<rect x="120" y="480" width="462" height="1"/>
<rect x="120" y="338" width="1" height="143"/>
<rect x="581" y="338" width="1" height="143"/>
<rect x="120" y="481" width="1" height="8"/>
<rect x="134" y="481" width="1" height="4"/>
<rect x="149" y="481" width="1" height="4"/>
<rect x="164" y="481" width="1" height="4"/>
<rect x="179" y="481" width="1" height="4"/>
<rect x="194" y="481" width="1" height="4"/>
<rect x="209" y="481" width="1" height="4"/>
<rect x="224" y="481" width="1" height="4"/>
<rect x="238" y="481" width="1" height="4"/>
<rect x="253" y="481" width="1" height="4"/>
<rect x="268" y="481" width="1" height="8"/>
<rect x="283" y="481" width="1" height="4"/>
<rect x="298" y="481" width="1" height="4"/>
<rect x="313" y="481" width="1" height="4"/>
<rect x="328" y="481" width="1" height="4"/>
<rect x="343" y="481" width="1" height="4"/>
<rect x="357" y="481" width="1" height="4"/>
<rect x="372" y="481" width="1" height="4"/>
<rect x="387" y="481" width="1" height="4"/>
<rect x="402" y="481" width="1" height="4"/>
<rect x="417" y="481" width="1" height="8"/>
<rect x="432" y="481" width="1" height="4"/>
<rect x="447" y="481" width="1" height="4"/>
<rect x="462" y="481" width="1" height="4"/>
<rect x="476" y="481" width="1" height="4"/>
<rect x="491" y="481" width="1" height="4"/>
<rect x="506" y="481" width="1" height="4"/>
<rect x="521" y="481" width="1" height="4"/>
<rect x="536" y="481" width="1" height="4"/>
<rect x="551" y="481" width="1" height="4"/>
<rect x="566" y="481" width="1" height="8"/>
<rect x="581" y="481" width="1" height="4"/>
<rect x="112" y="165" width="8" height="1"/>
<rect x="116" y="149" width="4" height="1"/>
<rect x="112" y="134" width="8" height="1"/>
<rect x="116" y="118" width="4" height="1"/>
<rect x="112" y="103" width="8" height="1"/>
<rect x="116" y="87" width="4" height="1"/>
<rect x="112" y="72" width="8" height="1"/>
<rect x="116" y="56" width="4" height="1"/>
<rect x="112" y="41" width="8" height="1"/>
<rect x="112" y="322" width="8" height="1"/>
<rect x="116" y="315" width="4" height="1"/>
<rect x="116" y="308" width="4" height="1"/>
<rect x="116" y="301" width="4" height="1"/>
<rect x="116" y="294" width="4" height="1"/>
<rect x="112" y="287" width="8" height="1"/>
<rect x="116" y="280" width="4" height="1"/>
<rect x="116" y="273" width="4" height="1"/>
<rect x="116" y="266" width="4" height="1"/>
<rect x="116" y="259" width="4" height="1"/>
<rect x="112" y="252" width="8" height="1"/>
<rect x="116" y="245" width="4" height="1"/>
<rect x="116" y="238" width="4" height="1"/>
<rect x="116" y="231" width="4" height="1"/>
<rect x="116" y="224" width="4" height="1"/>
<rect x="112" y="217" width="8" height="1"/>
<rect x="116" y="210" width="4" height="1"/>
<rect x="116" y="203" width="4" height="1"/>
<rect x="116" y="196" width="4" height="1"/>
<rect x="116" y="189" width="4" height="1"/>
<rect x="116" y="479" width="4" height="1"/>
<rect x="116" y="477" width="4" height="1"/>
<rect x="116" y="475" width="4" height="1"/>
<rect x="112" y="473" width="8" height="1"/>
<rect x="116" y="471" width="4" height="1"/>
<rect x="116" y="469" width="4" height="1"/>
<rect x="116" y="468" width="4" height="1"/>
<rect x="116" y="466" width="4" height="1"/>
<rect x="116" y="464" width="4" height="1"/>
<rect x="116" y="462" width="4" height="1"/>
<rect x="116" y="460" width="4" height="1"/>
<rect x="116" y="458" width="4" height="1"/>
<rect x="116" y="456" width="4" height="1"/>
<rect x="112" y="455" width="8" height="1"/>
<rect x="116" y="453" width="4" height="1"/>
<rect x="116" y="451" width="4" height="1"/>
<rect x="116" y="449" width="4" height="1"/>
<rect x="116" y="447" width="4" height="1"/>
<rect x="116" y="445" width="4" height="1"/>
<rect x="116" y="444" width="4" height="1"/>
<rect x="116" y="442" width="4" height="1"/>
<rect x="116" y="440" width="4" height="1"/>
<rect x="116" y="438" width="4" height="1"/>
<rect x="112" y="436" width="8" height="1"/>
<rect x="116" y="434" width="4" height="1"/>
<rect x="116" y="432" width="4" height="1"/>
<rect x="116" y="431" width="4" height="1"/>
<rect x="116" y="429" width="4" height="1"/>
<rect x="116" y="427" width="4" height="1"/>
<rect x="116" y="425" width="4" height="1"/>
<rect x="116" y="423" width="4" height="1"/>
<rect x="116" y="421" width="4" height="1"/>
<rect x="116" y="420" width="4" height="1"/>
<rect x="112" y="418" width="8" height="1"/>
<rect x="116" y="416" width="4" height="1"/>
<rect x="116" y="414" width="4" height="1"/>
<rect x="116" y="412" width="4" height="1"/>
<rect x="116" y="410" width="4" height="1"/>
<rect x="116" y="408" width="4" height="1"/>
<rect x="116" y="407" width="4" height="1"/>
<rect x="116" y="405" width="4" height="1"/>
<rect x="116" y="403" width="4" height="1"/>
<rect x="116" y="401" width="4" height="1"/>
<rect x="112" y="399" width="8" height="1"/>
<rect x="116" y="397" width="4" height="1"/>
<rect x="116" y="396" width="4" height="1"/>
<rect x="116" y="394" width="4" height="1"/>
<rect x="116" y="392" width="4" height="1"/>
<rect x="116" y="390" width="4" height="1"/>
<rect x="116" y="388" width="4" height="1"/>
<rect x="116" y="386" width="4" height="1"/>
<rect x="116" y="384" width="4" height="1"/>
<rect x="116" y="383" width="4" height="1"/>
<rect x="112" y="381" width="8" height="1"/>
<rect x="116" y="379" width="4" height="1"/>
<rect x="116" y="377" width="4" height="1"/>
<rect x="116" y="375" width="4" height="1"/>
<rect x="116" y="373" width="4" height="1"/>
<rect x="116" y="372" width="4" height="1"/>
<rect x="116" y="370" width="4" height="1"/>
<rect x="116" y="368" width="4" height="1"/>
<rect x="116" y="366" width="4" height="1"/>
<rect x="116" y="364" width="4" height="1"/>
<rect x="112" y="362" width="8" height="1"/>
<rect x="116" y="361" width="4" height="1"/>
<rect x="116" y="359" width="4" height="1"/>
<rect x="116" y="357" width="4" height="1"/>
<rect x="116" y="355" width="4" height="1"/>
<rect x="116" y="353" width="4" height="1"/>
<rect x="116" y="351" width="4" height="1"/>
<rect x="116" y="349" width="4" height="1"/>
<rect x="116" y="348" width="4" height="1"/>
<rect x="116" y="346" width="4" height="1"/>
<rect x="112" y="344" width="8" height="1"/>
<rect x="116" y="342" width="4" height="1"/>
<rect x="116" y="340" width="4" height="1"/>
<rect x="116" y="338" width="4" height="1"/>
<rect x="605" y="338" width="1" height="143"/>
<rect x="606" y="479" width="4" height="1"/>
<rect x="606" y="476" width="4" height="1"/>
<rect x="606" y="474" width="4" height="1"/>
<rect x="606" y="472" width="4" height="1"/>
<rect x="606" y="470" width="4" height="1"/>
<rect x="606" y="468" width="4" height="1"/>
<rect x="606" y="467" width="8" height="1"/>
<rect x="606" y="457" width="4" height="1"/>
<rect x="606" y="451" width="4" height="1"/>
<rect x="606" y="447" width="4" height="1"/>
<rect x="606" y="444" width="4" height="1"/>
<rect x="606" y="442" width="4" height="1"/>
<rect x="606" y="439" width="4" height="1"/>
<rect x="606" y="437" width="4" height="1"/>
<rect x="606" y="436" width="4" height="1"/>
<rect x="606" y="434" width="8" height="1"/>
<rect x="606" y="425" width="4" height="1"/>
<rect x="606" y="419" width="4" height="1"/>
<rect x="606" y="415" width="4" height="1"/>
<rect x="606" y="412" width="4" height="1"/>
<rect x="606" y="409" width="4" height="1"/>
<rect x="606" y="407" width="4" height="1"/>
<rect x="606" y="405" width="4" height="1"/>
<rect x="606" y="404" width="4" height="1"/>
<rect x="606" y="402" width="8" height="1"/>
<rect x="606" y="392" width="4" height="1"/>
<rect x="606" y="387" width="4" height="1"/>
<rect x="606" y="383" width="4" height="1"/>
<rect x="606" y="380" width="4" height="1"/>
<rect x="606" y="377" width="4" height="1"/>
<rect x="606" y="375" width="4" height="1"/>
<rect x="606" y="373" width="4" height="1"/>
<rect x="606" y="371" width="4" height="1"/>
<rect x="606" y="370" width="8" height="1"/>
<rect x="606" y="360" width="4" height="1"/>
<rect x="606" y="354" width="4" height="1"/>
<rect x="606" y="350" width="4" height="1"/>
<rect x="606" y="347" width="4" height="1"/>
<rect x="606" y="345" width="4" height="1"/>
<rect x="606" y="343" width="4" height="1"/>
<rect x="606" y="341" width="4" height="1"/>
<rect x="606" y="339" width="4" height="1"/>
<rect x="606" y="338" width="8" height="1"/>
</g>
<g font-family='"DejaVu Sans","Liberation Sans",sans-serif' font-size="12" fill="#000">
<text x="107.9" y="169.6" text-anchor="end">0</text>
<text x="107.9" y="138.6" text-anchor="end">20</text>
<text x="107.9" y="107.6" text-anchor="end">40</text>
<text x="107.9" y="76.6" text-anchor="end">60</text>
<text x="107.9" y="45.6" text-anchor="end">80</text>
<text x="107.9" y="221.6" text-anchor="end">0</text>
<text x="107.9" y="256.6" text-anchor="end">-50</text>
<text x="107.9" y="291.6" text-anchor="end">-100</text>
<text x="107.9" y="326.6" text-anchor="end">-150</text>
<text x="107.9" y="478.1" text-anchor="end">-1</text>
<text x="107.9" y="459.7" text-anchor="end">0</text>
<text x="107.9" y="441.2" text-anchor="end">1</text>
<text x="107.9" y="422.8" text-anchor="end">2</text>
<text x="107.9" y="404.4" text-anchor="end">3</text>
<text x="107.9" y="385.9" text-anchor="end">4</text>
<text x="107.9" y="367.4" text-anchor="end">5</text>
<text x="107.9" y="349.0" text-anchor="end">6</text>
<text x="119.0" y="504" text-anchor="middle" letter-spacing="0.13">2006-12-01</text>
<text x="267.7" y="504" text-anchor="middle" letter-spacing="0.13">2006-12-11</text>
<text x="416.4" y="504" text-anchor="middle" letter-spacing="0.13">2006-12-21</text>
<text x="565.1" y="504" text-anchor="middle" letter-spacing="0.13">2006-12-31</text>
<text x="617" y="475.2">10<tspan dx="0.9" dy="-6.2">-1</tspan></text>
<text x="617" y="443.0">10<tspan dx="0.9" dy="-6.2">0</tspan></text>
<text x="617" y="410.7">10<tspan dx="0.9" dy="-6.2">1</tspan></text>
<text x="617" y="378.5">10<tspan dx="0.9" dy="-6.2">2</tspan></text>
<text x="617" y="346.2">10<tspan dx="0.9" dy="-6.2">3</tspan></text>
<text transform="translate(46.4,102) rotate(-90)" text-anchor="middle" letter-spacing="0.1">Kp</text>
<text transform="translate(59.0,103) rotate(-90)" text-anchor="middle" letter-spacing="0.1">(e.g. 3+ = 33,</text>
<text transform="translate(70.5,104) rotate(-90)" text-anchor="middle" letter-spacing="0.1">6- = 57,</text>
<text transform="translate(82.8,103) rotate(-90)" text-anchor="middle" letter-spacing="0.1">4 = 40, etc.)</text>
<text transform="translate(71.4,254.7) rotate(-90)" text-anchor="middle" letter-spacing="0.1">DST</text>
<text transform="translate(87.2,408.5) rotate(-90)" text-anchor="middle" letter-spacing="0.1">Proton Flux</text>
</g>
</svg>
</body></html>
